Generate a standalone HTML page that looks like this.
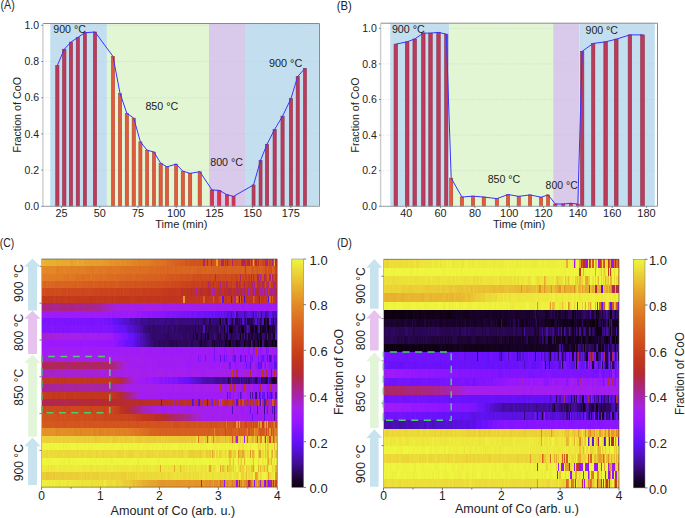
<!DOCTYPE html>
<html><head><meta charset="utf-8"><style>
html,body{margin:0;padding:0;background:#fff;}
#wrap{position:relative;width:685px;height:518px;overflow:hidden;background:#fff;}
.hm{position:absolute;}
.r{position:absolute;left:0;width:100%;}
svg{position:absolute;left:0;top:0;}
svg text{font-family:"Liberation Sans", sans-serif;}
</style></head><body><div id="wrap">
<div class="hm" style="left:41.5px;top:0;width:235.8px"><div class="r" style="top:259.00px;height:7.66px;background:linear-gradient(90deg,#e9b430 0 1.2px,#e9b530 0 2.4px,#e8b330 0 3.5px,#e8ad2e 0 4.7px,#e9b430 0 5.9px,#e8b22f 0 7.1px,#e8ae2f 0 8.3px,#e8b12f 0 9.4px,#e8b02f 0 11.8px,#e8ae2f 0 13.0px,#e8af2f 0 14.1px,#e7ab2e 0 15.3px,#e7ac2e 0 16.5px,#e7ab2e 0 17.7px,#e8ae2f 0 18.9px,#e7ac2e 0 20.0px,#e7aa2e 0 21.2px,#e7a82d 0 22.4px,#e7a92e 0 23.6px,#e7aa2e 0 24.8px,#e7a82d 0 25.9px,#e8ad2e 0 27.1px,#e7ac2e 0 28.3px,#e69f2b 0 29.5px,#e6a12c 0 30.7px,#e7a62d 0 31.8px,#e6a52d 0 33.0px,#e7a72d 0 34.2px,#e7a62d 0 35.4px,#e7ac2e 0 36.5px,#e6a12c 0 37.7px,#e6a32c 0 38.9px,#e7ab2e 0 40.1px,#e7a62d 0 41.3px,#e6a52d 0 42.4px,#e6a12c 0 43.6px,#e59d2b 0 44.8px,#e6a22c 0 47.2px,#e59d2b 0 48.3px,#e59e2b 0 49.5px,#e6a02b 0 50.7px,#e59d2b 0 51.9px,#e69f2b 0 54.2px,#e59f2b 0 55.4px,#e59d2b 0 56.6px,#e69f2b 0 57.8px,#e6a02b 0 59.0px,#e59e2b 0 60.1px,#e59a2a 0 61.3px,#e59d2b 0 62.5px,#e4992a 0 63.7px,#e59c2a 0 64.8px,#e49529 0 66.0px,#e59a2a 0 67.2px,#e49729 0 68.4px,#e39228 0 69.6px,#e49429 0 73.1px,#e39027 0 74.3px,#e38e27 0 75.5px,#e39128 0 76.6px,#e38e27 0 77.8px,#e39027 0 79.0px,#e39028 0 80.2px,#e28926 0 81.4px,#e38d27 0 82.5px,#e38f27 0 83.7px,#e28a26 0 84.9px,#e28826 0 86.1px,#e28b26 0 87.2px,#e28926 0 88.4px,#e28a26 0 89.6px,#e18625 0 90.8px,#e18225 0 92.0px,#e18525 0 93.1px,#e18325 0 94.3px,#e18525 0 95.5px,#e18325 0 96.7px,#e07e24 0 99.0px,#e18325 0 100.2px,#e08124 0 101.4px,#e07d24 0 102.6px,#e07e24 0 107.3px,#df7b23 0 108.5px,#df7a23 0 109.6px,#df7823 0 110.8px,#df7b23 0 112.0px,#dd7222 0 113.2px,#de7622 0 115.5px,#dd7222 0 116.7px,#de7522 0 117.9px,#dd7222 0 119.1px,#de7422 0 120.3px,#dd7022 0 121.4px,#dd7122 0 123.8px,#dc6e21 0 125.0px,#db6a21 0 126.2px,#da6721 0 127.3px,#dc6d21 0 128.5px,#da6721 0 129.7px,#d96520 0 132.0px,#d86320 0 133.2px,#d96420 0 134.4px,#d86120 0 135.6px,#d76020 0 136.8px,#d65e1f 0 137.9px,#d75f20 0 139.1px,#d55b1f 0 140.3px,#d65d1f 0 142.7px,#d4561f 0 143.8px,#d2531e 0 145.0px,#d4571f 0 146.2px,#d55a1f 0 147.4px,#d3541e 0 148.6px,#d2521e 0 149.7px,#d3561e 0 150.9px,#d2521e 0 152.1px,#d2531e 0 154.4px,#d3551e 0 155.6px,#d2521e 0 158.0px,#d1511e 0 159.2px,#d2531e 0 160.3px,#d2521e 0 161.5px,#ad2667 0 162.7px,#d1511e 0 165.1px,#b1284e 0 166.2px,#d2531e 0 167.4px,#d3541e 0 168.6px,#aa2584 0 169.8px,#d1501e 0 171.0px,#d04f1e 0 172.1px,#d2511e 0 174.5px,#e59e2b 0 175.7px,#d04f1e 0 176.8px,#d2531e 0 178.0px,#d3541e 0 179.2px,#a824a5 0 180.4px,#ae2763 0 181.6px,#d3541e 0 182.7px,#bc3026 0 183.9px,#cf4c1d 0 185.1px,#b72b2d 0 186.3px,#cd471d 0 187.5px,#d04e1d 0 188.6px,#d4571f 0 189.8px,#ac2672 0 191.0px,#d2521e 0 192.2px,#cf4d1d 0 193.4px,#d04f1e 0 194.5px,#ce4a1d 0 195.7px,#d1501e 0 196.9px,#d04e1e 0 198.1px,#d3541e 0 199.3px,#a92598 0 200.4px,#b62a2f 0 201.6px,#ab2678 0 202.8px,#aa258c 0 204.0px,#cb441c 0 205.1px,#ac266f 0 206.3px,#b4293d 0 207.5px,#d2511e 0 208.7px,#ae2760 0 209.9px,#d1501e 0 211.0px,#e7ab2e 0 212.2px,#d2531e 0 213.4px,#b92d2b 0 214.6px,#ce4a1d 0 215.8px,#bf3320 0 216.9px,#d3551e 0 218.1px,#d04f1e 0 219.3px,#d1501e 0 220.5px,#ca431c 0 221.7px,#cd481d 0 222.8px,#ba2e29 0 224.0px,#a8259a 0 225.2px,#ac2673 0 226.4px,#d2521e 0 227.5px,#c73d1d 0 228.7px,#ce4b1d 0 229.9px,#aa258d 0 231.1px,#ce4a1d 0 232.3px,#e8ae2f 0 233.4px,#b72b2d 0 234.6px,#bf331f 0 235.8px)"></div>
<div class="r" style="top:266.36px;height:7.66px;background:linear-gradient(90deg,#e28a26 0 1.2px,#e18725 0 2.4px,#e28b26 0 3.5px,#e18525 0 4.7px,#e18725 0 7.1px,#e38d27 0 8.3px,#e18325 0 9.4px,#e28826 0 10.6px,#e28926 0 11.8px,#e28726 0 13.0px,#e28926 0 14.1px,#e18325 0 15.3px,#e07f24 0 16.5px,#e18725 0 17.7px,#e08124 0 18.9px,#e18325 0 20.0px,#e08124 0 21.2px,#e18625 0 22.4px,#e18525 0 23.6px,#e08124 0 24.8px,#e18525 0 25.9px,#e18225 0 27.1px,#e08124 0 28.3px,#e08224 0 29.5px,#e08024 0 30.7px,#e18225 0 31.8px,#e08124 0 33.0px,#e07f24 0 34.2px,#e18225 0 35.4px,#e07e24 0 36.5px,#e08024 0 38.9px,#e18225 0 40.1px,#e07d24 0 41.3px,#e18225 0 42.4px,#e07e24 0 43.6px,#e07c24 0 44.8px,#df7b23 0 46.0px,#e07e24 0 47.2px,#df7c23 0 48.3px,#df7823 0 50.7px,#df7923 0 53.1px,#e07d24 0 55.4px,#df7c23 0 56.6px,#df7a23 0 57.8px,#df7723 0 59.0px,#df7823 0 60.1px,#df7a23 0 61.3px,#e07d24 0 62.5px,#df7a23 0 63.7px,#de7622 0 64.8px,#de7722 0 66.0px,#de7522 0 67.2px,#de7422 0 68.4px,#de7522 0 69.6px,#de7622 0 70.7px,#df7a23 0 71.9px,#de7422 0 73.1px,#df7823 0 75.5px,#de7422 0 76.6px,#df7723 0 77.8px,#de7422 0 79.0px,#dd7222 0 80.2px,#de7322 0 81.4px,#dd7222 0 82.5px,#dd7122 0 86.1px,#dd7222 0 87.2px,#dc6f21 0 88.4px,#dd7022 0 89.6px,#dc6d21 0 90.8px,#dd7022 0 92.0px,#dd7122 0 93.1px,#dc6f21 0 95.5px,#dd7022 0 96.7px,#dc6d21 0 99.0px,#dc6f21 0 100.2px,#dd7022 0 101.4px,#dc6e21 0 102.6px,#dd7222 0 103.8px,#db6c21 0 104.9px,#dc6e21 0 106.1px,#dc6f21 0 107.3px,#db6b21 0 108.5px,#db6a21 0 109.6px,#da6921 0 110.8px,#db6b21 0 112.0px,#dc6d21 0 113.2px,#db6b21 0 114.4px,#db6a21 0 115.5px,#da6921 0 116.7px,#db6b21 0 117.9px,#d96520 0 119.1px,#da6921 0 121.4px,#d96620 0 122.6px,#dc6d21 0 123.8px,#d96520 0 125.0px,#d96620 0 127.3px,#db6a21 0 128.5px,#d96620 0 129.7px,#da6921 0 132.0px,#da6821 0 133.2px,#d96420 0 134.4px,#d96620 0 135.6px,#db6b21 0 136.8px,#d96420 0 137.9px,#d96520 0 139.1px,#d96620 0 140.3px,#da6821 0 141.5px,#da6721 0 142.7px,#da6821 0 143.8px,#d96420 0 145.0px,#da6821 0 146.2px,#da6721 0 147.4px,#d86220 0 148.6px,#da6921 0 149.7px,#db6a21 0 150.9px,#d86320 0 152.1px,#d96520 0 153.3px,#da6821 0 154.4px,#d86220 0 155.6px,#d76020 0 156.8px,#d86220 0 158.0px,#d86320 0 160.3px,#d96520 0 161.5px,#d96420 0 162.7px,#d86120 0 163.9px,#d96520 0 165.1px,#da6721 0 166.2px,#d96620 0 167.4px,#d96520 0 168.6px,#d86320 0 169.8px,#d96520 0 171.0px,#d86120 0 172.1px,#d96420 0 173.3px,#d86220 0 174.5px,#d96520 0 175.7px,#d86320 0 176.8px,#d76020 0 178.0px,#d86220 0 179.2px,#d96420 0 180.4px,#d75f20 0 181.6px,#d76020 0 183.9px,#d75e20 0 185.1px,#d86320 0 186.3px,#d96420 0 187.5px,#d86220 0 188.6px,#d86120 0 189.8px,#d76020 0 191.0px,#d86120 0 192.2px,#d75f20 0 193.4px,#d86220 0 195.7px,#d86120 0 196.9px,#d75f20 0 198.1px,#d76020 0 199.3px,#d86220 0 201.6px,#d75e20 0 202.8px,#c8401c 0 204.0px,#d76020 0 205.1px,#d86220 0 206.3px,#d86320 0 207.5px,#da6821 0 208.7px,#d65d1f 0 209.9px,#d4561f 0 211.0px,#d5591f 0 212.2px,#da6721 0 213.4px,#d65c1f 0 214.6px,#d2521e 0 215.8px,#d96620 0 216.9px,#d55a1f 0 218.1px,#d96520 0 219.3px,#d76020 0 220.5px,#d65c1f 0 221.7px,#d4581f 0 222.8px,#cf4b1d 0 224.0px,#d2521e 0 225.2px,#d65c1f 0 226.4px,#d2521e 0 228.7px,#cf4c1d 0 229.9px,#da6721 0 231.1px,#d4571f 0 232.3px,#d55b1f 0 233.4px,#ca411c 0 234.6px,#de7322 0 235.8px)"></div>
<div class="r" style="top:273.72px;height:7.66px;background:linear-gradient(90deg,#e18425 0 1.2px,#e08024 0 2.4px,#df7b23 0 3.5px,#e08124 0 4.7px,#e07e24 0 5.9px,#df7b23 0 7.1px,#e08124 0 8.3px,#e07f24 0 9.4px,#e07c24 0 10.6px,#e08024 0 11.8px,#df7b23 0 13.0px,#e07e24 0 14.1px,#df7a23 0 15.3px,#e07d24 0 16.5px,#df7923 0 17.7px,#e07f24 0 18.9px,#df7b23 0 20.0px,#e07e24 0 21.2px,#df7823 0 23.6px,#df7b23 0 24.8px,#dd7222 0 25.9px,#de7522 0 27.1px,#df7b23 0 28.3px,#df7923 0 29.5px,#df7a23 0 30.7px,#de7622 0 31.8px,#df7823 0 33.0px,#de7422 0 34.2px,#dd7222 0 35.4px,#dd7122 0 36.5px,#de7322 0 40.1px,#db6c21 0 41.3px,#dc6f21 0 42.4px,#dd7222 0 43.6px,#de7322 0 44.8px,#dd7122 0 46.0px,#dd7022 0 47.2px,#dc6d21 0 48.3px,#de7622 0 49.5px,#dc6f21 0 50.7px,#de7422 0 53.1px,#dd7122 0 54.2px,#dc6e21 0 55.4px,#dd7022 0 56.6px,#dc6d21 0 57.8px,#dc6f21 0 59.0px,#dc6e21 0 60.1px,#dc6f21 0 61.3px,#dd7022 0 62.5px,#dd7122 0 63.7px,#db6c21 0 64.8px,#dc6f21 0 66.0px,#db6b21 0 67.2px,#db6a21 0 68.4px,#db6b21 0 69.6px,#da6921 0 70.7px,#dc6d21 0 74.3px,#db6a21 0 76.6px,#da6821 0 77.8px,#da6721 0 79.0px,#db6a21 0 80.2px,#da6921 0 81.4px,#d96620 0 82.5px,#da6921 0 83.7px,#d96420 0 84.9px,#da6721 0 86.1px,#d96620 0 88.4px,#d96420 0 89.6px,#da6821 0 90.8px,#da6721 0 92.0px,#da6821 0 93.1px,#d96520 0 94.3px,#d86220 0 95.5px,#d96420 0 96.7px,#d86220 0 97.9px,#d96520 0 99.0px,#d96620 0 100.2px,#d96420 0 101.4px,#d86220 0 103.8px,#d86320 0 104.9px,#d75f20 0 106.1px,#d86220 0 108.5px,#d76020 0 110.8px,#d86120 0 112.0px,#d75e20 0 114.4px,#d86120 0 115.5px,#d76020 0 116.7px,#d86220 0 117.9px,#d65d1f 0 119.1px,#d55b1f 0 120.3px,#d75f20 0 122.6px,#d55b1f 0 123.8px,#d5591f 0 125.0px,#d55b1f 0 126.2px,#d4571f 0 127.3px,#d55a1f 0 128.5px,#d3551e 0 129.7px,#d5591f 0 130.9px,#d3551e 0 132.0px,#d4581f 0 133.2px,#d55a1f 0 134.4px,#d4561f 0 135.6px,#d4581f 0 136.8px,#d3551e 0 137.9px,#d3541e 0 139.1px,#d2521e 0 140.3px,#d4561f 0 141.5px,#d3541e 0 142.7px,#d4561f 0 143.8px,#d1501e 0 145.0px,#d2521e 0 147.4px,#d3541e 0 149.7px,#d04f1e 0 150.9px,#d04d1d 0 152.1px,#cf4c1d 0 153.3px,#d2511e 0 154.4px,#d04e1e 0 155.6px,#d04d1d 0 156.8px,#d04e1e 0 158.0px,#ce491d 0 159.2px,#ce4b1d 0 160.3px,#d1501e 0 161.5px,#d04e1e 0 162.7px,#d04e1d 0 163.9px,#cf4b1d 0 165.1px,#d04e1e 0 166.2px,#d1511e 0 167.4px,#ce4a1d 0 168.6px,#d04d1d 0 169.8px,#cf4c1d 0 171.0px,#d04e1d 0 172.1px,#ce4b1d 0 173.3px,#b02855 0 174.5px,#cf4d1d 0 175.7px,#ce4a1d 0 176.8px,#cf4b1d 0 178.0px,#ce4b1d 0 179.2px,#d2511e 0 180.4px,#cf4d1d 0 181.6px,#cf4c1d 0 182.7px,#cc471d 0 183.9px,#ce4a1d 0 185.1px,#d04f1e 0 186.3px,#ce4a1d 0 187.5px,#cf4c1d 0 188.6px,#cc451c 0 189.8px,#ce491d 0 191.0px,#ce4a1d 0 192.2px,#d04e1d 0 193.4px,#cb441c 0 194.5px,#cb451c 0 195.7px,#cf4c1d 0 196.9px,#cf4d1d 0 198.1px,#ae275f 0 199.3px,#d1501e 0 200.4px,#cb441c 0 201.6px,#ce4a1d 0 202.8px,#c9411c 0 205.1px,#cf4b1d 0 206.3px,#c63d1d 0 207.5px,#ce491d 0 208.7px,#b32945 0 209.9px,#d2521e 0 211.0px,#ac2672 0 212.2px,#ce4b1d 0 213.4px,#ce491d 0 214.6px,#b32945 0 215.8px,#b12851 0 216.9px,#ca431c 0 218.1px,#a92598 0 219.3px,#ca421c 0 220.5px,#d04e1d 0 221.7px,#b12850 0 222.8px,#a8259b 0 224.0px,#ca411c 0 225.2px,#d14f1e 0 226.4px,#d55a1f 0 227.5px,#ab2679 0 228.7px,#d75f20 0 229.9px,#af275d 0 231.1px,#ca431c 0 232.3px,#cc461c 0 233.4px,#c1361e 0 234.6px,#ac266d 0 235.8px)"></div>
<div class="r" style="top:281.08px;height:7.66px;background:linear-gradient(90deg,#da6921 0 1.2px,#db6a21 0 2.4px,#d86320 0 3.5px,#d96620 0 4.7px,#db6c21 0 5.9px,#d96520 0 7.1px,#da6721 0 8.3px,#da6921 0 9.4px,#d96520 0 10.6px,#da6821 0 11.8px,#d86320 0 13.0px,#d86220 0 14.1px,#d86320 0 15.3px,#d86220 0 16.5px,#d96520 0 17.7px,#d96420 0 18.9px,#d96520 0 20.0px,#d86220 0 21.2px,#da6921 0 22.4px,#d86320 0 24.8px,#d96420 0 25.9px,#d86220 0 27.1px,#d86120 0 28.3px,#d86220 0 29.5px,#d96420 0 30.7px,#d86320 0 33.0px,#d76020 0 34.2px,#d75f20 0 35.4px,#d96520 0 36.5px,#d76020 0 37.7px,#d86120 0 40.1px,#d86220 0 41.3px,#d65d1f 0 42.4px,#d75e20 0 43.6px,#d65e1f 0 46.0px,#d55a1f 0 47.2px,#d65e1f 0 48.3px,#d4581f 0 49.5px,#d75e20 0 53.1px,#d55a1f 0 54.2px,#d75e20 0 55.4px,#d55b1f 0 56.6px,#d55a1f 0 60.1px,#d65c1f 0 61.3px,#d65d1f 0 62.5px,#d4571f 0 63.7px,#d5591f 0 64.8px,#d65c1f 0 66.0px,#d55a1f 0 67.2px,#d55b1f 0 68.4px,#d4571f 0 69.6px,#d55b1f 0 70.7px,#d3561e 0 71.9px,#d5591f 0 73.1px,#d55b1f 0 74.3px,#d65c1f 0 75.5px,#d5591f 0 77.8px,#d4561f 0 80.2px,#d5591f 0 81.4px,#d4571f 0 82.5px,#d4561f 0 83.7px,#d3531e 0 84.9px,#d4561f 0 86.1px,#d4571f 0 87.2px,#d3541e 0 89.6px,#d4581f 0 90.8px,#d3551e 0 92.0px,#d3541e 0 93.1px,#d2521e 0 94.3px,#d2531e 0 96.7px,#d3561e 0 97.9px,#d2521e 0 99.0px,#d4561f 0 100.2px,#d1511e 0 101.4px,#d2521e 0 102.6px,#d3541e 0 103.8px,#d2511e 0 104.9px,#d1501e 0 106.1px,#d1511e 0 107.3px,#d2521e 0 108.5px,#d04d1d 0 109.6px,#d1501e 0 112.0px,#d14f1e 0 113.2px,#d2511e 0 114.4px,#d04e1e 0 116.7px,#d14f1e 0 117.9px,#d1501e 0 119.1px,#d04e1d 0 120.3px,#d1501e 0 121.4px,#cf4b1d 0 122.6px,#d04f1e 0 123.8px,#ce4a1d 0 125.0px,#cf4b1d 0 127.3px,#d04e1e 0 128.5px,#cf4b1d 0 129.7px,#cd481d 0 130.9px,#cf4b1d 0 132.0px,#cd481d 0 133.2px,#cc461d 0 134.4px,#cd481d 0 135.6px,#cc471d 0 136.8px,#cd481d 0 137.9px,#cb441c 0 139.1px,#cc461c 0 141.5px,#cb441c 0 142.7px,#cb431c 0 143.8px,#ca411c 0 145.0px,#cb441c 0 146.2px,#ca421c 0 147.4px,#ca431c 0 148.6px,#c83f1c 0 149.7px,#c9411c 0 150.9px,#c63d1d 0 152.1px,#c83f1c 0 153.3px,#c9411c 0 154.4px,#c9401c 0 155.6px,#c83f1c 0 156.8px,#c9401c 0 158.0px,#cb441c 0 159.2px,#c83f1c 0 160.3px,#c3381d 0 161.5px,#c9401c 0 162.7px,#ca421c 0 163.9px,#c3391d 0 165.1px,#c83f1c 0 166.2px,#ab267d 0 167.4px,#c3381d 0 168.6px,#c73e1d 0 169.8px,#c83f1c 0 171.0px,#ae2762 0 172.1px,#ca421c 0 173.3px,#c9411c 0 174.5px,#c63c1d 0 175.7px,#c3381d 0 176.8px,#c53b1d 0 178.0px,#a92593 0 179.2px,#c83f1c 0 180.4px,#c3381d 0 181.6px,#c0341e 0 182.7px,#c8401c 0 183.9px,#af275e 0 185.1px,#a722c4 0 186.3px,#c73e1d 0 187.5px,#c8401c 0 188.6px,#c4391d 0 189.8px,#cc461c 0 191.0px,#c83f1c 0 192.2px,#ca421c 0 193.4px,#c9401c 0 194.5px,#b2284a 0 195.7px,#c73d1d 0 196.9px,#aa2583 0 198.1px,#bf3320 0 199.3px,#cc461c 0 200.4px,#c73e1d 0 201.6px,#b22946 0 202.8px,#c73e1d 0 204.0px,#c43a1d 0 206.3px,#c1351e 0 207.5px,#c2371e 0 208.7px,#ab2679 0 209.9px,#ab2674 0 211.0px,#a722c5 0 212.2px,#aa2589 0 213.4px,#c9411c 0 214.6px,#bf3320 0 215.8px,#b2284b 0 216.9px,#aa2587 0 218.1px,#bf3320 0 219.3px,#c73d1d 0 220.5px,#ac266b 0 221.7px,#c1361e 0 222.8px,#d04e1e 0 224.0px,#bd3123 0 225.2px,#c63c1d 0 226.4px,#ab267b 0 227.5px,#d1501e 0 228.7px,#c53a1d 0 229.9px,#c43a1d 0 231.1px,#a92592 0 232.3px,#ab257e 0 233.4px,#be3222 0 234.6px,#c2361e 0 235.8px)"></div>
<div class="r" style="top:288.45px;height:7.66px;background:linear-gradient(90deg,#d14f1e 0 1.2px,#ce4a1d 0 2.4px,#d14f1e 0 3.5px,#cf4b1d 0 4.7px,#cd491d 0 5.9px,#ce4a1d 0 8.3px,#cf4c1d 0 9.4px,#ce4a1d 0 10.6px,#cd491d 0 11.8px,#cf4b1d 0 13.0px,#d14f1e 0 14.1px,#ce4a1d 0 15.3px,#cf4c1d 0 16.5px,#cf4b1d 0 17.7px,#d1501e 0 18.9px,#cc471d 0 20.0px,#cf4d1d 0 21.2px,#cd481d 0 22.4px,#cd491d 0 23.6px,#ce4a1d 0 24.8px,#d1501e 0 25.9px,#cd481d 0 27.1px,#cc461c 0 28.3px,#cf4c1d 0 29.5px,#cd481d 0 31.8px,#cd491d 0 34.2px,#cd481d 0 35.4px,#cd491d 0 37.7px,#ce4a1d 0 38.9px,#cd471d 0 40.1px,#cc461d 0 41.3px,#cc451c 0 42.4px,#cd481d 0 43.6px,#cd471d 0 44.8px,#cd481d 0 47.2px,#ce4a1d 0 48.3px,#cc471d 0 49.5px,#cd481d 0 50.7px,#cb441c 0 53.1px,#cc451c 0 54.2px,#cb431c 0 55.4px,#cc471d 0 56.6px,#ca431c 0 57.8px,#cc451c 0 59.0px,#c9411c 0 60.1px,#ca431c 0 61.3px,#cb441c 0 63.7px,#c9411c 0 64.8px,#cb451c 0 66.0px,#cc461d 0 67.2px,#cc451c 0 68.4px,#ca431c 0 70.7px,#ca411c 0 71.9px,#cb451c 0 73.1px,#cc461c 0 74.3px,#ca421c 0 75.5px,#c9401c 0 76.6px,#cb431c 0 77.8px,#cb441c 0 79.0px,#c73e1d 0 80.2px,#ca431c 0 81.4px,#cc461d 0 82.5px,#cb431c 0 83.7px,#ca431c 0 84.9px,#ca421c 0 86.1px,#cb431c 0 87.2px,#c8401c 0 89.6px,#ca421c 0 90.8px,#c8401c 0 92.0px,#c9411c 0 93.1px,#c73d1d 0 94.3px,#ca421c 0 96.7px,#c9401c 0 99.0px,#ca431c 0 100.2px,#c73e1d 0 103.8px,#c83f1c 0 104.9px,#c73e1d 0 106.1px,#c83f1c 0 107.3px,#c73e1d 0 108.5px,#c63c1d 0 110.8px,#c9411c 0 112.0px,#c73e1d 0 116.7px,#c83f1c 0 117.9px,#c73e1d 0 119.1px,#c63c1d 0 120.3px,#c53b1d 0 121.4px,#c43a1d 0 122.6px,#c4391d 0 123.8px,#c73d1d 0 125.0px,#c4391d 0 126.2px,#c2371e 0 127.3px,#c3381d 0 129.7px,#c4391d 0 130.9px,#c2361e 0 132.0px,#c3381d 0 133.2px,#c2371e 0 134.4px,#c43a1d 0 135.6px,#c4391d 0 136.8px,#c53b1d 0 137.9px,#c3381d 0 139.1px,#bf3321 0 140.3px,#bf3320 0 141.5px,#c0341e 0 142.7px,#c2371e 0 143.8px,#c0341e 0 145.0px,#be3222 0 146.2px,#be3221 0 147.4px,#c0341e 0 148.6px,#b02757 0 149.7px,#bb2f28 0 150.9px,#bf3320 0 152.1px,#bd3124 0 153.3px,#bd3123 0 154.4px,#a724a6 0 155.6px,#bd3124 0 156.8px,#be3222 0 158.0px,#b82c2d 0 160.3px,#ba2e29 0 161.5px,#be3221 0 162.7px,#bb2f27 0 163.9px,#be3222 0 165.1px,#ba2e28 0 166.2px,#b72b2e 0 167.4px,#b52a34 0 168.6px,#a724af 0 169.8px,#a723bc 0 171.0px,#a723b4 0 172.1px,#aa2587 0 173.3px,#a724af 0 174.5px,#be3222 0 175.7px,#b92d2b 0 176.8px,#a724aa 0 178.0px,#af2759 0 179.2px,#a724b2 0 180.4px,#be3222 0 181.6px,#b82c2c 0 182.7px,#b32941 0 183.9px,#bb2f28 0 185.1px,#b02854 0 186.3px,#b4293d 0 187.5px,#b22848 0 188.6px,#b1284f 0 189.8px,#bf331f 0 191.0px,#b52a36 0 192.2px,#bd3124 0 193.4px,#b82c2d 0 194.5px,#ae2763 0 195.7px,#af275c 0 196.9px,#a8259a 0 198.1px,#b92d2b 0 199.3px,#b62a30 0 200.4px,#ab2675 0 201.6px,#ae2762 0 202.8px,#ac2673 0 204.0px,#bf3320 0 205.1px,#b22848 0 206.3px,#a723c0 0 207.5px,#b1284d 0 208.7px,#c4391d 0 209.9px,#b2284a 0 211.0px,#b2284b 0 212.2px,#a723bf 0 213.4px,#b62a32 0 214.6px,#b72b2e 0 216.9px,#b02852 0 218.1px,#a724ae 0 219.3px,#ae2761 0 220.5px,#a724a8 0 221.7px,#b1284e 0 222.8px,#a824a5 0 224.0px,#a723be 0 225.2px,#ac2671 0 226.4px,#c43a1d 0 227.5px,#a92594 0 228.7px,#b2284b 0 229.9px,#a92590 0 231.1px,#a824a5 0 232.3px,#ab267a 0 233.4px,#b72b2e 0 234.6px,#b22849 0 235.8px)"></div>
<div class="r" style="top:295.81px;height:7.66px;background:linear-gradient(90deg,#c63c1d 0 1.2px,#c3381d 0 2.4px,#c4391d 0 5.9px,#c3381d 0 8.3px,#c53b1d 0 9.4px,#c3381d 0 10.6px,#c53b1d 0 11.8px,#c63d1d 0 13.0px,#c53b1d 0 14.1px,#c1361e 0 15.3px,#c43a1d 0 18.9px,#c1361e 0 20.0px,#c43a1d 0 21.2px,#c2371e 0 22.4px,#c53b1d 0 23.6px,#c53a1d 0 24.8px,#c63d1d 0 25.9px,#c3381d 0 27.1px,#c1361e 0 28.3px,#c43a1d 0 30.7px,#c3381d 0 31.8px,#c53a1d 0 33.0px,#c4391d 0 34.2px,#c1361e 0 35.4px,#c2371e 0 37.7px,#c3381d 0 40.1px,#c2371e 0 42.4px,#c3391d 0 43.6px,#c2371e 0 48.3px,#c0341e 0 49.5px,#c3381d 0 50.7px,#c1361e 0 51.9px,#c2371e 0 53.1px,#c0351e 0 54.2px,#c3391d 0 55.4px,#c2371e 0 56.6px,#c1351e 0 57.8px,#c2371e 0 59.0px,#c1361e 0 60.1px,#c43a1d 0 61.3px,#c3381d 0 62.5px,#c1351e 0 63.7px,#c2371e 0 66.0px,#c3391d 0 67.2px,#c2371e 0 69.6px,#c0341e 0 70.7px,#c3381d 0 71.9px,#c43a1d 0 73.1px,#c2371e 0 74.3px,#c1361e 0 75.5px,#c2361e 0 76.6px,#c0341e 0 77.8px,#c2361e 0 79.0px,#c0341e 0 80.2px,#c1361e 0 81.4px,#c1351e 0 82.5px,#c0341e 0 83.7px,#c2371e 0 84.9px,#bf331f 0 86.1px,#c1361e 0 87.2px,#c0341f 0 88.4px,#c3391d 0 90.8px,#c2371e 0 92.0px,#c3391d 0 93.1px,#c2361e 0 95.5px,#c0341e 0 96.7px,#c0341f 0 97.9px,#c1351e 0 99.0px,#c0341e 0 101.4px,#c1361e 0 102.6px,#c0351e 0 103.8px,#bf3320 0 104.9px,#c0341e 0 106.1px,#c0341f 0 107.3px,#c0341e 0 108.5px,#bf3320 0 109.6px,#c2361e 0 110.8px,#c3381d 0 112.0px,#bf3320 0 113.2px,#c1351e 0 115.5px,#bf3320 0 116.7px,#c0341e 0 117.9px,#c2361e 0 119.1px,#c1361e 0 120.3px,#c2371e 0 121.4px,#bf3320 0 122.6px,#bf331f 0 123.8px,#c1351e 0 126.2px,#c0341e 0 129.7px,#c0341f 0 130.9px,#c1351e 0 132.0px,#bd3123 0 133.2px,#c2371e 0 134.4px,#c0341f 0 135.6px,#bf3320 0 136.8px,#c1351e 0 137.9px,#bf3320 0 139.1px,#c1351e 0 140.3px,#c0341e 0 141.5px,#e59c2b 0 142.7px,#c1361e 0 143.8px,#c2361e 0 145.0px,#bf331f 0 146.2px,#c1351e 0 147.4px,#c1361e 0 148.6px,#bf331f 0 149.7px,#c1361e 0 150.9px,#c1351e 0 152.1px,#bf331f 0 153.3px,#c1361e 0 154.4px,#c2371e 0 155.6px,#c1351e 0 158.0px,#c4391d 0 159.2px,#c1361e 0 160.3px,#bf3320 0 161.5px,#d65e1f 0 162.7px,#c0341e 0 165.1px,#c2371e 0 166.2px,#c1351e 0 167.4px,#c43a1d 0 168.6px,#c53b1d 0 169.8px,#bd3123 0 171.0px,#d65c1f 0 172.1px,#c3381d 0 173.3px,#bf3320 0 174.5px,#c1351e 0 175.7px,#c3391d 0 176.8px,#cc461d 0 178.0px,#ca431c 0 179.2px,#d3541e 0 180.4px,#6112f3 0 181.6px,#c73e1d 0 182.7px,#bf3320 0 183.9px,#c1351e 0 185.1px,#c83f1c 0 186.3px,#c3381d 0 187.5px,#c63c1d 0 188.6px,#5a11dd 0 189.8px,#c1351e 0 191.0px,#c73e1d 0 192.2px,#a9258e 0 193.4px,#be3222 0 194.5px,#d96420 0 195.7px,#cb441c 0 196.9px,#5310c9 0 198.1px,#d75e20 0 199.3px,#6712fb 0 200.4px,#c53b1d 0 201.6px,#5510d0 0 202.8px,#c1351e 0 204.0px,#b92d2b 0 205.1px,#c3381d 0 206.3px,#c2361e 0 207.5px,#bf3320 0 208.7px,#c2361e 0 209.9px,#bf3321 0 211.0px,#d75f20 0 212.2px,#cd481d 0 213.4px,#c1361e 0 214.6px,#be3222 0 216.9px,#6112f1 0 218.1px,#cd491d 0 219.3px,#a9258e 0 220.5px,#c1351e 0 221.7px,#c53b1d 0 224.0px,#bc3025 0 225.2px,#c9401c 0 226.4px,#5a11df 0 227.5px,#d96520 0 228.7px,#aa2589 0 229.9px,#d55a1f 0 231.1px,#be3221 0 232.3px,#c43a1d 0 233.4px,#aa2586 0 234.6px,#e7a82d 0 235.8px)"></div>
<div class="r" style="top:303.17px;height:7.66px;background:linear-gradient(90deg,#aa258c 0 1.2px,#ab267b 0 2.4px,#ab2678 0 3.5px,#aa2585 0 4.7px,#a92590 0 5.9px,#ab267d 0 7.1px,#aa2583 0 8.3px,#aa2581 0 9.4px,#a92597 0 10.6px,#ab2580 0 11.8px,#a92598 0 13.0px,#aa258a 0 14.1px,#ab267d 0 15.3px,#a92592 0 17.7px,#aa2588 0 18.9px,#ab2679 0 21.2px,#aa258a 0 22.4px,#ab257f 0 23.6px,#aa2582 0 24.8px,#aa2585 0 25.9px,#aa2584 0 27.1px,#aa258c 0 28.3px,#aa2581 0 29.5px,#ab2580 0 30.7px,#ac2674 0 31.8px,#aa2581 0 33.0px,#a8259b 0 34.2px,#a92592 0 35.4px,#aa2587 0 36.5px,#aa2589 0 37.7px,#a92597 0 38.9px,#aa258b 0 40.1px,#aa258d 0 41.3px,#aa258b 0 42.4px,#aa258c 0 43.6px,#aa2584 0 44.8px,#ab2580 0 46.0px,#aa2586 0 47.2px,#a92594 0 48.3px,#a92592 0 49.5px,#a92591 0 50.7px,#a9258d 0 51.9px,#a92590 0 53.1px,#a92592 0 54.2px,#a8259b 0 55.4px,#a92592 0 56.6px,#a92597 0 57.8px,#a8259b 0 59.0px,#a724a7 0 60.1px,#a724a8 0 61.3px,#a723b6 0 62.5px,#a723bc 0 63.7px,#a723bd 0 64.8px,#a723b9 0 66.0px,#a722c3 0 67.2px,#a622ce 0 68.4px,#a622ca 0 69.6px,#a622cc 0 70.7px,#a621d3 0 71.9px,#a621dd 0 73.1px,#a621dc 0 74.3px,#a620e4 0 75.5px,#a620e8 0 77.8px,#a620e3 0 79.0px,#a621dc 0 80.2px,#a621de 0 81.4px,#a620e5 0 82.5px,#a51fea 0 86.1px,#a620e2 0 87.2px,#a21df1 0 88.4px,#a620e8 0 89.6px,#a31eef 0 90.8px,#a520e9 0 92.0px,#a620e2 0 93.1px,#a41fec 0 94.3px,#a21df0 0 95.5px,#a620e3 0 96.7px,#a620e2 0 97.9px,#a620e9 0 99.0px,#a620e4 0 100.2px,#a41fec 0 101.4px,#a620e5 0 102.6px,#a620e2 0 103.8px,#a620e9 0 104.9px,#a51fea 0 106.1px,#a620e6 0 107.3px,#a620e7 0 108.5px,#a41eed 0 109.6px,#a620e6 0 110.8px,#a620e9 0 112.0px,#a51feb 0 113.2px,#a620e7 0 114.4px,#a620e9 0 115.5px,#a520e9 0 116.7px,#a41eed 0 117.9px,#a520e9 0 119.1px,#a31eef 0 120.3px,#a41fec 0 121.4px,#a21df1 0 123.8px,#a51feb 0 125.0px,#a41eec 0 126.2px,#a41fec 0 127.3px,#a51feb 0 128.5px,#a41fec 0 129.7px,#a31eef 0 130.9px,#a41eed 0 133.2px,#a31eee 0 134.4px,#a31eed 0 135.6px,#a31eee 0 136.8px,#a31eef 0 137.9px,#a31eee 0 139.1px,#a41eed 0 140.3px,#a620e8 0 141.5px,#a21df0 0 142.7px,#a41eec 0 143.8px,#a11df2 0 145.0px,#a51fea 0 146.2px,#a31eef 0 147.4px,#a31eee 0 148.6px,#a51feb 0 149.7px,#a41fec 0 150.9px,#a11cf3 0 152.1px,#a41eed 0 153.3px,#a21def 0 154.4px,#a41eed 0 155.6px,#a31eee 0 156.8px,#a41eed 0 158.0px,#a31eee 0 159.2px,#a21df0 0 160.3px,#a41fec 0 161.5px,#a01cf4 0 162.7px,#a21df1 0 163.9px,#a11cf2 0 165.1px,#a21df0 0 166.2px,#a21df1 0 167.4px,#a21df0 0 168.6px,#a21df1 0 169.8px,#a11df1 0 171.0px,#a01cf5 0 172.1px,#a21df0 0 174.5px,#a11cf2 0 176.8px,#a11cf3 0 178.0px,#a41fec 0 179.2px,#a21df0 0 181.6px,#a11df2 0 182.7px,#a11cf3 0 183.9px,#a01cf4 0 185.1px,#a41eed 0 186.3px,#9f1bf6 0 187.5px,#a21df1 0 188.6px,#a11df2 0 189.8px,#a11cf3 0 191.0px,#9f1bf6 0 192.2px,#a01bf5 0 193.4px,#a21def 0 194.5px,#a01cf4 0 195.7px,#a21df0 0 196.9px,#a21df1 0 200.4px,#9f1bf6 0 201.6px,#a01cf4 0 202.8px,#a21df1 0 204.0px,#9f1bf7 0 205.1px,#a31eef 0 206.3px,#a01cf5 0 207.5px,#a01cf4 0 208.7px,#9f1bf6 0 209.9px,#a11cf3 0 211.0px,#9f1bf6 0 212.2px,#a01cf4 0 213.4px,#9f1bf7 0 214.6px,#a21df1 0 215.8px,#9e1af9 0 216.9px,#a11cf3 0 218.1px,#a01cf4 0 219.3px,#a11cf3 0 220.5px,#9f1bf7 0 221.7px,#a11df2 0 222.8px,#a11cf2 0 224.0px,#a01cf4 0 226.4px,#a01bf5 0 227.5px,#a11cf3 0 228.7px,#9f1bf8 0 229.9px,#a01cf4 0 232.3px,#9e1af9 0 233.4px,#9c19fd 0 234.6px,#9f1bf6 0 235.8px)"></div>
<div class="r" style="top:310.53px;height:7.66px;background:linear-gradient(90deg,#9f1bf6 0 1.2px,#a11cf3 0 2.4px,#9f1bf6 0 3.5px,#9f1bf7 0 4.7px,#9d1afa 0 5.9px,#9f1bf6 0 7.1px,#9e1bf8 0 8.3px,#9e1af9 0 9.4px,#9f1bf7 0 10.6px,#a11cf3 0 11.8px,#9f1bf6 0 13.0px,#9e1af9 0 14.1px,#9f1bf6 0 15.3px,#9e1afa 0 16.5px,#9d19fb 0 17.7px,#a01bf5 0 18.9px,#9e1af8 0 20.0px,#a01cf4 0 21.2px,#9f1bf6 0 22.4px,#9e1af9 0 23.6px,#9f1bf6 0 24.8px,#a01cf4 0 25.9px,#9e1bf8 0 27.1px,#9d1afa 0 28.3px,#9e1af9 0 29.5px,#9e1afa 0 30.7px,#9d1afb 0 31.8px,#9d19fb 0 33.0px,#9f1bf6 0 34.2px,#a01cf5 0 35.4px,#9e1af9 0 36.5px,#a01bf6 0 37.7px,#a01bf5 0 38.9px,#a11cf3 0 40.1px,#9e1af8 0 41.3px,#9e1af9 0 42.4px,#9f1bf7 0 43.6px,#9e1af8 0 44.8px,#9f1bf7 0 46.0px,#a01cf5 0 47.2px,#9e1af9 0 48.3px,#9e1bf8 0 49.5px,#9d19fb 0 50.7px,#9e1af9 0 51.9px,#9d1afa 0 53.1px,#9d1afb 0 54.2px,#9e1af9 0 55.4px,#9d1afa 0 56.6px,#9e1bf8 0 57.8px,#9f1bf7 0 59.0px,#9c19fd 0 60.1px,#9f1bf6 0 61.3px,#9b18ff 0 62.5px,#9e1af8 0 63.7px,#9f1bf7 0 64.8px,#9d19fb 0 66.0px,#9d1afa 0 67.2px,#9d19fb 0 68.4px,#9f1bf7 0 69.6px,#9717ff 0 70.7px,#9c19fc 0 71.9px,#9b18ff 0 73.1px,#9e1af9 0 74.3px,#9f1bf6 0 76.6px,#9e1af8 0 77.8px,#9e1af9 0 79.0px,#9c19fc 0 80.2px,#9f1bf7 0 81.4px,#9e1af8 0 82.5px,#9c19fc 0 83.7px,#9c18fe 0 84.9px,#9c19fc 0 86.1px,#9f1bf7 0 88.4px,#9f1bf6 0 89.6px,#9c18fe 0 90.8px,#9c19fd 0 92.0px,#9e1af9 0 93.1px,#9c19fd 0 95.5px,#9617ff 0 96.7px,#9818ff 0 99.0px,#9617ff 0 100.2px,#9517ff 0 101.4px,#9016ff 0 102.6px,#9a18ff 0 103.8px,#9417ff 0 104.9px,#8e16ff 0 106.1px,#9617ff 0 107.3px,#9117ff 0 108.5px,#9317ff 0 109.6px,#8f16ff 0 110.8px,#8c16ff 0 112.0px,#8b16ff 0 113.2px,#8e16ff 0 115.5px,#8c16ff 0 117.9px,#8d16ff 0 119.1px,#8915ff 0 120.3px,#8a16ff 0 121.4px,#8a15ff 0 122.6px,#8615ff 0 123.8px,#8415ff 0 125.0px,#8214ff 0 126.2px,#7e14ff 0 127.3px,#7c14fe 0 128.5px,#8515ff 0 129.7px,#8014ff 0 130.9px,#7d14ff 0 132.0px,#8415ff 0 133.2px,#8114ff 0 134.4px,#7d14fe 0 135.6px,#8014ff 0 136.8px,#7b14fe 0 137.9px,#7c14fe 0 139.1px,#8014ff 0 140.3px,#7d14fe 0 141.5px,#7813fe 0 142.7px,#7a14fe 0 143.8px,#7b14fe 0 145.0px,#7613fd 0 146.2px,#7513fd 0 147.4px,#7c14fe 0 148.6px,#7413fd 0 149.7px,#7013fc 0 150.9px,#7413fd 0 152.1px,#7a14fe 0 153.3px,#7413fd 0 155.6px,#6a12fb 0 156.8px,#6d13fc 0 158.0px,#7013fc 0 159.2px,#6e13fc 0 160.3px,#7413fd 0 161.5px,#6d13fc 0 162.7px,#6912fb 0 163.9px,#7213fc 0 165.1px,#6b12fb 0 167.4px,#6b13fb 0 168.6px,#6812fb 0 169.8px,#6312f8 0 171.0px,#6f13fc 0 173.3px,#6312f8 0 174.5px,#6812fb 0 175.7px,#5f11ed 0 176.8px,#6512fa 0 179.2px,#5f11ed 0 180.4px,#6a12fb 0 181.6px,#5d11e7 0 182.7px,#6112f2 0 183.9px,#6112f3 0 185.1px,#5510d0 0 186.3px,#5811da 0 187.5px,#5d11e8 0 188.6px,#470ea8 0 189.8px,#5d11e5 0 191.0px,#5d11e7 0 192.2px,#6312f8 0 193.4px,#7213fd 0 194.5px,#410d96 0 195.7px,#5310cb 0 196.9px,#5711d5 0 198.1px,#5610d3 0 199.3px,#5d11e5 0 200.4px,#5c11e3 0 201.6px,#480eaa 0 202.8px,#4c0fb7 0 204.0px,#5610d3 0 205.1px,#5c11e4 0 206.3px,#5f11eb 0 207.5px,#5c11e4 0 208.7px,#5610d4 0 209.9px,#5110c6 0 211.0px,#400c93 0 212.2px,#6612fa 0 213.4px,#5010c1 0 214.6px,#7113fc 0 215.8px,#5010c2 0 216.9px,#6b13fb 0 218.1px,#5610d3 0 219.3px,#3a0b81 0 220.5px,#5811d8 0 221.7px,#5610d2 0 222.8px,#420d99 0 224.0px,#490eae 0 225.2px,#470ea7 0 226.4px,#5711d5 0 227.5px,#6012f0 0 228.7px,#6a12fb 0 229.9px,#5210c7 0 231.1px,#4b0fb2 0 232.3px,#5310ca 0 233.4px,#4d0fb9 0 234.6px,#410d95 0 235.8px)"></div>
<div class="r" style="top:317.89px;height:7.66px;background:linear-gradient(90deg,#7813fe 0 1.2px,#8214ff 0 2.4px,#7b14fe 0 3.5px,#8014ff 0 4.7px,#8114ff 0 5.9px,#7a14fe 0 8.3px,#8014ff 0 9.4px,#7d14ff 0 10.6px,#7d14fe 0 11.8px,#7713fd 0 14.1px,#7e14ff 0 15.3px,#8114ff 0 16.5px,#7a14fe 0 17.7px,#7914fe 0 18.9px,#7d14fe 0 20.0px,#7e14ff 0 22.4px,#7b14fe 0 23.6px,#7613fd 0 24.8px,#8114ff 0 25.9px,#7a14fe 0 27.1px,#8014ff 0 28.3px,#7513fd 0 29.5px,#7d14fe 0 30.7px,#7a14fe 0 31.8px,#7813fe 0 33.0px,#7f14ff 0 34.2px,#8014ff 0 35.4px,#7a14fe 0 36.5px,#7e14ff 0 37.7px,#7813fe 0 38.9px,#7914fe 0 40.1px,#7b14fe 0 41.3px,#7a14fe 0 42.4px,#7d14ff 0 43.6px,#7713fd 0 44.8px,#7e14ff 0 47.2px,#7a14fe 0 48.3px,#7713fd 0 49.5px,#7313fd 0 50.7px,#7b14fe 0 51.9px,#7813fe 0 53.1px,#7b14fe 0 54.2px,#7713fd 0 55.4px,#7b14fe 0 56.6px,#7a14fe 0 57.8px,#7b14fe 0 61.3px,#7e14ff 0 62.5px,#7513fd 0 63.7px,#7813fe 0 64.8px,#7413fd 0 66.0px,#6f13fc 0 67.2px,#6b13fb 0 68.4px,#7113fc 0 69.6px,#6a12fb 0 70.7px,#6512fa 0 73.1px,#6312f7 0 74.3px,#6012f0 0 75.5px,#5d11e6 0 76.6px,#5f11eb 0 77.8px,#5c11e5 0 79.0px,#5b11e0 0 80.2px,#5c11e3 0 81.4px,#5510d1 0 82.5px,#5410cf 0 83.7px,#5510d1 0 86.1px,#5310cb 0 87.2px,#5210c7 0 88.4px,#490ead 0 89.6px,#4e0fbb 0 90.8px,#4c0fb6 0 92.0px,#4b0fb2 0 93.1px,#460ea4 0 94.3px,#470ea7 0 95.5px,#460ea5 0 96.7px,#460ea4 0 97.9px,#410d96 0 99.0px,#3b0b84 0 100.2px,#3e0c8c 0 101.4px,#3f0c90 0 102.6px,#3f0c8f 0 103.8px,#420d99 0 104.9px,#3d0c89 0 106.1px,#3a0b81 0 107.3px,#3b0b84 0 108.5px,#3f0c8e 0 109.6px,#3a0b82 0 110.8px,#3a0b80 0 112.0px,#3a0b81 0 113.2px,#400c91 0 114.4px,#3d0c89 0 115.5px,#3b0b84 0 116.7px,#3f0c8e 0 117.9px,#3e0c8c 0 119.1px,#390b7e 0 120.3px,#3e0c8d 0 121.4px,#3c0c87 0 122.6px,#350a73 0 123.8px,#380a7a 0 125.0px,#3c0b86 0 126.2px,#3c0c88 0 127.3px,#3a0b81 0 128.5px,#380a7a 0 129.7px,#3b0b85 0 130.9px,#350a73 0 132.0px,#3c0b87 0 133.2px,#3a0b80 0 134.4px,#3a0b81 0 135.6px,#380a7b 0 136.8px,#3c0c87 0 137.9px,#32096c 0 139.1px,#370a78 0 140.3px,#3b0b84 0 141.5px,#370a79 0 142.7px,#3e0c8b 0 143.8px,#3a0b82 0 145.0px,#360a77 0 146.2px,#3c0b87 0 147.4px,#380a7c 0 148.6px,#3a0b82 0 149.7px,#360a77 0 152.1px,#3a0b82 0 153.3px,#380a7c 0 154.4px,#360a76 0 155.6px,#350a74 0 156.8px,#3a0b81 0 158.0px,#3b0b84 0 159.2px,#360a76 0 160.3px,#390b7f 0 161.5px,#2c075a 0 162.7px,#33096f 0 163.9px,#310969 0 165.1px,#3a0b81 0 166.2px,#3f0c90 0 167.4px,#230542 0 168.6px,#3c0b85 0 169.8px,#3a0b80 0 171.0px,#2e085f 0 172.1px,#3d0c8a 0 173.3px,#320969 0 174.5px,#340971 0 175.7px,#350a73 0 176.8px,#2a0756 0 178.0px,#110119 0 179.2px,#440d9d 0 180.4px,#360a75 0 181.6px,#410d94 0 182.7px,#300865 0 183.9px,#1b032e 0 185.1px,#33096c 0 186.3px,#5310ca 0 187.5px,#430d9b 0 188.6px,#320969 0 189.8px,#27064b 0 191.0px,#390b7e 0 192.2px,#490eac 0 193.4px,#1e0436 0 194.5px,#250546 0 195.7px,#360a75 0 196.9px,#27064e 0 198.1px,#3b0b84 0 199.3px,#1e0437 0 200.4px,#5510d1 0 201.6px,#3e0c8d 0 202.8px,#2c075b 0 204.0px,#450da2 0 205.1px,#1e0335 0 206.3px,#28064e 0 207.5px,#290652 0 208.7px,#27064b 0 209.9px,#2a0755 0 211.0px,#370a77 0 212.2px,#3e0c8b 0 213.4px,#5510d1 0 214.6px,#340970 0 215.8px,#4c0fb6 0 216.9px,#400c92 0 218.1px,#300864 0 219.3px,#380a7a 0 220.5px,#4e0fbc 0 221.7px,#0f0014 0 222.8px,#22043f 0 224.0px,#2c075b 0 225.2px,#140120 0 226.4px,#170226 0 227.5px,#6112f2 0 228.7px,#390b7e 0 229.9px,#410d95 0 231.1px,#1b0330 0 232.3px,#4d0fb8 0 233.4px,#3a0b81 0 234.6px,#14011f 0 235.8px)"></div>
<div class="r" style="top:325.25px;height:7.66px;background:linear-gradient(90deg,#8314ff 0 1.2px,#8014ff 0 2.4px,#8415ff 0 3.5px,#8615ff 0 4.7px,#8014ff 0 5.9px,#8214ff 0 7.1px,#8014ff 0 8.3px,#8615ff 0 9.4px,#8515ff 0 10.6px,#8b16ff 0 11.8px,#8214ff 0 13.0px,#7f14ff 0 14.1px,#8315ff 0 15.3px,#8114ff 0 16.5px,#8314ff 0 17.7px,#8615ff 0 18.9px,#8114ff 0 20.0px,#8415ff 0 21.2px,#7b14fe 0 22.4px,#8515ff 0 23.6px,#8214ff 0 24.8px,#8114ff 0 25.9px,#8014ff 0 27.1px,#8615ff 0 28.3px,#8014ff 0 29.5px,#8615ff 0 30.7px,#8014ff 0 31.8px,#8214ff 0 34.2px,#8815ff 0 35.4px,#8214ff 0 37.7px,#8114ff 0 38.9px,#8014ff 0 40.1px,#7f14ff 0 41.3px,#8715ff 0 42.4px,#8615ff 0 43.6px,#7f14ff 0 44.8px,#8114ff 0 46.0px,#7d14fe 0 47.2px,#8415ff 0 48.3px,#8314ff 0 49.5px,#8114ff 0 50.7px,#7e14ff 0 51.9px,#8314ff 0 54.2px,#8014ff 0 55.4px,#8314ff 0 56.6px,#7c14fe 0 57.8px,#7e14ff 0 59.0px,#7d14fe 0 60.1px,#8114ff 0 61.3px,#8615ff 0 62.5px,#8014ff 0 63.7px,#8415ff 0 64.8px,#7f14ff 0 66.0px,#7c14fe 0 67.2px,#7f14ff 0 68.4px,#7c14fe 0 69.6px,#7d14fe 0 70.7px,#7914fe 0 71.9px,#7213fc 0 73.1px,#6a12fb 0 74.3px,#7113fc 0 75.5px,#6b13fb 0 76.6px,#6812fb 0 77.8px,#6612fa 0 79.0px,#6712fb 0 80.2px,#6612fa 0 81.4px,#6312f9 0 82.5px,#6712fa 0 83.7px,#5d11e6 0 84.9px,#5d11e7 0 86.1px,#5811da 0 87.2px,#5711d6 0 89.6px,#5610d3 0 90.8px,#5010c1 0 92.0px,#5310cb 0 93.1px,#4c0fb6 0 94.3px,#4e0fbd 0 95.5px,#4a0eaf 0 97.9px,#460ea5 0 99.0px,#420d98 0 100.2px,#420d97 0 101.4px,#3a0b81 0 102.6px,#370a79 0 104.9px,#390b7f 0 106.1px,#310969 0 107.3px,#320969 0 108.5px,#380b7d 0 109.6px,#33096e 0 110.8px,#33096d 0 112.0px,#300864 0 113.2px,#33096d 0 114.4px,#340971 0 115.5px,#32096b 0 116.7px,#350972 0 117.9px,#33096e 0 119.1px,#350a74 0 120.3px,#340971 0 121.4px,#310969 0 122.6px,#340971 0 123.8px,#370a79 0 125.0px,#32096b 0 126.2px,#2d085e 0 127.3px,#32096a 0 128.5px,#300866 0 129.7px,#390b7e 0 130.9px,#33096d 0 132.0px,#2d075d 0 133.2px,#300864 0 134.4px,#350972 0 135.6px,#2c075b 0 136.8px,#2e0861 0 137.9px,#300864 0 139.1px,#2f0863 0 140.3px,#2e085e 0 141.5px,#300864 0 142.7px,#2b0757 0 143.8px,#2d075d 0 146.2px,#2e085f 0 149.7px,#2d075d 0 150.9px,#2c075b 0 152.1px,#2e0861 0 153.3px,#1d0333 0 154.4px,#33096d 0 155.6px,#27064b 0 156.8px,#2f0863 0 158.0px,#2e0860 0 159.2px,#2a0753 0 160.3px,#310868 0 161.5px,#4f0fc0 0 162.7px,#2b0756 0 163.9px,#250547 0 165.1px,#33096d 0 166.2px,#26064b 0 167.4px,#2a0754 0 168.6px,#2e0860 0 169.8px,#280650 0 171.0px,#310969 0 172.1px,#2c0759 0 173.3px,#2e085f 0 174.5px,#290652 0 175.7px,#2f0863 0 176.8px,#3c0c88 0 178.0px,#350972 0 179.2px,#2c075b 0 180.4px,#300866 0 181.6px,#19022a 0 182.7px,#380a7a 0 183.9px,#400c91 0 185.1px,#180227 0 186.3px,#3e0c8d 0 187.5px,#0c000e 0 188.6px,#110118 0 189.8px,#180227 0 191.0px,#28064f 0 192.2px,#2d085e 0 193.4px,#290651 0 194.5px,#370a78 0 195.7px,#240544 0 196.9px,#250547 0 198.1px,#2d075d 0 199.3px,#12011b 0 200.4px,#0c000e 0 201.6px,#2d075d 0 202.8px,#290652 0 204.0px,#380b7d 0 205.1px,#4d0fb9 0 206.3px,#3f0c90 0 207.5px,#1e0436 0 208.7px,#1b032f 0 209.9px,#100116 0 211.0px,#1b032f 0 212.2px,#2f0863 0 213.4px,#0f0115 0 214.6px,#290651 0 215.8px,#400c92 0 216.9px,#430d9a 0 218.1px,#0c000e 0 219.3px,#2a0755 0 220.5px,#160223 0 221.7px,#1a022c 0 222.8px,#1c0331 0 224.0px,#2d075d 0 225.2px,#14011f 0 226.4px,#0c000e 0 227.5px,#21043e 0 228.7px,#2a0653 0 229.9px,#1d0334 0 231.1px,#27064c 0 232.3px,#21043e 0 233.4px,#440d9e 0 234.6px,#0c000e 0 235.8px)"></div>
<div class="r" style="top:332.61px;height:7.66px;background:linear-gradient(90deg,#a622ca 0 2.4px,#a722c7 0 3.5px,#a621d3 0 5.9px,#a621d9 0 7.1px,#a621da 0 8.3px,#a621d5 0 9.4px,#a622d1 0 10.6px,#a621d5 0 11.8px,#a620e8 0 13.0px,#a621d7 0 14.1px,#a621db 0 15.3px,#a621e0 0 16.5px,#a621dc 0 17.7px,#a621d7 0 18.9px,#a621dd 0 20.0px,#a620e5 0 21.2px,#a722c8 0 22.4px,#a620e6 0 23.6px,#a621df 0 24.8px,#a621da 0 25.9px,#a620e9 0 27.1px,#a620e1 0 28.3px,#a520e9 0 29.5px,#a620e8 0 30.7px,#a51fea 0 31.8px,#a621db 0 33.0px,#a41fec 0 34.2px,#a620e6 0 35.4px,#a620e9 0 36.5px,#a31eef 0 37.7px,#a621e0 0 38.9px,#a41fec 0 40.1px,#a51feb 0 41.3px,#a51fea 0 42.4px,#a31eee 0 44.8px,#a41fec 0 46.0px,#a31eef 0 47.2px,#a41fec 0 48.3px,#a520e9 0 49.5px,#a21df0 0 50.7px,#a11df2 0 51.9px,#a31eee 0 53.1px,#a41eed 0 55.4px,#a11df2 0 56.6px,#9f1bf6 0 57.8px,#a41eed 0 59.0px,#a31eee 0 60.1px,#a41fec 0 61.3px,#a11cf3 0 62.5px,#a31def 0 63.7px,#a31eee 0 64.8px,#9f1bf8 0 66.0px,#a11df2 0 67.2px,#a11cf3 0 68.4px,#9e1af8 0 69.6px,#9d19fb 0 70.7px,#9c19fd 0 71.9px,#9817ff 0 73.1px,#9116ff 0 74.3px,#9016ff 0 75.5px,#8f16ff 0 76.6px,#8a15ff 0 77.8px,#8d16ff 0 79.0px,#8615ff 0 80.2px,#8415ff 0 81.4px,#7b14fe 0 82.5px,#7f14ff 0 83.7px,#7713fd 0 84.9px,#7a14fe 0 86.1px,#6b13fb 0 87.2px,#6e13fc 0 88.4px,#6712fb 0 89.6px,#6312f9 0 90.8px,#6612fa 0 92.0px,#6112f1 0 93.1px,#5a11df 0 94.3px,#5c11e5 0 95.5px,#5510d1 0 96.7px,#5610d2 0 97.9px,#4d0fb9 0 99.0px,#4d0fba 0 100.2px,#4a0eb1 0 101.4px,#470ea8 0 102.6px,#410d96 0 103.8px,#3d0c8a 0 104.9px,#3f0c8f 0 106.1px,#3d0c8a 0 107.3px,#380a7a 0 108.5px,#32096c 0 109.6px,#2f0862 0 110.8px,#32096c 0 112.0px,#310969 0 113.2px,#310868 0 114.4px,#34096f 0 115.5px,#33096f 0 116.7px,#340971 0 117.9px,#32096b 0 119.1px,#300865 0 120.3px,#32096b 0 121.4px,#310969 0 122.6px,#2d075e 0 123.8px,#310969 0 125.0px,#2d075d 0 126.2px,#2c075a 0 127.3px,#2f0864 0 128.5px,#300865 0 129.7px,#340970 0 130.9px,#310867 0 132.0px,#33096e 0 133.2px,#360a76 0 134.4px,#32096a 0 135.6px,#32096c 0 136.8px,#2f0863 0 137.9px,#34096f 0 139.1px,#310969 0 140.3px,#310968 0 141.5px,#2d085e 0 142.7px,#2e085f 0 143.8px,#2f0861 0 145.0px,#310868 0 146.2px,#340970 0 147.4px,#2b0759 0 148.6px,#300865 0 149.7px,#2f0862 0 150.9px,#180228 0 152.1px,#300866 0 153.3px,#2e0860 0 154.4px,#1d0334 0 155.6px,#2c075b 0 156.8px,#32096a 0 158.0px,#2a0755 0 159.2px,#1a032d 0 160.3px,#300864 0 161.5px,#2d075e 0 162.7px,#0c000e 0 163.9px,#2f0863 0 165.1px,#19022b 0 166.2px,#19022a 0 167.4px,#2f0861 0 168.6px,#2b0758 0 169.8px,#310968 0 171.0px,#2c075b 0 172.1px,#3a0b82 0 173.3px,#360a76 0 174.5px,#2d075d 0 175.7px,#1e0436 0 176.8px,#2e0861 0 178.0px,#1f0438 0 179.2px,#300865 0 180.4px,#340971 0 181.6px,#220540 0 182.7px,#2d075d 0 183.9px,#160224 0 185.1px,#1c0331 0 186.3px,#3e0c8b 0 187.5px,#300865 0 188.6px,#1f0438 0 189.8px,#2d075d 0 191.0px,#2f0863 0 192.2px,#280650 0 193.4px,#300866 0 194.5px,#32096c 0 195.7px,#370a78 0 196.9px,#300864 0 198.1px,#0e0011 0 199.3px,#3c0b85 0 200.4px,#250548 0 201.6px,#400c92 0 202.8px,#13011d 0 204.0px,#2d075e 0 205.1px,#3c0b87 0 206.3px,#1c0331 0 207.5px,#2a0754 0 208.7px,#1e0436 0 209.9px,#1d0333 0 211.0px,#2c0759 0 212.2px,#290651 0 213.4px,#230543 0 214.6px,#0d0010 0 215.8px,#2b0759 0 216.9px,#22043f 0 218.1px,#11011a 0 219.3px,#1f0438 0 220.5px,#350a74 0 221.7px,#33096e 0 222.8px,#240545 0 224.0px,#1a022c 0 225.2px,#460ea3 0 226.4px,#20043a 0 227.5px,#230542 0 228.7px,#360a75 0 229.9px,#2f0861 0 231.1px,#11011a 0 233.4px,#5210c7 0 234.6px,#0c000e 0 235.8px)"></div>
<div class="r" style="top:339.97px;height:7.66px;background:linear-gradient(90deg,#9c19fd 0 2.4px,#9f1bf6 0 3.5px,#9c19fd 0 4.7px,#9e1af9 0 5.9px,#9c19fd 0 7.1px,#9d19fb 0 8.3px,#9b18ff 0 9.4px,#9a18ff 0 10.6px,#9c19fd 0 11.8px,#9a18ff 0 13.0px,#9c19fd 0 14.1px,#9c19fc 0 15.3px,#9d19fb 0 16.5px,#9e1af8 0 17.7px,#9e1af9 0 18.9px,#9a18ff 0 20.0px,#9b18ff 0 21.2px,#9e1af9 0 22.4px,#9c19fe 0 23.6px,#9b18ff 0 24.8px,#9d19fb 0 25.9px,#9a18ff 0 27.1px,#9d19fb 0 28.3px,#9b18ff 0 29.5px,#9d19fb 0 30.7px,#9b18ff 0 31.8px,#9c19fc 0 33.0px,#9d19fc 0 34.2px,#9d1afa 0 35.4px,#9818ff 0 36.5px,#9918ff 0 37.7px,#9617ff 0 38.9px,#9517ff 0 40.1px,#9918ff 0 41.3px,#9b18ff 0 42.4px,#9c19fd 0 43.6px,#9818ff 0 44.8px,#9d19fb 0 46.0px,#9a18ff 0 47.2px,#9b18fe 0 48.3px,#9818ff 0 49.5px,#9517ff 0 50.7px,#9c19fd 0 51.9px,#9717ff 0 53.1px,#9b18fe 0 54.2px,#9717ff 0 55.4px,#9a18ff 0 56.6px,#9717ff 0 57.8px,#9617ff 0 59.0px,#9717ff 0 60.1px,#9918ff 0 61.3px,#9317ff 0 62.5px,#9417ff 0 63.7px,#9a18ff 0 64.8px,#9417ff 0 66.0px,#9717ff 0 67.2px,#9217ff 0 68.4px,#9517ff 0 69.6px,#9918ff 0 70.7px,#9417ff 0 71.9px,#9217ff 0 73.1px,#8d16ff 0 74.3px,#8b16ff 0 75.5px,#8214ff 0 76.6px,#8014ff 0 77.8px,#8314ff 0 79.0px,#7913fe 0 80.2px,#8014ff 0 81.4px,#7b14fe 0 82.5px,#7113fc 0 83.7px,#6b12fb 0 84.9px,#6712fb 0 86.1px,#6c13fc 0 87.2px,#6712fb 0 88.4px,#6812fb 0 89.6px,#6312f6 0 92.0px,#5f11eb 0 93.1px,#5811da 0 94.3px,#5811d7 0 95.5px,#5410cd 0 96.7px,#5210c9 0 97.9px,#4f0fc0 0 99.0px,#4d0fba 0 100.2px,#4f0fbe 0 101.4px,#470ea8 0 102.6px,#430d9b 0 103.8px,#420d97 0 104.9px,#3f0c90 0 106.1px,#3c0b87 0 107.3px,#3a0b81 0 108.5px,#360a75 0 109.6px,#370a79 0 110.8px,#33096d 0 112.0px,#2c075a 0 113.2px,#310969 0 114.4px,#32096c 0 115.5px,#2e0860 0 116.7px,#2b0758 0 117.9px,#2f0863 0 119.1px,#2d085e 0 120.3px,#2f0862 0 121.4px,#2a0755 0 122.6px,#340970 0 123.8px,#2d075c 0 125.0px,#2f0862 0 126.2px,#2b0758 0 127.3px,#2e085e 0 128.5px,#260549 0 129.7px,#290651 0 130.9px,#250547 0 132.0px,#300865 0 133.2px,#280650 0 134.4px,#28064e 0 135.6px,#300865 0 136.8px,#2b0757 0 137.9px,#2c0759 0 139.1px,#2f0864 0 140.3px,#2e085e 0 141.5px,#2d075d 0 142.7px,#2e085f 0 143.8px,#260549 0 145.0px,#300864 0 147.4px,#310969 0 148.6px,#250546 0 149.7px,#28064f 0 150.9px,#2c075a 0 152.1px,#310969 0 153.3px,#2f0862 0 154.4px,#2f0861 0 155.6px,#2c075a 0 156.8px,#27064d 0 158.0px,#1e0335 0 159.2px,#12011a 0 160.3px,#290652 0 161.5px,#26064b 0 162.7px,#20043b 0 163.9px,#2b0759 0 165.1px,#2a0754 0 166.2px,#2f0862 0 167.4px,#33096d 0 168.6px,#32096b 0 169.8px,#1c0332 0 171.0px,#230542 0 172.1px,#180229 0 173.3px,#2a0754 0 174.5px,#26064a 0 175.7px,#2e0861 0 176.8px,#150222 0 178.0px,#2d075d 0 179.2px,#1a032d 0 180.4px,#290651 0 181.6px,#290653 0 182.7px,#0c000e 0 183.9px,#1b032f 0 185.1px,#250547 0 186.3px,#180227 0 187.5px,#0c000e 0 188.6px,#2c075b 0 189.8px,#230542 0 192.2px,#2b0757 0 193.4px,#260549 0 194.5px,#150222 0 195.7px,#240543 0 196.9px,#1a032d 0 198.1px,#290651 0 199.3px,#2c075b 0 200.4px,#2d085e 0 201.6px,#0c000e 0 202.8px,#250546 0 205.1px,#26064a 0 206.3px,#1f0439 0 207.5px,#14011f 0 208.7px,#440d9f 0 209.9px,#2f0862 0 211.0px,#21043d 0 212.2px,#12011c 0 213.4px,#2b0757 0 214.6px,#1c0332 0 215.8px,#0c000e 0 216.9px,#2e085f 0 218.1px,#0c000e 0 219.3px,#0d0011 0 220.5px,#3f0c8f 0 221.7px,#1e0335 0 222.8px,#150121 0 224.0px,#14011e 0 225.2px,#110119 0 226.4px,#260649 0 227.5px,#1e0437 0 228.7px,#1c0331 0 229.9px,#0f0115 0 231.1px,#170226 0 232.3px,#20043c 0 233.4px,#0c000e 0 234.6px,#470ea7 0 235.8px)"></div>
<div class="r" style="top:347.34px;height:7.66px;background:linear-gradient(90deg,#a11df2 0 1.2px,#a31eef 0 2.4px,#9f1bf7 0 3.5px,#a31def 0 4.7px,#a01bf6 0 5.9px,#a31eee 0 7.1px,#a51fea 0 8.3px,#a01cf5 0 9.4px,#a11df2 0 10.6px,#a21df0 0 11.8px,#a11cf3 0 13.0px,#a21df0 0 14.1px,#a01cf4 0 15.3px,#a11cf3 0 16.5px,#a01cf4 0 17.7px,#a11df2 0 18.9px,#a21df0 0 20.0px,#a31eef 0 21.2px,#a11cf2 0 22.4px,#a01cf5 0 23.6px,#a11cf3 0 27.1px,#a21df1 0 28.3px,#a11cf3 0 29.5px,#a11df2 0 30.7px,#a11cf2 0 31.8px,#a11cf3 0 33.0px,#a01cf4 0 34.2px,#a21df0 0 35.4px,#a11cf3 0 37.7px,#9f1bf6 0 38.9px,#a01cf5 0 40.1px,#a01cf4 0 41.3px,#a21df1 0 42.4px,#9f1bf8 0 43.6px,#a21df1 0 44.8px,#a11cf3 0 46.0px,#a01cf5 0 47.2px,#a01bf5 0 48.3px,#a11df2 0 49.5px,#a11cf2 0 50.7px,#9e1af9 0 51.9px,#a01bf5 0 53.1px,#9f1bf6 0 54.2px,#a11cf3 0 55.4px,#a01bf5 0 56.6px,#a11cf2 0 57.8px,#a01cf5 0 59.0px,#a01cf4 0 60.1px,#a21df0 0 61.3px,#a01cf4 0 62.5px,#a01bf5 0 63.7px,#a01cf4 0 64.8px,#9f1bf7 0 66.0px,#9e1af8 0 67.2px,#a01cf4 0 68.4px,#a01bf5 0 69.6px,#9e1af8 0 70.7px,#a21df1 0 71.9px,#a11cf2 0 73.1px,#a11cf3 0 74.3px,#a01bf6 0 75.5px,#a01cf5 0 76.6px,#9f1bf6 0 77.8px,#a11df2 0 79.0px,#9e1af8 0 80.2px,#a01cf4 0 82.5px,#9f1bf8 0 83.7px,#a11cf3 0 84.9px,#a01bf5 0 86.1px,#a21def 0 87.2px,#a21df1 0 88.4px,#a01cf5 0 89.6px,#9f1bf6 0 90.8px,#9f1bf7 0 93.1px,#a01cf4 0 94.3px,#9e1af9 0 95.5px,#a11cf2 0 96.7px,#a11cf3 0 97.9px,#a01bf5 0 99.0px,#a11cf3 0 100.2px,#a31eef 0 101.4px,#a01cf4 0 102.6px,#a21df0 0 103.8px,#9f1bf6 0 104.9px,#9f1bf7 0 106.1px,#a11cf3 0 107.3px,#9d19fb 0 108.5px,#a11cf3 0 109.6px,#a01bf6 0 110.8px,#9f1bf7 0 112.0px,#a01bf5 0 114.4px,#a11cf2 0 115.5px,#a11cf3 0 116.7px,#a01bf5 0 117.9px,#9f1bf6 0 119.1px,#9e1af8 0 120.3px,#a01bf5 0 121.4px,#9c19fd 0 122.6px,#a11cf3 0 123.8px,#9f1bf6 0 125.0px,#9d1afb 0 126.2px,#a01cf5 0 127.3px,#9e1af9 0 128.5px,#9f1bf8 0 129.7px,#9d19fb 0 130.9px,#9e1af8 0 132.0px,#9f1bf6 0 133.2px,#9f1bf7 0 134.4px,#9f1bf6 0 135.6px,#9e1af9 0 136.8px,#a01bf5 0 137.9px,#9d19fb 0 139.1px,#9e1af8 0 140.3px,#9b18fe 0 141.5px,#9f1bf8 0 142.7px,#9e1af8 0 143.8px,#9f1bf7 0 145.0px,#a01bf5 0 146.2px,#a11cf3 0 147.4px,#9d1afa 0 148.6px,#9e1bf8 0 149.7px,#9c19fd 0 150.9px,#a11cf2 0 152.1px,#a01cf4 0 153.3px,#9f1bf6 0 154.4px,#a01cf4 0 155.6px,#a01bf5 0 156.8px,#9e1af9 0 158.0px,#a01bf5 0 159.2px,#a01cf4 0 160.3px,#a01bf5 0 161.5px,#9e1bf8 0 162.7px,#9e1af9 0 163.9px,#a21df1 0 165.1px,#9f1bf7 0 166.2px,#9f1bf6 0 167.4px,#9c19fc 0 168.6px,#a01bf5 0 169.8px,#9f1bf7 0 171.0px,#bc3025 0 172.1px,#7d14fe 0 173.3px,#9f1bf7 0 174.5px,#9e1af9 0 175.7px,#9f1bf6 0 176.8px,#a01cf5 0 178.0px,#9e1af9 0 179.2px,#9f1bf7 0 181.6px,#9517ff 0 182.7px,#9c19fd 0 185.1px,#9e1bf8 0 186.3px,#a11cf3 0 187.5px,#a01cf4 0 188.6px,#9b18ff 0 189.8px,#a620e1 0 191.0px,#8515ff 0 192.2px,#9e1af9 0 193.4px,#a21def 0 194.5px,#9d1afa 0 195.7px,#9c19fd 0 196.9px,#a01bf5 0 198.1px,#9c19fe 0 199.3px,#9c19fc 0 200.4px,#9717ff 0 201.6px,#a11cf3 0 202.8px,#9e1af8 0 204.0px,#9b18ff 0 205.1px,#9f1bf7 0 206.3px,#8a15ff 0 207.5px,#a41eed 0 208.7px,#a11df2 0 209.9px,#a620e1 0 211.0px,#8b16ff 0 213.4px,#c3381d 0 214.6px,#c2371e 0 215.8px,#9617ff 0 216.9px,#a21df0 0 218.1px,#9217ff 0 219.3px,#9918ff 0 220.5px,#9e1af8 0 221.7px,#a31eee 0 222.8px,#a21df1 0 224.0px,#7613fd 0 225.2px,#9a18ff 0 226.4px,#8715ff 0 227.5px,#a620e5 0 228.7px,#a622cc 0 229.9px,#9c19fd 0 231.1px,#a31eee 0 232.3px,#a621db 0 233.4px,#9b18fe 0 234.6px,#7c14fe 0 235.8px)"></div>
<div class="r" style="top:354.70px;height:7.66px;background:linear-gradient(90deg,#a621d7 0 1.2px,#a621d9 0 2.4px,#a621d6 0 3.5px,#a620e3 0 4.7px,#a621da 0 5.9px,#a621d9 0 7.1px,#a621d6 0 8.3px,#a621d5 0 9.4px,#a620e3 0 10.6px,#a620e9 0 11.8px,#a620e4 0 13.0px,#a621d7 0 14.1px,#a620e8 0 15.3px,#a520e9 0 16.5px,#a620e9 0 17.7px,#a520e9 0 18.9px,#a621dd 0 20.0px,#a620e8 0 21.2px,#a620e7 0 22.4px,#a621db 0 23.6px,#a621dd 0 25.9px,#a620e9 0 27.1px,#a41feb 0 28.3px,#a620e2 0 29.5px,#a621d9 0 30.7px,#a620e8 0 33.0px,#a21df0 0 34.2px,#a621da 0 35.4px,#a620e8 0 36.5px,#a41eed 0 37.7px,#a620e8 0 38.9px,#a51fea 0 40.1px,#a620e4 0 41.3px,#a621d9 0 42.4px,#a51feb 0 43.6px,#a620e8 0 44.8px,#a51fea 0 46.0px,#a51feb 0 47.2px,#a620e7 0 48.3px,#a621e0 0 49.5px,#a620e8 0 50.7px,#a51feb 0 51.9px,#a620e8 0 53.1px,#a620e9 0 54.2px,#a620e7 0 55.4px,#a41feb 0 56.6px,#a51fea 0 57.8px,#a620e2 0 59.0px,#a51fea 0 60.1px,#a620e8 0 61.3px,#a51feb 0 63.7px,#a41eed 0 64.8px,#a621db 0 66.0px,#a620e8 0 69.6px,#a31eee 0 71.9px,#a41eec 0 73.1px,#a21df1 0 74.3px,#a31eef 0 75.5px,#a51fea 0 76.6px,#a11cf2 0 77.8px,#a31eef 0 79.0px,#a41eed 0 82.5px,#a31def 0 83.7px,#a51feb 0 84.9px,#a01cf4 0 86.1px,#a41eec 0 87.2px,#a11df2 0 88.4px,#a21df0 0 89.6px,#a31eee 0 90.8px,#a51fea 0 92.0px,#a21df1 0 93.1px,#a11cf2 0 94.3px,#a41fec 0 95.5px,#a31eef 0 97.9px,#a31eed 0 99.0px,#a41fec 0 100.2px,#a31eef 0 101.4px,#a01bf5 0 102.6px,#a21df0 0 104.9px,#a11cf3 0 107.3px,#a31eee 0 108.5px,#a21def 0 109.6px,#a11cf3 0 110.8px,#a31eef 0 112.0px,#a21df0 0 113.2px,#a01cf4 0 114.4px,#a11df2 0 115.5px,#a01cf5 0 116.7px,#a01cf4 0 117.9px,#a21df0 0 119.1px,#a01cf5 0 120.3px,#a01bf5 0 121.4px,#a21df1 0 122.6px,#a01cf5 0 123.8px,#a11cf3 0 127.3px,#a21df1 0 128.5px,#a01cf4 0 129.7px,#a01cf5 0 130.9px,#a01cf4 0 132.0px,#a21df0 0 134.4px,#a11cf3 0 135.6px,#a21df0 0 136.8px,#a11df2 0 137.9px,#9f1bf7 0 139.1px,#a21df0 0 140.3px,#a41fec 0 141.5px,#a11cf3 0 142.7px,#9e1af9 0 143.8px,#a21df1 0 145.0px,#a11cf3 0 146.2px,#a01bf5 0 147.4px,#9d19fb 0 148.6px,#9f1bf6 0 149.7px,#a01cf4 0 150.9px,#9f1bf6 0 152.1px,#a01bf5 0 153.3px,#a11cf3 0 154.4px,#a01cf4 0 155.6px,#7c14fe 0 156.8px,#9e1bf8 0 158.0px,#8d16ff 0 159.2px,#a01cf5 0 160.3px,#9e1af8 0 161.5px,#9f1bf7 0 162.7px,#7013fc 0 163.9px,#9e1af9 0 165.1px,#9e1afa 0 166.2px,#9f1bf6 0 167.4px,#9f1bf7 0 168.6px,#9d19fc 0 169.8px,#9c19fd 0 171.0px,#9e1af8 0 172.1px,#7313fd 0 173.3px,#9c19fc 0 174.5px,#9c19fd 0 175.7px,#a11cf3 0 176.8px,#9f1bf6 0 178.0px,#5811d9 0 179.2px,#9b18fe 0 180.4px,#9417ff 0 181.6px,#6212f4 0 182.7px,#9d19fc 0 183.9px,#8114ff 0 185.1px,#9b18ff 0 186.3px,#9b18fe 0 187.5px,#9f1bf6 0 188.6px,#9b18ff 0 189.8px,#8615ff 0 191.0px,#8a16ff 0 192.2px,#5a11de 0 193.4px,#6512fa 0 194.5px,#a01cf4 0 195.7px,#9217ff 0 196.9px,#a01cf4 0 198.1px,#5610d4 0 199.3px,#6612fa 0 200.4px,#8f16ff 0 201.6px,#9417ff 0 202.8px,#5410ce 0 204.0px,#a41eed 0 205.1px,#8915ff 0 206.3px,#9d1afa 0 207.5px,#8114ff 0 208.7px,#8915ff 0 209.9px,#6d13fc 0 211.0px,#a01cf5 0 212.2px,#9d1afa 0 213.4px,#9d1afb 0 214.6px,#a21df1 0 215.8px,#7f14ff 0 216.9px,#9b18fe 0 218.1px,#8f16ff 0 219.3px,#7b14fe 0 220.5px,#6912fb 0 221.7px,#8d16ff 0 222.8px,#9517ff 0 224.0px,#9117ff 0 225.2px,#5c11e5 0 226.4px,#9717ff 0 227.5px,#5010c1 0 228.7px,#5f11eb 0 229.9px,#a21df1 0 231.1px,#8b16ff 0 232.3px,#6812fb 0 233.4px,#7813fe 0 234.6px,#5210c7 0 235.8px)"></div>
<div class="r" style="top:362.06px;height:7.66px;background:linear-gradient(90deg,#b12850 0 1.2px,#b1284f 0 2.4px,#ae275f 0 3.5px,#b02857 0 4.7px,#b02853 0 5.9px,#ae2762 0 7.1px,#af275a 0 8.3px,#b02853 0 9.4px,#b12850 0 10.6px,#ae2763 0 11.8px,#ae2761 0 13.0px,#b12850 0 14.1px,#af275c 0 15.3px,#b02856 0 16.5px,#ae2762 0 17.7px,#b12851 0 18.9px,#b02757 0 20.0px,#b1284f 0 21.2px,#ae2761 0 22.4px,#af275e 0 23.6px,#ae2764 0 25.9px,#ad2765 0 27.1px,#af275a 0 28.3px,#ae2763 0 29.5px,#af275c 0 30.7px,#ae2762 0 31.8px,#af275a 0 33.0px,#b02857 0 34.2px,#b02757 0 36.5px,#ae275f 0 37.7px,#af2758 0 38.9px,#ae2760 0 40.1px,#ae2764 0 41.3px,#ad2668 0 42.4px,#ae275f 0 43.6px,#af275d 0 44.8px,#b02853 0 46.0px,#ae2763 0 47.2px,#b02854 0 48.3px,#ac266b 0 49.5px,#ae2760 0 50.7px,#b1284e 0 51.9px,#ae2763 0 53.1px,#ad2667 0 54.2px,#ad2668 0 55.4px,#b12850 0 56.6px,#b02757 0 57.8px,#ad2765 0 59.0px,#ae2765 0 60.1px,#ac2674 0 61.3px,#ae2763 0 62.5px,#b02856 0 63.7px,#ac2670 0 64.8px,#af275a 0 66.0px,#af275e 0 67.2px,#b02757 0 68.4px,#ac2670 0 69.6px,#ac2673 0 70.7px,#ac2674 0 71.9px,#aa2584 0 73.1px,#aa258b 0 74.3px,#a8259c 0 75.5px,#a824a4 0 76.6px,#a724b0 0 77.8px,#a723b4 0 79.0px,#a723be 0 80.2px,#a722c9 0 81.4px,#a621df 0 82.5px,#a620e3 0 83.7px,#a620e2 0 86.1px,#a31eef 0 87.2px,#a21df1 0 88.4px,#a11df2 0 89.6px,#a31eef 0 90.8px,#a41eed 0 92.0px,#a21df1 0 93.1px,#a11df2 0 94.3px,#a01cf4 0 95.5px,#a21df1 0 96.7px,#a11cf3 0 97.9px,#a11df2 0 99.0px,#a01cf5 0 100.2px,#a31def 0 101.4px,#a11cf3 0 102.6px,#9f1bf7 0 103.8px,#a11cf3 0 104.9px,#a01bf6 0 106.1px,#a21df1 0 107.3px,#a31eef 0 108.5px,#a21df1 0 109.6px,#a11cf3 0 110.8px,#a01bf5 0 112.0px,#a01cf4 0 113.2px,#a41eed 0 114.4px,#a21df0 0 115.5px,#9f1bf6 0 117.9px,#a11cf2 0 119.1px,#a11cf3 0 121.4px,#a11df2 0 122.6px,#9f1bf7 0 123.8px,#9f1bf6 0 125.0px,#a21df1 0 126.2px,#a11cf3 0 127.3px,#a01cf4 0 129.7px,#a11cf2 0 130.9px,#a11cf3 0 132.0px,#9f1bf6 0 133.2px,#9f1bf7 0 134.4px,#a11df2 0 135.6px,#9f1bf8 0 136.8px,#a31eef 0 137.9px,#9f1bf8 0 139.1px,#9f1bf6 0 140.3px,#a11df2 0 141.5px,#a21df1 0 142.7px,#a01cf4 0 143.8px,#9c19fc 0 145.0px,#a01bf5 0 146.2px,#9d19fb 0 147.4px,#9f1bf6 0 148.6px,#a11cf3 0 150.9px,#a01cf5 0 153.3px,#a01cf4 0 154.4px,#9f1bf7 0 156.8px,#a11cf2 0 158.0px,#a01cf4 0 159.2px,#a11cf2 0 160.3px,#a01cf5 0 162.7px,#a01cf4 0 165.1px,#a21df1 0 166.2px,#a01cf5 0 167.4px,#9e1af8 0 168.6px,#9f1bf6 0 169.8px,#9e1af8 0 171.0px,#9f1bf7 0 172.1px,#9d19fb 0 173.3px,#9f1bf7 0 174.5px,#a01cf4 0 175.7px,#a11cf3 0 176.8px,#9c19fd 0 178.0px,#a21df1 0 179.2px,#a31eee 0 180.4px,#9f1bf7 0 181.6px,#9f1bf8 0 182.7px,#9c19fd 0 183.9px,#a621dc 0 185.1px,#9c19fc 0 186.3px,#a01cf5 0 187.5px,#6e13fc 0 188.6px,#a01cf5 0 189.8px,#9e1afa 0 191.0px,#9f1bf6 0 192.2px,#a01cf4 0 193.4px,#8e16ff 0 194.5px,#9a18ff 0 195.7px,#9b18ff 0 196.9px,#9e1af9 0 198.1px,#9d1afb 0 199.3px,#a11df2 0 200.4px,#9c19fc 0 201.6px,#9517ff 0 202.8px,#9b18ff 0 204.0px,#6812fb 0 205.1px,#9c19fd 0 206.3px,#8f16ff 0 207.5px,#5c11e3 0 208.7px,#9317ff 0 209.9px,#9d1afa 0 211.0px,#a621dd 0 212.2px,#a621dc 0 213.4px,#9617ff 0 214.6px,#8f16ff 0 215.8px,#6112f2 0 216.9px,#6d13fc 0 218.1px,#7413fd 0 219.3px,#5c11e3 0 220.5px,#a41feb 0 221.7px,#9016ff 0 222.8px,#7c14fe 0 224.0px,#a51feb 0 225.2px,#a92590 0 226.4px,#9b18fe 0 227.5px,#8715ff 0 228.7px,#8815ff 0 229.9px,#8a15ff 0 231.1px,#9c19fc 0 232.3px,#5911db 0 233.4px,#5f11ec 0 234.6px,#a31eee 0 235.8px)"></div>
<div class="r" style="top:369.42px;height:7.66px;background:linear-gradient(90deg,#a722c9 0 1.2px,#a723bd 0 2.4px,#a622cc 0 3.5px,#a723c0 0 4.7px,#a622cd 0 5.9px,#a622ce 0 7.1px,#a723c1 0 8.3px,#a723b7 0 9.4px,#a722c4 0 10.6px,#a622ce 0 11.8px,#a722c6 0 13.0px,#a622cb 0 14.1px,#a622ce 0 15.3px,#a722c8 0 16.5px,#a722c6 0 17.7px,#a722c4 0 18.9px,#a621d2 0 20.0px,#a723bf 0 21.2px,#a622cd 0 22.4px,#a621d7 0 23.6px,#a621d2 0 24.8px,#a622cc 0 25.9px,#a621d3 0 27.1px,#a622cc 0 28.3px,#a621d4 0 29.5px,#a722c7 0 30.7px,#a622cd 0 31.8px,#a622d1 0 33.0px,#a722c8 0 34.2px,#a621d7 0 35.4px,#a622d1 0 36.5px,#a622cc 0 37.7px,#a622ce 0 38.9px,#a622d1 0 40.1px,#a622cc 0 41.3px,#a621d6 0 42.4px,#a621d3 0 43.6px,#a621d9 0 44.8px,#a621d4 0 46.0px,#a621dc 0 47.2px,#a621dd 0 48.3px,#a621d5 0 49.5px,#a621dd 0 50.7px,#a622d0 0 51.9px,#a622cf 0 53.1px,#a621d2 0 54.2px,#a622d1 0 55.4px,#a621d3 0 56.6px,#a620e3 0 57.8px,#a621e0 0 59.0px,#a621d6 0 60.1px,#a620e1 0 61.3px,#a621de 0 62.5px,#a621da 0 63.7px,#a621d8 0 64.8px,#a620e6 0 66.0px,#a621db 0 67.2px,#a621d5 0 68.4px,#a621d9 0 69.6px,#a622d1 0 70.7px,#a621e0 0 71.9px,#a621d5 0 73.1px,#a622d1 0 74.3px,#a621dd 0 75.5px,#a621dc 0 76.6px,#a621de 0 77.8px,#a31eed 0 79.0px,#a51fea 0 80.2px,#a620e2 0 81.4px,#a41eed 0 82.5px,#a520e9 0 83.7px,#a620e9 0 84.9px,#a620e7 0 86.1px,#a41fec 0 87.2px,#a51fea 0 88.4px,#a41eed 0 89.6px,#a620e8 0 90.8px,#a31eee 0 93.1px,#a41fec 0 94.3px,#a620e8 0 95.5px,#a41fec 0 96.7px,#a41eed 0 97.9px,#a31eee 0 99.0px,#a51fea 0 100.2px,#a31eef 0 101.4px,#a31eed 0 103.8px,#a51fea 0 104.9px,#a31eef 0 107.3px,#a41fec 0 108.5px,#a41eed 0 109.6px,#a21df1 0 110.8px,#a31eef 0 112.0px,#a31eee 0 113.2px,#a41eed 0 114.4px,#a31eef 0 115.5px,#a620e6 0 116.7px,#a41fec 0 117.9px,#a520e9 0 119.1px,#a41fec 0 121.4px,#a51feb 0 122.6px,#a31eee 0 123.8px,#a11df2 0 125.0px,#a41feb 0 126.2px,#a31eef 0 127.3px,#a520e9 0 128.5px,#a31eef 0 129.7px,#a41fec 0 130.9px,#a41eed 0 132.0px,#a31eee 0 134.4px,#a41eed 0 135.6px,#a41fec 0 137.9px,#a41eed 0 140.3px,#a11cf3 0 141.5px,#a620e9 0 142.7px,#a51feb 0 143.8px,#a21df0 0 145.0px,#a31eef 0 146.2px,#a11cf3 0 147.4px,#a01cf5 0 148.6px,#a31eee 0 149.7px,#a620e8 0 150.9px,#a41fec 0 153.3px,#a41eec 0 154.4px,#a51feb 0 155.6px,#a41eed 0 156.8px,#a31eef 0 158.0px,#a31eee 0 159.2px,#a51feb 0 160.3px,#a31eee 0 161.5px,#a11df2 0 162.7px,#a51feb 0 163.9px,#a41fec 0 165.1px,#a620e9 0 166.2px,#a41fec 0 167.4px,#a41eed 0 169.8px,#a31eef 0 171.0px,#a41eed 0 172.1px,#a31eed 0 173.3px,#a41fec 0 174.5px,#a31eee 0 175.7px,#a620e8 0 176.8px,#a620e3 0 178.0px,#a31eee 0 179.2px,#a621d9 0 180.4px,#a51fea 0 181.6px,#a620e2 0 182.7px,#a51feb 0 183.9px,#a11df2 0 185.1px,#a520e9 0 186.3px,#a41feb 0 187.5px,#a620e2 0 188.6px,#a31eed 0 189.8px,#c83f1c 0 191.0px,#aa2584 0 192.2px,#a51fea 0 193.4px,#9e1af8 0 194.5px,#b92d2b 0 195.7px,#9f1bf7 0 196.9px,#c3391d 0 198.1px,#a51fea 0 199.3px,#a520e9 0 200.4px,#a21df1 0 201.6px,#a722c7 0 202.8px,#a620e3 0 204.0px,#a621d2 0 205.1px,#a622cb 0 206.3px,#a01cf5 0 207.5px,#b82c2d 0 208.7px,#a620e9 0 209.9px,#9f1bf6 0 211.0px,#a622d1 0 212.2px,#a21df1 0 213.4px,#a621d7 0 214.6px,#9417ff 0 215.8px,#a11cf2 0 216.9px,#bb2f26 0 218.1px,#9f1bf6 0 219.3px,#a41eed 0 220.5px,#bf3320 0 221.7px,#a622d0 0 222.8px,#a621dc 0 224.0px,#b4293a 0 225.2px,#9e1af9 0 226.4px,#9818ff 0 227.5px,#9d1afb 0 228.7px,#5a11de 0 229.9px,#a11df2 0 231.1px,#c2371e 0 232.3px,#b62a31 0 233.4px,#a723bd 0 234.6px,#a621d7 0 235.8px)"></div>
<div class="r" style="top:376.78px;height:7.66px;background:linear-gradient(90deg,#c3381d 0 1.2px,#c2371e 0 2.4px,#c2361e 0 3.5px,#c3381d 0 4.7px,#c2361e 0 5.9px,#c0351e 0 7.1px,#c3381d 0 8.3px,#c4391d 0 9.4px,#c2371e 0 10.6px,#c3381d 0 13.0px,#c2361e 0 15.3px,#c1351e 0 16.5px,#c2371e 0 18.9px,#c0351e 0 20.0px,#c1361e 0 21.2px,#c3381d 0 22.4px,#c1351e 0 23.6px,#c2371e 0 25.9px,#c1351e 0 27.1px,#c2371e 0 29.5px,#c1361e 0 31.8px,#c2361e 0 35.4px,#c2371e 0 36.5px,#c0351e 0 37.7px,#c3381d 0 38.9px,#c1351e 0 41.3px,#c3381d 0 42.4px,#c2371e 0 43.6px,#bf3320 0 44.8px,#c1351e 0 46.0px,#c2361e 0 47.2px,#c1361e 0 48.3px,#bf3320 0 49.5px,#c0341e 0 51.9px,#c1361e 0 53.1px,#c2361e 0 54.2px,#c1351e 0 56.6px,#c0341f 0 57.8px,#c2371e 0 59.0px,#be3222 0 60.1px,#c1361e 0 62.5px,#c1351e 0 63.7px,#c0341e 0 64.8px,#c0351e 0 66.0px,#c1361e 0 67.2px,#bf331f 0 68.4px,#c1361e 0 69.6px,#c0341e 0 71.9px,#bd3124 0 73.1px,#be3221 0 74.3px,#bd3123 0 75.5px,#ba2e28 0 76.6px,#ba2e29 0 77.8px,#b4293b 0 79.0px,#b52a36 0 80.2px,#b22849 0 81.4px,#af275d 0 82.5px,#ac2672 0 83.7px,#aa2587 0 84.9px,#a92596 0 86.1px,#a824a2 0 87.2px,#a724ad 0 88.4px,#a723b7 0 89.6px,#a722c6 0 90.8px,#a621d2 0 92.0px,#a620e2 0 93.1px,#a21df0 0 94.3px,#a11cf3 0 95.5px,#a21df0 0 96.7px,#9f1bf6 0 97.9px,#a11cf2 0 99.0px,#9f1bf6 0 100.2px,#9d19fb 0 101.4px,#9f1bf7 0 102.6px,#9e1af9 0 103.8px,#9c19fd 0 104.9px,#9617ff 0 106.1px,#9c19fd 0 108.5px,#9c19fe 0 109.6px,#9a18ff 0 110.8px,#9517ff 0 112.0px,#9016ff 0 113.2px,#9417ff 0 114.4px,#9617ff 0 115.5px,#9117ff 0 116.7px,#8c16ff 0 117.9px,#8a15ff 0 119.1px,#8515ff 0 120.3px,#8d16ff 0 121.4px,#8c16ff 0 122.6px,#8214ff 0 123.8px,#8615ff 0 125.0px,#8b16ff 0 126.2px,#7e14ff 0 127.3px,#8915ff 0 128.5px,#8615ff 0 129.7px,#8415ff 0 130.9px,#8114ff 0 132.0px,#8014ff 0 133.2px,#7f14ff 0 134.4px,#8114ff 0 135.6px,#7613fd 0 136.8px,#7113fc 0 137.9px,#6d13fc 0 139.1px,#7213fc 0 141.5px,#6912fb 0 142.7px,#6b12fb 0 143.8px,#6712fb 0 145.0px,#6812fb 0 146.2px,#6412f9 0 147.4px,#6112f3 0 148.6px,#5d11e7 0 149.7px,#5c11e4 0 150.9px,#5d11e7 0 152.1px,#5a11de 0 153.3px,#5b11e0 0 154.4px,#5510cf 0 155.6px,#5610d4 0 156.8px,#5210c9 0 158.0px,#5210c7 0 159.2px,#4b0fb2 0 160.3px,#4f0fbe 0 161.5px,#490eac 0 162.7px,#4c0fb6 0 163.9px,#490eae 0 165.1px,#450da0 0 166.2px,#490ead 0 167.4px,#4a0eb0 0 168.6px,#4b0fb3 0 169.8px,#480eaa 0 171.0px,#440d9e 0 172.1px,#460ea4 0 173.3px,#420d97 0 174.5px,#400c91 0 175.7px,#440d9f 0 176.8px,#3f0c8f 0 178.0px,#460ea4 0 179.2px,#450da1 0 180.4px,#400c93 0 181.6px,#3f0c8e 0 182.7px,#420d99 0 183.9px,#440d9f 0 185.1px,#3f0c90 0 186.3px,#21043c 0 187.5px,#370a77 0 188.6px,#5510d1 0 189.8px,#3f0c90 0 191.0px,#3f0c8f 0 192.2px,#400c91 0 193.4px,#3c0b85 0 194.5px,#3c0b86 0 195.7px,#390b7e 0 196.9px,#3b0b83 0 198.1px,#4b0fb3 0 199.3px,#2d085e 0 200.4px,#410d96 0 201.6px,#3a0b82 0 202.8px,#410d94 0 204.0px,#33096e 0 205.1px,#430d9c 0 206.3px,#32096b 0 207.5px,#440d9d 0 208.7px,#3b0b82 0 209.9px,#490eac 0 211.0px,#420d98 0 212.2px,#3e0c8d 0 213.4px,#2b0758 0 214.6px,#350a73 0 215.8px,#5010c2 0 216.9px,#3f0c8e 0 218.1px,#5110c6 0 219.3px,#1a022c 0 220.5px,#370a78 0 221.7px,#32096a 0 222.8px,#2c075b 0 224.0px,#20043b 0 225.2px,#32096a 0 226.4px,#5510d1 0 227.5px,#3e0c8b 0 228.7px,#2a0756 0 229.9px,#1c0330 0 231.1px,#1a022c 0 232.3px,#13011e 0 233.4px,#250547 0 234.6px,#26064a 0 235.8px)"></div>
<div class="r" style="top:384.14px;height:7.66px;background:linear-gradient(90deg,#a8259a 0 1.2px,#a82599 0 2.4px,#a92596 0 3.5px,#a8249e 0 4.7px,#a8249d 0 5.9px,#a92594 0 8.3px,#a92591 0 9.4px,#a92594 0 10.6px,#a8249e 0 11.8px,#a8249f 0 13.0px,#a92591 0 14.1px,#a724a9 0 15.3px,#a92598 0 16.5px,#a92594 0 17.7px,#a92591 0 18.9px,#a92590 0 20.0px,#a92593 0 21.2px,#aa258d 0 22.4px,#a724a9 0 23.6px,#a8249e 0 24.8px,#a8259a 0 25.9px,#a724ad 0 27.1px,#a824a3 0 28.3px,#a92595 0 29.5px,#a824a3 0 30.7px,#a92597 0 31.8px,#a8259a 0 33.0px,#a92596 0 34.2px,#a82599 0 35.4px,#a8259c 0 36.5px,#a8259b 0 37.7px,#a724a7 0 38.9px,#a92595 0 40.1px,#a824a3 0 41.3px,#a724a8 0 42.4px,#a8249f 0 43.6px,#a724ad 0 44.8px,#a92594 0 46.0px,#a92592 0 47.2px,#a8259b 0 48.3px,#a724ab 0 49.5px,#a824a1 0 50.7px,#a824a3 0 51.9px,#a724a9 0 53.1px,#a724a8 0 54.2px,#a824a3 0 55.4px,#a724aa 0 56.6px,#a724a7 0 59.0px,#a724b1 0 60.1px,#a724ab 0 61.3px,#a724ac 0 62.5px,#a8249d 0 63.7px,#a724a8 0 64.8px,#a724a7 0 66.0px,#a724a8 0 67.2px,#a724aa 0 69.6px,#a724ac 0 70.7px,#a723bd 0 71.9px,#a724b2 0 73.1px,#a723bc 0 74.3px,#a723be 0 75.5px,#a722c8 0 76.6px,#a622cc 0 77.8px,#a622cb 0 79.0px,#a621d3 0 80.2px,#a621d4 0 81.4px,#a621d7 0 82.5px,#a621de 0 83.7px,#a620e2 0 84.9px,#a520e9 0 86.1px,#a51fea 0 88.4px,#a41eed 0 89.6px,#a51feb 0 90.8px,#a41fec 0 92.0px,#a51fea 0 93.1px,#a31eef 0 94.3px,#a41fec 0 95.5px,#a51fea 0 96.7px,#a31eee 0 97.9px,#a41fec 0 99.0px,#a41feb 0 100.2px,#a41eed 0 101.4px,#a51fea 0 102.6px,#a41feb 0 103.8px,#a41eed 0 104.9px,#a51fea 0 106.1px,#a41feb 0 107.3px,#a621df 0 108.5px,#a21df1 0 109.6px,#a41fec 0 110.8px,#a41eed 0 112.0px,#a41eec 0 113.2px,#a11df2 0 114.4px,#a41fec 0 115.5px,#a31eee 0 116.7px,#a51feb 0 117.9px,#a21def 0 119.1px,#a620e8 0 120.3px,#a41eed 0 121.4px,#a31eee 0 122.6px,#a41fec 0 123.8px,#a21df0 0 125.0px,#a21def 0 126.2px,#a51feb 0 127.3px,#a31eed 0 128.5px,#a41eec 0 129.7px,#a11cf3 0 130.9px,#a21df0 0 132.0px,#a21df1 0 133.2px,#a620e8 0 134.4px,#a41eed 0 135.6px,#a520e9 0 136.8px,#a31eed 0 137.9px,#a51fea 0 139.1px,#a31eee 0 141.5px,#a41eed 0 143.8px,#a11cf2 0 145.0px,#a41eed 0 146.2px,#a21def 0 147.4px,#a31eef 0 148.6px,#a31eee 0 150.9px,#a41eed 0 152.1px,#a51fea 0 154.4px,#a620e8 0 155.6px,#a31eef 0 156.8px,#a41eed 0 158.0px,#a31eee 0 160.3px,#a51feb 0 162.7px,#a41eed 0 163.9px,#a41fec 0 165.1px,#a520e9 0 166.2px,#a41eed 0 167.4px,#a51fea 0 168.6px,#a41eed 0 169.8px,#a41feb 0 171.0px,#a620e7 0 172.1px,#a31eee 0 173.3px,#a41feb 0 174.5px,#a51fea 0 175.7px,#a41eed 0 176.8px,#a620e8 0 178.0px,#be3221 0 179.2px,#a621df 0 180.4px,#a41fec 0 181.6px,#a31eef 0 182.7px,#9f1bf6 0 183.9px,#a21def 0 185.1px,#a51feb 0 187.5px,#c1361e 0 188.6px,#a21df0 0 189.8px,#a01cf4 0 191.0px,#9918ff 0 192.2px,#bd3123 0 193.4px,#a620e1 0 194.5px,#a11df2 0 195.7px,#a621e0 0 196.9px,#a41eed 0 198.1px,#a620e1 0 199.3px,#9818ff 0 200.4px,#9617ff 0 201.6px,#be3221 0 202.8px,#a620e3 0 204.0px,#a621d2 0 205.1px,#9e1af8 0 206.3px,#9f1bf6 0 207.5px,#a621de 0 208.7px,#a11cf2 0 209.9px,#a620e6 0 211.0px,#9617ff 0 212.2px,#9c19fd 0 213.4px,#9d19fb 0 214.6px,#a51fe9 0 215.8px,#8b16ff 0 216.9px,#b92d2b 0 218.1px,#b72b2f 0 219.3px,#a31eef 0 220.5px,#a01cf4 0 221.7px,#a11cf3 0 222.8px,#a620e7 0 224.0px,#9c19fe 0 225.2px,#b92d2a 0 226.4px,#9117ff 0 227.5px,#bb2f27 0 228.7px,#9d19fb 0 229.9px,#a31eef 0 231.1px,#a21def 0 232.3px,#a622cd 0 233.4px,#a621d6 0 234.6px,#9417ff 0 235.8px)"></div>
<div class="r" style="top:391.50px;height:7.66px;background:linear-gradient(90deg,#c2371e 0 1.2px,#c73d1d 0 2.4px,#c53b1d 0 3.5px,#c3381d 0 4.7px,#c53b1d 0 5.9px,#c4391d 0 7.1px,#c3391d 0 8.3px,#c63c1d 0 9.4px,#c2371e 0 11.8px,#c3381d 0 14.1px,#c73e1d 0 15.3px,#c3381d 0 16.5px,#c2371e 0 17.7px,#c4391d 0 18.9px,#c43a1d 0 20.0px,#c53b1d 0 21.2px,#c2371e 0 22.4px,#c63c1d 0 23.6px,#c4391d 0 24.8px,#c2371e 0 27.1px,#c4391d 0 28.3px,#c3391d 0 29.5px,#c3381d 0 30.7px,#c3391d 0 31.8px,#c63c1d 0 33.0px,#c53b1d 0 34.2px,#c2371e 0 36.5px,#c43a1d 0 37.7px,#c2361e 0 38.9px,#c1351e 0 40.1px,#c2361e 0 41.3px,#c1361e 0 42.4px,#c1351e 0 43.6px,#c2371e 0 44.8px,#c2361e 0 46.0px,#c2371e 0 47.2px,#c3381d 0 48.3px,#c2371e 0 49.5px,#c1351e 0 50.7px,#c1361e 0 51.9px,#c4391d 0 53.1px,#c1361e 0 55.4px,#c3381d 0 56.6px,#c1361e 0 59.0px,#c3381d 0 60.1px,#c2371e 0 61.3px,#c2361e 0 63.7px,#c3391d 0 64.8px,#c3381d 0 66.0px,#c1361e 0 67.2px,#c2361e 0 68.4px,#c43a1d 0 69.6px,#c2361e 0 71.9px,#c0341f 0 73.1px,#bd3124 0 74.3px,#bc3026 0 75.5px,#b92d2b 0 76.6px,#b82c2d 0 77.8px,#b72b2d 0 79.0px,#b4293c 0 80.2px,#b4293b 0 81.4px,#b12850 0 82.5px,#af2759 0 83.7px,#ad2668 0 84.9px,#ab267b 0 86.1px,#ab2677 0 87.2px,#ab2580 0 88.4px,#a92594 0 89.6px,#a824a2 0 90.8px,#a724af 0 92.0px,#a723b4 0 93.1px,#a723bb 0 94.3px,#a722c8 0 95.5px,#a621d7 0 96.7px,#a620e4 0 97.9px,#a51fea 0 99.0px,#a21def 0 100.2px,#a01cf4 0 101.4px,#a41fec 0 102.6px,#a01cf4 0 104.9px,#a31eee 0 106.1px,#a21df0 0 108.5px,#a11cf3 0 109.6px,#a11df2 0 110.8px,#a21df0 0 112.0px,#a51fea 0 113.2px,#a21df1 0 114.4px,#a11df2 0 115.5px,#a21df0 0 116.7px,#a11cf2 0 117.9px,#a01cf5 0 119.1px,#9f1bf7 0 120.3px,#a21df1 0 121.4px,#9f1bf7 0 122.6px,#a21def 0 123.8px,#a01cf4 0 126.2px,#9f1bf6 0 128.5px,#a01bf5 0 129.7px,#a11cf2 0 130.9px,#a01cf5 0 132.0px,#a01cf4 0 133.2px,#a01bf5 0 134.4px,#a11cf2 0 135.6px,#a11cf3 0 137.9px,#9f1bf7 0 139.1px,#9f1bf6 0 140.3px,#9e1bf8 0 141.5px,#a11cf2 0 142.7px,#9d19fc 0 143.8px,#a21df0 0 145.0px,#a01bf5 0 146.2px,#9f1bf6 0 147.4px,#a01cf4 0 148.6px,#a01bf5 0 149.7px,#9f1bf6 0 150.9px,#a01cf4 0 152.1px,#a11cf3 0 153.3px,#9f1bf6 0 154.4px,#a21df1 0 155.6px,#9e1af9 0 156.8px,#a11cf3 0 158.0px,#a01cf5 0 159.2px,#9e1af8 0 160.3px,#a11cf3 0 161.5px,#a11df2 0 162.7px,#9d1afa 0 163.9px,#a01cf4 0 165.1px,#9f1bf6 0 166.2px,#a01bf5 0 167.4px,#9d1afb 0 168.6px,#a01cf4 0 169.8px,#a11cf3 0 171.0px,#a01bf5 0 172.1px,#9e1af8 0 173.3px,#9f1bf7 0 174.5px,#a01bf6 0 175.7px,#9f1bf7 0 176.8px,#9d1afa 0 180.4px,#9f1bf7 0 181.6px,#a11df2 0 182.7px,#a01bf5 0 183.9px,#9f1bf7 0 185.1px,#4f0fc0 0 186.3px,#a31def 0 187.5px,#7e14ff 0 188.6px,#a01cf5 0 189.8px,#9e1af9 0 191.0px,#9417ff 0 192.2px,#9e1bf8 0 193.4px,#a31eee 0 194.5px,#a01bf5 0 195.7px,#8715ff 0 196.9px,#a11cf3 0 198.1px,#4f0fbe 0 199.3px,#7a14fe 0 200.4px,#9c19fc 0 201.6px,#a41feb 0 202.8px,#a621e0 0 204.0px,#a21df0 0 205.1px,#9c19fd 0 206.3px,#9d19fc 0 207.5px,#480eaa 0 208.7px,#a21df0 0 209.9px,#490eac 0 211.0px,#9517ff 0 212.2px,#9b18fe 0 213.4px,#370a78 0 214.6px,#9b18fe 0 215.8px,#9f1bf6 0 216.9px,#400c91 0 218.1px,#6b12fb 0 219.3px,#9f1bf6 0 220.5px,#6a12fb 0 221.7px,#6112f2 0 222.8px,#a41fec 0 224.0px,#a01cf5 0 225.2px,#460ea4 0 226.4px,#8b16ff 0 227.5px,#6b13fb 0 228.7px,#4d0fb9 0 229.9px,#7613fd 0 231.1px,#a21df0 0 232.3px,#a621dc 0 233.4px,#4e0fbb 0 234.6px,#7a14fe 0 235.8px)"></div>
<div class="r" style="top:398.86px;height:7.66px;background:linear-gradient(90deg,#b02852 0 1.2px,#b12852 0 2.4px,#b12851 0 3.5px,#af275a 0 4.7px,#b02855 0 5.9px,#b02853 0 7.1px,#b2284c 0 8.3px,#b1284e 0 9.4px,#b2284c 0 10.6px,#b02758 0 11.8px,#b32943 0 13.0px,#b02853 0 14.1px,#b02855 0 15.3px,#b1284d 0 16.5px,#b2284a 0 17.7px,#b1284d 0 18.9px,#b32940 0 20.0px,#b1284e 0 21.2px,#b1284d 0 22.4px,#b02853 0 23.6px,#b4293f 0 24.8px,#b2284b 0 25.9px,#b2284a 0 27.1px,#b02854 0 28.3px,#b1284c 0 29.5px,#b22849 0 30.7px,#b32942 0 31.8px,#b4293e 0 33.0px,#b4293b 0 34.2px,#b22849 0 35.4px,#b32941 0 36.5px,#b52a37 0 37.7px,#b4293c 0 38.9px,#b4293a 0 40.1px,#b52a36 0 41.3px,#b4293b 0 42.4px,#b4293e 0 43.6px,#b72b2f 0 44.8px,#b22848 0 46.0px,#b4293b 0 47.2px,#b52a37 0 48.3px,#b4293a 0 50.7px,#b4293d 0 51.9px,#b62a31 0 53.1px,#b22946 0 54.2px,#b32940 0 55.4px,#b32942 0 56.6px,#b4293c 0 57.8px,#b4293a 0 59.0px,#b62a33 0 60.1px,#b62a2f 0 61.3px,#b4293a 0 62.5px,#b52a33 0 63.7px,#b82c2c 0 64.8px,#b72b2f 0 66.0px,#b4293e 0 67.2px,#b72b2f 0 68.4px,#b62a30 0 70.7px,#b72b2f 0 71.9px,#b72b2e 0 73.1px,#b72b2f 0 74.3px,#b82c2d 0 75.5px,#b72b2e 0 76.6px,#b82c2d 0 77.8px,#b72b2d 0 79.0px,#b62a31 0 80.2px,#b52a35 0 81.4px,#b92d2a 0 82.5px,#b62a30 0 83.7px,#b62a31 0 84.9px,#b92d2b 0 87.2px,#b72b2e 0 88.4px,#b92d2a 0 89.6px,#b72b2e 0 92.0px,#b62a2f 0 93.1px,#ba2e28 0 94.3px,#b82c2c 0 95.5px,#b92d2a 0 96.7px,#b62a2f 0 97.9px,#b92d2b 0 99.0px,#b62a2f 0 100.2px,#b82c2d 0 101.4px,#ba2e2a 0 102.6px,#bb2f28 0 103.8px,#bb2f27 0 104.9px,#b92d2b 0 106.1px,#b82c2d 0 107.3px,#ba2e29 0 108.5px,#b92d2b 0 109.6px,#ba2e28 0 110.8px,#ba2e29 0 112.0px,#bc3026 0 113.2px,#ba2e28 0 114.4px,#ba2e29 0 115.5px,#bb2f28 0 116.7px,#ba2e29 0 119.1px,#5410cc 0 120.3px,#bb2f27 0 121.4px,#b92d2a 0 122.6px,#bb2f27 0 123.8px,#b92d2b 0 125.0px,#b92d2a 0 126.2px,#bc3026 0 127.3px,#ba2e29 0 128.5px,#b92d2a 0 129.7px,#bd3123 0 130.9px,#bc3025 0 132.0px,#a724aa 0 133.2px,#ba2e28 0 134.4px,#bd3124 0 135.6px,#aa2582 0 136.8px,#bc3026 0 137.9px,#ba2e29 0 139.1px,#bc3026 0 140.3px,#b92d2b 0 141.5px,#be3222 0 142.7px,#a622cf 0 143.8px,#b82c2c 0 145.0px,#bd3123 0 146.2px,#bc3026 0 147.4px,#bb2f26 0 148.6px,#a92596 0 149.7px,#5610d2 0 150.9px,#6612fa 0 152.1px,#a724a8 0 153.3px,#bb2f28 0 154.4px,#ba2e29 0 155.6px,#5e11e9 0 156.8px,#5310cc 0 158.0px,#bc3025 0 159.2px,#bd3123 0 160.3px,#a724ab 0 161.5px,#c0341e 0 162.7px,#bc3025 0 163.9px,#c1351e 0 165.1px,#5210c8 0 166.2px,#bd3123 0 167.4px,#a824a0 0 168.6px,#bb2f28 0 169.8px,#6b12fb 0 171.0px,#a92591 0 172.1px,#c53b1d 0 173.3px,#b92d2b 0 174.5px,#a92591 0 175.7px,#bc3025 0 176.8px,#d2521e 0 178.0px,#a620e9 0 179.2px,#d04f1e 0 180.4px,#c3381d 0 181.6px,#c0341e 0 182.7px,#ba2e29 0 183.9px,#bd3124 0 185.1px,#bd3123 0 186.3px,#bc3025 0 187.5px,#c53c1d 0 188.6px,#c43a1d 0 189.8px,#ba2e28 0 191.0px,#be3221 0 192.2px,#a9258f 0 193.4px,#c53b1d 0 194.5px,#5c11e4 0 195.7px,#b82c2c 0 196.9px,#d04e1e 0 198.1px,#c0341f 0 199.3px,#bd3124 0 200.4px,#d04d1d 0 201.6px,#a824a2 0 202.8px,#bd3123 0 204.0px,#bf3320 0 205.1px,#ab2676 0 206.3px,#a824a2 0 207.5px,#bc3026 0 208.7px,#be3222 0 209.9px,#c1361e 0 211.0px,#aa2586 0 212.2px,#a723bf 0 213.4px,#c0341f 0 214.6px,#ba2e29 0 215.8px,#cd491d 0 216.9px,#be3222 0 218.1px,#4f0fbf 0 219.3px,#d3551e 0 220.5px,#ab2679 0 221.7px,#5110c6 0 222.8px,#5811d9 0 224.0px,#b32943 0 225.2px,#ae275f 0 226.4px,#aa2584 0 227.5px,#a621dd 0 228.7px,#bb2f26 0 229.9px,#d65c1f 0 231.1px,#d1501e 0 232.3px,#bd3124 0 233.4px,#a724b1 0 234.6px,#a621d4 0 235.8px)"></div>
<div class="r" style="top:406.23px;height:7.66px;background:linear-gradient(90deg,#cf4c1d 0 1.2px,#cd481d 0 2.4px,#cc451c 0 3.5px,#ce4a1d 0 4.7px,#ce491d 0 5.9px,#cd471d 0 7.1px,#ce4a1d 0 8.3px,#ce491d 0 9.4px,#cc461d 0 10.6px,#cc471d 0 11.8px,#cd491d 0 13.0px,#ce4b1d 0 14.1px,#cc471d 0 15.3px,#ce4a1d 0 16.5px,#cd481d 0 17.7px,#cc461d 0 18.9px,#ce4a1d 0 20.0px,#cc461c 0 21.2px,#cd471d 0 22.4px,#cb431c 0 23.6px,#cc471d 0 24.8px,#cd491d 0 25.9px,#cb451c 0 27.1px,#cb441c 0 28.3px,#ce4a1d 0 29.5px,#cd481d 0 30.7px,#cc461c 0 31.8px,#cc471d 0 33.0px,#ce4b1d 0 34.2px,#cb451c 0 35.4px,#cd491d 0 36.5px,#cd481d 0 37.7px,#cd471d 0 38.9px,#cc461d 0 40.1px,#cd481d 0 41.3px,#cb451c 0 42.4px,#cc471d 0 43.6px,#cd491d 0 44.8px,#cc461d 0 46.0px,#cc471d 0 47.2px,#cd481d 0 48.3px,#cb431c 0 49.5px,#ca421c 0 50.7px,#cd491d 0 51.9px,#cc471d 0 54.2px,#cc451c 0 55.4px,#cc461c 0 56.6px,#cd471d 0 57.8px,#cc461c 0 59.0px,#cb451c 0 60.1px,#cb441c 0 61.3px,#ca431c 0 62.5px,#c9411c 0 63.7px,#cb451c 0 66.0px,#ce4a1d 0 67.2px,#cb441c 0 68.4px,#cb431c 0 69.6px,#cd491d 0 70.7px,#ca421c 0 71.9px,#c9411c 0 74.3px,#c73e1d 0 75.5px,#c63c1d 0 76.6px,#c4391d 0 77.8px,#c0341e 0 79.0px,#bf3320 0 80.2px,#bd3123 0 81.4px,#bd3124 0 82.5px,#ba2e29 0 84.9px,#b72b2e 0 86.1px,#b62a31 0 87.2px,#b1284f 0 88.4px,#b22847 0 89.6px,#af275b 0 90.8px,#b02757 0 92.0px,#ad2669 0 93.1px,#ac266d 0 94.3px,#ab2678 0 95.5px,#aa258b 0 96.7px,#a92597 0 97.9px,#a92594 0 99.0px,#a8259c 0 100.2px,#a723b4 0 101.4px,#a723be 0 102.6px,#a724b1 0 103.8px,#a722c7 0 104.9px,#a723c1 0 106.1px,#a621d5 0 107.3px,#a722c3 0 108.5px,#a622cd 0 109.6px,#a621d7 0 110.8px,#a620e2 0 112.0px,#a41fec 0 113.2px,#a620e3 0 115.5px,#a620e9 0 116.7px,#a31eef 0 117.9px,#a51fea 0 119.1px,#a41fec 0 120.3px,#a21df1 0 122.6px,#a31def 0 123.8px,#a520e9 0 125.0px,#a31eee 0 126.2px,#a620e8 0 127.3px,#a520e9 0 128.5px,#a11df1 0 129.7px,#a31eee 0 130.9px,#a621dd 0 132.0px,#a41eed 0 133.2px,#a51feb 0 134.4px,#a41fec 0 135.6px,#a31eee 0 136.8px,#a31eef 0 137.9px,#a41eec 0 139.1px,#a41fec 0 141.5px,#a51feb 0 142.7px,#a21df0 0 145.0px,#a41feb 0 146.2px,#a41eed 0 147.4px,#a11cf3 0 148.6px,#a21df0 0 149.7px,#a620e6 0 150.9px,#a31eef 0 153.3px,#a41eed 0 155.6px,#a11df2 0 156.8px,#a21df0 0 158.0px,#a51fea 0 159.2px,#a21df1 0 160.3px,#a31eee 0 161.5px,#a51fea 0 162.7px,#a31eee 0 165.1px,#a21df1 0 166.2px,#a21df0 0 167.4px,#a41feb 0 168.6px,#a41eed 0 169.8px,#a31eee 0 171.0px,#a21df0 0 172.1px,#a51fea 0 174.5px,#a31eee 0 175.7px,#a21df1 0 176.8px,#a11df2 0 178.0px,#a620e8 0 179.2px,#a620e7 0 180.4px,#a21df1 0 181.6px,#a31eee 0 182.7px,#a01cf5 0 183.9px,#a21df1 0 185.1px,#a51fea 0 186.3px,#a41eed 0 188.6px,#a21df0 0 189.8px,#5210c7 0 191.0px,#a21def 0 192.2px,#a41fec 0 193.4px,#a11df2 0 194.5px,#a41fec 0 195.7px,#a51fea 0 196.9px,#a21df0 0 198.1px,#a01bf5 0 199.3px,#a01cf4 0 200.4px,#9d1afa 0 201.6px,#a21df0 0 202.8px,#a621df 0 204.0px,#a31eed 0 205.1px,#a21df0 0 206.3px,#9e1bf8 0 207.5px,#6312f7 0 208.7px,#9f1bf8 0 209.9px,#a620e9 0 211.0px,#9e1bf8 0 212.2px,#9c19fd 0 213.4px,#a01cf4 0 214.6px,#490ead 0 215.8px,#a31eee 0 216.9px,#a11df2 0 218.1px,#a01cf5 0 219.3px,#a621de 0 220.5px,#a51fea 0 221.7px,#3e0c8b 0 222.8px,#a21df0 0 224.0px,#9717ff 0 225.2px,#6112f2 0 226.4px,#a621da 0 227.5px,#a621d2 0 228.7px,#a722c7 0 229.9px,#5410cd 0 231.1px,#9a18ff 0 232.3px,#420d97 0 233.4px,#9c19fd 0 234.6px,#9317ff 0 235.8px)"></div>
<div class="r" style="top:413.59px;height:7.66px;background:linear-gradient(90deg,#d3551e 0 1.2px,#d3541e 0 2.4px,#d2531e 0 3.5px,#d3531e 0 4.7px,#d1501e 0 5.9px,#d3551e 0 7.1px,#d2531e 0 8.3px,#d3561e 0 9.4px,#d2521e 0 10.6px,#d2511e 0 11.8px,#d2521e 0 13.0px,#d2511e 0 14.1px,#d1501e 0 15.3px,#d04e1d 0 16.5px,#d1501e 0 18.9px,#d2521e 0 21.2px,#d04e1e 0 22.4px,#d2521e 0 23.6px,#d04e1d 0 24.8px,#d04e1e 0 25.9px,#d04f1e 0 27.1px,#d04d1d 0 28.3px,#d1501e 0 29.5px,#d2521e 0 30.7px,#cf4c1d 0 31.8px,#d04f1e 0 33.0px,#d04e1d 0 34.2px,#d04f1e 0 35.4px,#cf4c1d 0 36.5px,#d1501e 0 37.7px,#d04e1e 0 38.9px,#d04e1d 0 40.1px,#d1501e 0 41.3px,#ce4b1d 0 42.4px,#cf4c1d 0 43.6px,#cf4d1d 0 44.8px,#d04d1d 0 46.0px,#cf4b1d 0 47.2px,#cf4c1d 0 48.3px,#d04d1d 0 49.5px,#ce4a1d 0 53.1px,#cb451c 0 54.2px,#ce4a1d 0 56.6px,#cf4d1d 0 57.8px,#cc461c 0 59.0px,#cd491d 0 61.3px,#ce491d 0 62.5px,#cc451c 0 63.7px,#ca411c 0 64.8px,#cd471d 0 68.4px,#cb451c 0 69.6px,#cb441c 0 70.7px,#cc461c 0 71.9px,#cb441c 0 73.1px,#cb431c 0 74.3px,#cc451c 0 75.5px,#cc461c 0 76.6px,#ca421c 0 77.8px,#c9411c 0 79.0px,#ca421c 0 80.2px,#cb451c 0 81.4px,#ca431c 0 82.5px,#cb441c 0 84.9px,#cb451c 0 86.1px,#ca421c 0 88.4px,#cb431c 0 89.6px,#c9401c 0 90.8px,#c73e1d 0 92.0px,#c9411c 0 94.3px,#c53c1d 0 95.5px,#c63d1d 0 96.7px,#c63c1d 0 97.9px,#c53b1d 0 99.0px,#c3391d 0 100.2px,#c2371e 0 101.4px,#c1361e 0 102.6px,#c3381d 0 103.8px,#c1361e 0 106.1px,#be3222 0 107.3px,#c1351e 0 108.5px,#c0341e 0 109.6px,#bf3321 0 110.8px,#c0341e 0 112.0px,#bd3123 0 113.2px,#bc3024 0 114.4px,#ba2e28 0 116.7px,#bb2f27 0 117.9px,#ba2e29 0 120.3px,#b72b2e 0 121.4px,#b72b2d 0 122.6px,#b52a37 0 125.0px,#b32940 0 126.2px,#b12852 0 127.3px,#b32941 0 128.5px,#b02853 0 129.7px,#af2758 0 130.9px,#b02856 0 132.0px,#ad2766 0 133.2px,#ad266a 0 134.4px,#ab267b 0 135.6px,#ac266e 0 136.8px,#ac266f 0 137.9px,#ab267c 0 139.1px,#ab2676 0 140.3px,#ab2679 0 141.5px,#aa2585 0 142.7px,#a92592 0 143.8px,#a92590 0 145.0px,#a92595 0 146.2px,#a8249f 0 147.4px,#a8249d 0 148.6px,#a724a8 0 149.7px,#a723b9 0 150.9px,#a723b8 0 152.1px,#a723bb 0 153.3px,#a722ca 0 154.4px,#a622d1 0 155.6px,#a622cb 0 156.8px,#a622ce 0 158.0px,#a621de 0 159.2px,#a621d8 0 160.3px,#a620e8 0 161.5px,#a51feb 0 162.7px,#a620e6 0 163.9px,#a41feb 0 165.1px,#a11df2 0 166.2px,#a21df1 0 167.4px,#a41eed 0 168.6px,#a21def 0 171.0px,#a21df1 0 172.1px,#a31eee 0 173.3px,#a620e5 0 174.5px,#a11df2 0 175.7px,#a620e9 0 176.8px,#a21df0 0 178.0px,#a21df1 0 179.2px,#a41feb 0 180.4px,#a31eee 0 181.6px,#a31eef 0 182.7px,#a51feb 0 183.9px,#a620e9 0 185.1px,#a41eed 0 186.3px,#a21df1 0 188.6px,#a31eef 0 189.8px,#a41fec 0 191.0px,#a31eed 0 192.2px,#a31eee 0 193.4px,#a41fec 0 194.5px,#a01cf5 0 195.7px,#a41eec 0 196.9px,#a31eef 0 199.3px,#a31eee 0 200.4px,#a21df0 0 201.6px,#a21df1 0 202.8px,#a01cf4 0 204.0px,#a31eef 0 205.1px,#9e1af9 0 206.3px,#a11cf3 0 207.5px,#9f1bf7 0 208.7px,#a31eed 0 209.9px,#6012ef 0 211.0px,#a620e4 0 212.2px,#9d19fb 0 213.4px,#9e1af9 0 214.6px,#9a18ff 0 215.8px,#a31eee 0 216.9px,#a620e1 0 218.1px,#9b18fe 0 219.3px,#9f1bf7 0 220.5px,#a621d6 0 221.7px,#5c11e5 0 222.8px,#a51feb 0 224.0px,#9e1af8 0 225.2px,#a21df1 0 226.4px,#a01bf6 0 227.5px,#a01cf4 0 228.7px,#9a18ff 0 229.9px,#a41eed 0 231.1px,#a31def 0 232.3px,#410d94 0 233.4px,#a41fec 0 234.6px,#a722c5 0 235.8px)"></div>
<div class="r" style="top:420.95px;height:7.66px;background:linear-gradient(90deg,#d55a1f 0 1.2px,#d4581f 0 2.4px,#d5591f 0 3.5px,#d3561e 0 4.7px,#d55a1f 0 5.9px,#d4581f 0 7.1px,#d4561f 0 8.3px,#d5591f 0 10.6px,#d55a1f 0 11.8px,#d5591f 0 13.0px,#d3541e 0 14.1px,#d3551e 0 15.3px,#d4571f 0 16.5px,#d4581f 0 17.7px,#d3551e 0 18.9px,#d5591f 0 20.0px,#d4581f 0 21.2px,#d3541e 0 22.4px,#d3551e 0 23.6px,#d5591f 0 24.8px,#d3531e 0 25.9px,#d55b1f 0 27.1px,#d55a1f 0 28.3px,#d3541e 0 29.5px,#d4571f 0 30.7px,#d4591f 0 31.8px,#d3541e 0 33.0px,#d2531e 0 34.2px,#d5591f 0 35.4px,#d3561e 0 36.5px,#d2531e 0 37.7px,#d4581f 0 40.1px,#d4571f 0 41.3px,#d3561e 0 42.4px,#d3541e 0 43.6px,#d2531e 0 44.8px,#d4571f 0 47.2px,#d2531e 0 48.3px,#d3541e 0 51.9px,#d3551e 0 53.1px,#d4581f 0 54.2px,#d3551e 0 55.4px,#d4571f 0 56.6px,#d3551e 0 57.8px,#d4571f 0 59.0px,#d3551e 0 60.1px,#d4571f 0 61.3px,#d3531e 0 62.5px,#d2511e 0 63.7px,#d4571f 0 64.8px,#d2521e 0 67.2px,#d4571f 0 68.4px,#d3541e 0 70.7px,#d3551e 0 73.1px,#d4561f 0 74.3px,#d3541e 0 75.5px,#d2521e 0 76.6px,#d3561e 0 77.8px,#d3541e 0 79.0px,#d2531e 0 80.2px,#d3551e 0 82.5px,#d3541e 0 83.7px,#d1501e 0 84.9px,#d4581f 0 86.1px,#d3531e 0 87.2px,#d1511e 0 88.4px,#d3541e 0 89.6px,#d3561e 0 90.8px,#d3551e 0 92.0px,#d3541e 0 94.3px,#d1501e 0 95.5px,#d04e1d 0 96.7px,#d3551e 0 97.9px,#d2531e 0 100.2px,#d1501e 0 101.4px,#d3561e 0 102.6px,#d2511e 0 103.8px,#d3541e 0 104.9px,#d1501e 0 106.1px,#d04e1e 0 107.3px,#d2531e 0 109.6px,#d1501e 0 110.8px,#d4571f 0 112.0px,#d2511e 0 113.2px,#d3551e 0 114.4px,#d3541e 0 115.5px,#d14f1e 0 116.7px,#d2531e 0 117.9px,#d1501e 0 119.1px,#d2521e 0 121.4px,#d3541e 0 122.6px,#d1511e 0 123.8px,#d2531e 0 125.0px,#d3541e 0 127.3px,#d1511e 0 128.5px,#d3541e 0 132.0px,#d04e1d 0 133.2px,#d04f1e 0 134.4px,#d04e1e 0 135.6px,#d2511e 0 136.8px,#d1501e 0 137.9px,#d2521e 0 140.3px,#d3541e 0 142.7px,#d2511e 0 143.8px,#d2521e 0 145.0px,#d14f1e 0 146.2px,#d2511e 0 147.4px,#d2521e 0 149.7px,#d4561f 0 150.9px,#d04e1d 0 152.1px,#d2521e 0 153.3px,#d2531e 0 154.4px,#d3541e 0 156.8px,#d1501e 0 158.0px,#d1511e 0 159.2px,#d3541e 0 160.3px,#d2531e 0 161.5px,#d3551e 0 162.7px,#d3541e 0 163.9px,#d2531e 0 165.1px,#d2521e 0 166.2px,#d3551e 0 167.4px,#d2521e 0 168.6px,#ce4b1d 0 169.8px,#d3561e 0 171.0px,#d1511e 0 172.1px,#d3541e 0 173.3px,#d1501e 0 174.5px,#d2521e 0 175.7px,#d3561e 0 176.8px,#d2521e 0 178.0px,#d3541e 0 179.2px,#d4571f 0 180.4px,#d3551e 0 181.6px,#d2521e 0 182.7px,#d14f1e 0 183.9px,#df7823 0 185.1px,#d04f1e 0 186.3px,#d4581f 0 187.5px,#d2531e 0 188.6px,#d3551e 0 189.8px,#d1501e 0 192.2px,#ce4a1d 0 193.4px,#cf4c1d 0 194.5px,#e49429 0 195.7px,#d04d1d 0 196.9px,#e6a22c 0 198.1px,#d2521e 0 199.3px,#d1511e 0 200.4px,#d4581f 0 201.6px,#d04e1e 0 202.8px,#ce4a1d 0 204.0px,#cc461d 0 205.1px,#d4571f 0 206.3px,#d1511e 0 207.5px,#d1501e 0 208.7px,#cd491d 0 209.9px,#d65d1f 0 211.0px,#cb451c 0 212.2px,#d55a1f 0 213.4px,#d04e1e 0 214.6px,#d1501e 0 215.8px,#e38e27 0 216.9px,#d2521e 0 218.1px,#e6a32c 0 219.3px,#e39328 0 220.5px,#c73e1d 0 221.7px,#df7c23 0 222.8px,#e6a42c 0 224.0px,#d55a1f 0 225.2px,#e7aa2e 0 226.4px,#d14f1e 0 227.5px,#d2521e 0 228.7px,#d55a1f 0 229.9px,#d3551e 0 231.1px,#d96520 0 232.3px,#e08024 0 233.4px,#d04e1e 0 234.6px,#e28b26 0 235.8px)"></div>
<div class="r" style="top:428.31px;height:7.66px;background:linear-gradient(90deg,#e49529 0 1.2px,#e49429 0 2.4px,#e38e27 0 3.5px,#e39228 0 4.7px,#e39128 0 5.9px,#e49429 0 7.1px,#e38e27 0 8.3px,#e49328 0 9.4px,#e39228 0 10.6px,#e49529 0 11.8px,#e28c27 0 13.0px,#e39328 0 14.1px,#e28826 0 15.3px,#e28b26 0 16.5px,#e38e27 0 17.7px,#e28b26 0 18.9px,#e39028 0 20.0px,#e28c27 0 21.2px,#e38e27 0 22.4px,#e38d27 0 23.6px,#e38f27 0 24.8px,#e28b26 0 25.9px,#e38f27 0 27.1px,#e28b26 0 28.3px,#e28d27 0 29.5px,#e38d27 0 30.7px,#e28d27 0 31.8px,#e28926 0 35.4px,#e28b26 0 36.5px,#e28a26 0 37.7px,#e18325 0 40.1px,#e28b26 0 41.3px,#e18525 0 42.4px,#e28926 0 43.6px,#e18625 0 44.8px,#e28826 0 47.2px,#e18425 0 48.3px,#e28a26 0 49.5px,#e28926 0 50.7px,#e28726 0 51.9px,#e08124 0 53.1px,#e18325 0 54.2px,#e18625 0 55.4px,#e28726 0 56.6px,#e18225 0 57.8px,#e07d24 0 59.0px,#e08124 0 60.1px,#e18525 0 61.3px,#e08124 0 62.5px,#e18725 0 63.7px,#e18225 0 64.8px,#e18725 0 66.0px,#e07f24 0 67.2px,#e18225 0 68.4px,#e18425 0 69.6px,#e07f24 0 70.7px,#e28a26 0 71.9px,#e18425 0 73.1px,#e07f24 0 74.3px,#e08124 0 75.5px,#e07f24 0 77.8px,#e18325 0 79.0px,#e07f24 0 80.2px,#e18325 0 81.4px,#e07e24 0 82.5px,#e08024 0 83.7px,#e07f24 0 84.9px,#e08124 0 86.1px,#e07c24 0 87.2px,#e07e24 0 88.4px,#e07d24 0 89.6px,#df7723 0 90.8px,#df7b23 0 92.0px,#df7923 0 93.1px,#de7422 0 94.3px,#df7723 0 95.5px,#de7622 0 96.7px,#dd7222 0 99.0px,#de7322 0 100.2px,#dd7022 0 101.4px,#dc6e21 0 102.6px,#db6c21 0 103.8px,#db6a21 0 104.9px,#dc6d21 0 106.1px,#da6921 0 107.3px,#d96620 0 108.5px,#d86120 0 109.6px,#d96620 0 110.8px,#d86320 0 113.2px,#d86220 0 114.4px,#d86120 0 117.9px,#d65e1f 0 119.1px,#d75f20 0 120.3px,#d65e1f 0 121.4px,#d76020 0 122.6px,#d75e20 0 125.0px,#d75f20 0 127.3px,#d65d1f 0 128.5px,#d75f20 0 129.7px,#d76020 0 130.9px,#d75e20 0 132.0px,#d65d1f 0 133.2px,#d76120 0 134.4px,#d75e20 0 135.6px,#d65d1f 0 136.8px,#d65c1f 0 137.9px,#d65e1f 0 139.1px,#d76020 0 141.5px,#d75f20 0 142.7px,#d65c1f 0 143.8px,#d65d1f 0 145.0px,#d76120 0 146.2px,#d76020 0 147.4px,#d75e20 0 148.6px,#d75f20 0 149.7px,#d65d1f 0 150.9px,#d75f20 0 153.3px,#d65c1f 0 154.4px,#d76020 0 155.6px,#d65d1f 0 156.8px,#d75f20 0 158.0px,#d65c1f 0 159.2px,#d86120 0 161.5px,#d65d1f 0 162.7px,#d86220 0 163.9px,#d55b1f 0 165.1px,#d86220 0 166.2px,#d4581f 0 167.4px,#d65e1f 0 168.6px,#d75f20 0 169.8px,#d96420 0 171.0px,#d55a1f 0 172.1px,#e28926 0 173.3px,#d86120 0 174.5px,#d65c1f 0 175.7px,#d65d1f 0 176.8px,#d86120 0 178.0px,#d96520 0 179.2px,#d65e1f 0 180.4px,#d86120 0 181.6px,#d65e1f 0 182.7px,#ce4b1d 0 183.9px,#d65c1f 0 185.1px,#d86320 0 186.3px,#d4571f 0 187.5px,#d55a1f 0 188.6px,#d3541e 0 189.8px,#d75f20 0 191.0px,#d65c1f 0 192.2px,#d96420 0 193.4px,#d75f20 0 194.5px,#d86320 0 195.7px,#d76020 0 196.9px,#d3541e 0 198.1px,#d75f20 0 199.3px,#d4581f 0 200.4px,#d75e20 0 201.6px,#d4581f 0 202.8px,#d65d1f 0 204.0px,#d86120 0 205.1px,#e07f24 0 206.3px,#d2511e 0 207.5px,#d96520 0 208.7px,#d55b1f 0 209.9px,#d96520 0 211.0px,#d55a1f 0 212.2px,#e49629 0 213.4px,#df7923 0 214.6px,#e08024 0 215.8px,#da6821 0 216.9px,#d55a1f 0 218.1px,#d3541e 0 219.3px,#d4571f 0 220.5px,#d3561e 0 221.7px,#d65c1f 0 222.8px,#df7b23 0 224.0px,#cc471d 0 225.2px,#df7823 0 226.4px,#d4591f 0 227.5px,#e5992a 0 228.7px,#d04e1d 0 229.9px,#dd7022 0 231.1px,#d4571f 0 232.3px,#df7b23 0 233.4px,#e08124 0 234.6px,#e07f24 0 235.8px)"></div>
<div class="r" style="top:435.67px;height:7.66px;background:linear-gradient(90deg,#ecd437 0 1.2px,#ecd637 0 2.4px,#ebd136 0 3.5px,#ebd236 0 4.7px,#ebcc35 0 5.9px,#ebce36 0 7.1px,#ebd236 0 8.3px,#ebd036 0 9.4px,#ebd236 0 10.6px,#ebd036 0 13.0px,#ebd136 0 14.1px,#ebcf36 0 15.3px,#ebd336 0 16.5px,#ebce35 0 17.7px,#ebd136 0 18.9px,#ecd537 0 20.0px,#ebd136 0 21.2px,#ebce35 0 22.4px,#ebcf36 0 23.6px,#ebd236 0 25.9px,#ebce35 0 28.3px,#ecd737 0 29.5px,#ebcd35 0 30.7px,#ecd537 0 31.8px,#ebd036 0 33.0px,#ebcd35 0 34.2px,#ebcf36 0 35.4px,#ebce35 0 37.7px,#ebd136 0 38.9px,#ebca34 0 40.1px,#ebd336 0 41.3px,#ebd136 0 42.4px,#ebcc35 0 43.6px,#ebca35 0 44.8px,#ecd537 0 46.0px,#ebc934 0 47.2px,#ebd036 0 48.3px,#ebd136 0 49.5px,#ebcb35 0 50.7px,#ebd336 0 51.9px,#ebc934 0 53.1px,#ebc834 0 54.2px,#ebca35 0 55.4px,#ebcb35 0 56.6px,#ebd336 0 57.8px,#ebca35 0 59.0px,#ecd437 0 60.1px,#ebcf36 0 61.3px,#ebd136 0 62.5px,#ebd036 0 63.7px,#ebcb35 0 64.8px,#ebcd35 0 66.0px,#ebcf36 0 68.4px,#ecd437 0 69.6px,#ebca35 0 70.7px,#ebc934 0 74.3px,#ebcc35 0 75.5px,#ebce35 0 76.6px,#ecd337 0 77.8px,#ebcd35 0 79.0px,#ebcb35 0 80.2px,#ebcd35 0 81.4px,#ecd337 0 82.5px,#ebcb35 0 83.7px,#ebca34 0 84.9px,#ebce35 0 86.1px,#ebcf36 0 88.4px,#ebce36 0 89.6px,#ebd036 0 90.8px,#ebd236 0 93.1px,#ebcf36 0 94.3px,#ebcd35 0 95.5px,#ebc934 0 96.7px,#ebca35 0 97.9px,#ebc734 0 99.0px,#ebca35 0 100.2px,#ebcc35 0 101.4px,#ebce36 0 102.6px,#ebc734 0 103.8px,#ebd036 0 104.9px,#ebcb35 0 106.1px,#eac533 0 107.3px,#ebcc35 0 108.5px,#ebc834 0 110.8px,#ebcb35 0 112.0px,#ebc734 0 113.2px,#ebcb35 0 115.5px,#ebce36 0 116.7px,#ebc734 0 117.9px,#ebc634 0 119.1px,#ecd337 0 120.3px,#ebc834 0 121.4px,#ebcf36 0 122.6px,#ebca35 0 123.8px,#ebc934 0 125.0px,#ebd136 0 126.2px,#ebcd35 0 127.3px,#ebc934 0 129.7px,#ebcc35 0 130.9px,#ebc934 0 132.0px,#ebcc35 0 133.2px,#ebc934 0 135.6px,#ebca35 0 136.8px,#ebc934 0 137.9px,#eac533 0 139.1px,#ebca35 0 140.3px,#ebc634 0 141.5px,#ebc834 0 143.8px,#ebc534 0 145.0px,#ebcf36 0 146.2px,#eac433 0 147.4px,#ebcd35 0 148.6px,#eac533 0 149.7px,#ebc734 0 150.9px,#ebcc35 0 152.1px,#ebc934 0 154.4px,#ece039 0 155.6px,#dd7122 0 156.8px,#ebce35 0 158.0px,#ebca35 0 159.2px,#ebc634 0 160.3px,#ebca35 0 161.5px,#ebd036 0 162.7px,#eabf32 0 163.9px,#ebc934 0 165.1px,#d4571f 0 166.2px,#eac333 0 167.4px,#ecda38 0 168.6px,#eac433 0 169.8px,#ebc834 0 171.0px,#e18225 0 172.1px,#eac133 0 173.3px,#ebd136 0 174.5px,#eabe32 0 175.7px,#eac133 0 176.8px,#eabf32 0 178.0px,#ebc934 0 179.2px,#ebca35 0 180.4px,#ebc834 0 181.6px,#ebcd35 0 182.7px,#e9b831 0 183.9px,#ebcc35 0 185.1px,#eac433 0 186.3px,#ebcf36 0 187.5px,#eabe32 0 189.8px,#d65b1f 0 191.0px,#e8af2f 0 192.2px,#eabe32 0 193.4px,#e08024 0 194.5px,#a620e4 0 195.7px,#ebc634 0 196.9px,#ecdb38 0 198.1px,#eac533 0 199.3px,#ecdf39 0 200.4px,#ecd537 0 201.6px,#9d1afa 0 202.8px,#ecdc38 0 204.0px,#ebc834 0 205.1px,#d65d1f 0 206.3px,#ebc934 0 207.5px,#ebcf36 0 208.7px,#eabf32 0 209.9px,#e8ae2f 0 211.0px,#e9b831 0 212.2px,#ecd337 0 213.4px,#e8b330 0 214.6px,#d04f1e 0 215.8px,#ecd537 0 216.9px,#eac233 0 218.1px,#e28a26 0 219.3px,#e18325 0 220.5px,#ede23a 0 221.7px,#e9ba31 0 222.8px,#9f1bf6 0 224.0px,#ecd838 0 225.2px,#e7aa2e 0 226.4px,#e8ae2f 0 227.5px,#d1501e 0 228.7px,#e8b230 0 229.9px,#e8b02f 0 231.1px,#d3531e 0 232.3px,#e18325 0 233.4px,#e8b330 0 234.6px,#ede23a 0 235.8px)"></div>
<div class="r" style="top:443.03px;height:7.66px;background:linear-gradient(90deg,#eef03d 0 1.2px,#eef63e 0 3.5px,#eef43e 0 4.7px,#eef63e 0 8.3px,#edee3c 0 9.4px,#eef63e 0 10.6px,#eef23d 0 11.8px,#eef63e 0 16.5px,#eef33d 0 17.7px,#eef63e 0 21.2px,#edec3c 0 22.4px,#eef53e 0 23.6px,#edeb3c 0 24.8px,#eef63e 0 25.9px,#eef53e 0 27.1px,#eef23d 0 28.3px,#eef63e 0 33.0px,#eef53e 0 34.2px,#eef43e 0 35.4px,#eef23d 0 36.5px,#eef63e 0 37.7px,#eef53e 0 38.9px,#eef43e 0 40.1px,#eef63e 0 41.3px,#eef33d 0 42.4px,#eef43e 0 43.6px,#eef53e 0 44.8px,#eef63e 0 46.0px,#eef13d 0 48.3px,#eef33d 0 49.5px,#eef23d 0 51.9px,#eef63e 0 53.1px,#eef33d 0 54.2px,#eef63e 0 56.6px,#eef53e 0 57.8px,#eef43e 0 59.0px,#eef63e 0 62.5px,#eef13d 0 63.7px,#eef43e 0 64.8px,#eef63e 0 66.0px,#eef13d 0 67.2px,#eef33d 0 68.4px,#eef43e 0 69.6px,#eef23d 0 70.7px,#eef63e 0 71.9px,#eef23d 0 73.1px,#eef43e 0 74.3px,#eef63e 0 76.6px,#eef33d 0 77.8px,#eef53e 0 79.0px,#eef43e 0 80.2px,#ede83b 0 81.4px,#eef63e 0 82.5px,#eef53e 0 83.7px,#eef33d 0 84.9px,#eef63e 0 86.1px,#edee3c 0 87.2px,#eef63e 0 88.4px,#eef23d 0 89.6px,#eef13d 0 90.8px,#eef03d 0 92.0px,#eef53e 0 93.1px,#eef23d 0 94.3px,#eef63e 0 95.5px,#edef3c 0 96.7px,#eef63e 0 97.9px,#eef33d 0 99.0px,#eef63e 0 100.2px,#eef53e 0 101.4px,#eef23d 0 102.6px,#eef33d 0 103.8px,#eded3c 0 104.9px,#eef33d 0 106.1px,#eeef3d 0 107.3px,#eef13d 0 108.5px,#eef63e 0 109.6px,#eef03d 0 110.8px,#eef53e 0 113.2px,#eef23d 0 114.4px,#eef33d 0 115.5px,#eef13d 0 116.7px,#eef63e 0 117.9px,#eef53e 0 119.1px,#eef63e 0 120.3px,#eded3c 0 121.4px,#eef23d 0 122.6px,#eeef3d 0 123.8px,#eef63e 0 125.0px,#eef23d 0 126.2px,#eef03d 0 127.3px,#eef33d 0 129.7px,#eef23d 0 130.9px,#eef63e 0 133.2px,#eef33d 0 134.4px,#eef53e 0 135.6px,#eef13d 0 136.8px,#edee3c 0 137.9px,#eef33d 0 139.1px,#edeb3c 0 140.3px,#eef63e 0 141.5px,#eef13d 0 142.7px,#edec3c 0 143.8px,#eef33d 0 145.0px,#eef63e 0 146.2px,#eef03d 0 147.4px,#eef23d 0 148.6px,#eef43e 0 149.7px,#edee3c 0 150.9px,#eef63e 0 152.1px,#eef13d 0 153.3px,#eef33d 0 154.4px,#eef53e 0 155.6px,#eef23d 0 156.8px,#eef53e 0 158.0px,#eded3c 0 160.3px,#eef33d 0 161.5px,#eef03d 0 163.9px,#eef23d 0 165.1px,#eef43e 0 166.2px,#eef63e 0 169.8px,#eef53e 0 171.0px,#eeef3d 0 172.1px,#edef3c 0 173.3px,#edee3c 0 174.5px,#eef13d 0 175.7px,#eef33d 0 176.8px,#eef63e 0 178.0px,#eeef3d 0 179.2px,#eef33d 0 180.4px,#eef03d 0 181.6px,#eef33d 0 182.7px,#edee3c 0 183.9px,#eef63e 0 185.1px,#eef43d 0 186.3px,#eef53e 0 187.5px,#eef03d 0 188.6px,#eef33d 0 189.8px,#edeb3c 0 191.0px,#eef53e 0 192.2px,#eded3c 0 193.4px,#eef63e 0 194.5px,#eef43e 0 195.7px,#eded3c 0 196.9px,#ede63a 0 198.1px,#edeb3c 0 199.3px,#eef63e 0 200.4px,#ece139 0 201.6px,#eef63e 0 202.8px,#eef13d 0 204.0px,#edeb3c 0 205.1px,#eef63e 0 207.5px,#ede73b 0 208.7px,#eef63e 0 209.9px,#eef33d 0 211.0px,#eef63e 0 214.6px,#eef03d 0 215.8px,#ecd537 0 216.9px,#edeb3c 0 218.1px,#ecd637 0 219.3px,#eef33d 0 220.5px,#ede93b 0 221.7px,#eef63e 0 222.8px,#eabd32 0 224.0px,#eded3c 0 225.2px,#eac333 0 226.4px,#ecd637 0 227.5px,#edeb3c 0 228.7px,#ede83b 0 229.9px,#ede23a 0 231.1px,#eef63e 0 232.3px,#e9ba31 0 233.4px,#eef63e 0 234.6px,#ebce35 0 235.8px)"></div>
<div class="r" style="top:450.39px;height:7.66px;background:linear-gradient(90deg,#ecdc39 0 1.2px,#ecdd39 0 2.4px,#ecdb38 0 3.5px,#ecd737 0 4.7px,#ecd637 0 5.9px,#ede13a 0 7.1px,#ecd637 0 8.3px,#ecde39 0 9.4px,#ecda38 0 10.6px,#ecdc38 0 11.8px,#ecdb38 0 13.0px,#ecd938 0 14.1px,#ecdc38 0 15.3px,#ecd637 0 16.5px,#ecd838 0 17.7px,#ecda38 0 18.9px,#ebd036 0 20.0px,#ecde39 0 21.2px,#ecd938 0 22.4px,#ecd838 0 23.6px,#ecd637 0 24.8px,#ecd938 0 25.9px,#ecd437 0 27.1px,#ecd537 0 28.3px,#ecd737 0 29.5px,#ecd938 0 31.8px,#ecd737 0 34.2px,#ecdb38 0 35.4px,#ecd637 0 36.5px,#ecde39 0 37.7px,#ecdb38 0 38.9px,#ecd737 0 40.1px,#ecd437 0 41.3px,#ecd938 0 42.4px,#ecdc38 0 43.6px,#ecd938 0 46.0px,#ecd337 0 47.2px,#ecdb38 0 48.3px,#ecd537 0 49.5px,#ecde39 0 50.7px,#ecd938 0 51.9px,#ecde39 0 53.1px,#ecdb38 0 54.2px,#ebd236 0 55.4px,#ecd838 0 56.6px,#ecda38 0 57.8px,#ecdd39 0 59.0px,#ecd838 0 60.1px,#ecda38 0 61.3px,#ebd236 0 62.5px,#ecd938 0 63.7px,#ecd837 0 64.8px,#ecda38 0 66.0px,#ecd838 0 67.2px,#ecd737 0 68.4px,#ecd838 0 69.6px,#ecda38 0 70.7px,#ecdd39 0 71.9px,#ecdb38 0 73.1px,#ecdc38 0 74.3px,#ecd537 0 75.5px,#ecd337 0 76.6px,#ecd437 0 79.0px,#ecda38 0 80.2px,#ecd737 0 82.5px,#ece039 0 83.7px,#ecd737 0 84.9px,#ecdb38 0 86.1px,#ecd838 0 87.2px,#ecd437 0 88.4px,#ebd236 0 89.6px,#ecd637 0 90.8px,#ecd938 0 92.0px,#ecda38 0 93.1px,#ecdc38 0 94.3px,#ecda38 0 95.5px,#ecde39 0 96.7px,#ecd537 0 99.0px,#ecda38 0 100.2px,#ecd737 0 101.4px,#ecdb38 0 102.6px,#ecdd39 0 103.8px,#ecd938 0 104.9px,#ecd637 0 106.1px,#ebcf36 0 107.3px,#ecd737 0 108.5px,#ecd838 0 109.6px,#ebd336 0 110.8px,#ecd938 0 112.0px,#ecd838 0 114.4px,#ecdb38 0 115.5px,#ecdd39 0 116.7px,#ecd437 0 117.9px,#ecd737 0 119.1px,#ecd938 0 120.3px,#ecdd39 0 121.4px,#ecd637 0 122.6px,#ecd938 0 125.0px,#ecd737 0 126.2px,#ecd537 0 127.3px,#ecdb38 0 128.5px,#ecd837 0 129.7px,#ecda38 0 130.9px,#ecd437 0 132.0px,#ebd236 0 133.2px,#ecd938 0 134.4px,#ecda38 0 135.6px,#ecd637 0 136.8px,#ebd336 0 137.9px,#ecd537 0 139.1px,#ecd737 0 140.3px,#ebc934 0 141.5px,#ecdb38 0 143.8px,#ede43a 0 145.0px,#ebd236 0 146.2px,#ecd737 0 147.4px,#ebce35 0 149.7px,#ebcf36 0 150.9px,#ebcc35 0 152.1px,#ebd336 0 153.3px,#ecd437 0 154.4px,#ebd136 0 155.6px,#ecd437 0 156.8px,#ebce35 0 158.0px,#ebc734 0 159.2px,#ecd537 0 160.3px,#ebd336 0 161.5px,#ecdd39 0 162.7px,#ecda38 0 163.9px,#ebc834 0 165.1px,#ebce35 0 166.2px,#ecd737 0 167.4px,#ebc634 0 168.6px,#ece039 0 169.8px,#e6a42c 0 171.0px,#ebce35 0 172.1px,#ebcb35 0 173.3px,#eef13d 0 174.5px,#ecd637 0 175.7px,#edee3c 0 176.8px,#ebce35 0 178.0px,#ebd036 0 179.2px,#ecd838 0 180.4px,#ede53a 0 181.6px,#ede13a 0 182.7px,#ecda38 0 183.9px,#ecdc39 0 185.1px,#eef33d 0 186.3px,#ebcc35 0 187.5px,#e8b02f 0 188.6px,#eac533 0 189.8px,#ece139 0 191.0px,#ebd036 0 192.2px,#ebcc35 0 193.4px,#ebcf36 0 194.5px,#edee3c 0 195.7px,#e49729 0 196.9px,#e9b530 0 198.1px,#eac032 0 199.3px,#eabe32 0 200.4px,#e7a82d 0 201.6px,#eac433 0 202.8px,#ecdf39 0 204.0px,#edec3c 0 205.1px,#ecda38 0 206.3px,#ede43a 0 207.5px,#e39027 0 208.7px,#edec3c 0 209.9px,#e8ae2f 0 211.0px,#e8b330 0 212.2px,#ecd437 0 213.4px,#eef13d 0 214.6px,#eef63e 0 215.8px,#ebcc35 0 216.9px,#e59c2b 0 218.1px,#e6a02c 0 219.3px,#ede33a 0 220.5px,#ecda38 0 221.7px,#eded3c 0 222.8px,#ebc734 0 224.0px,#ecdf39 0 225.2px,#eabe32 0 226.4px,#eabf32 0 227.5px,#eef43e 0 228.7px,#eac233 0 229.9px,#e7a82d 0 231.1px,#eef53e 0 232.3px,#ecdd39 0 233.4px,#ebc834 0 234.6px,#e39128 0 235.8px)"></div>
<div class="r" style="top:457.76px;height:7.66px;background:linear-gradient(90deg,#eef63e 0 3.5px,#eef43e 0 4.7px,#eef63e 0 5.9px,#eef43e 0 8.3px,#eef23d 0 9.4px,#eef63e 0 18.9px,#eef23d 0 20.0px,#eef53e 0 21.2px,#eef23d 0 23.6px,#eef63e 0 24.8px,#eef33d 0 25.9px,#eef23d 0 27.1px,#ede93b 0 28.3px,#eef53e 0 29.5px,#eef63e 0 30.7px,#edef3c 0 31.8px,#eef53e 0 33.0px,#eef63e 0 34.2px,#eef23d 0 35.4px,#eef63e 0 36.5px,#eef53e 0 37.7px,#eef63e 0 38.9px,#eef33d 0 40.1px,#eef63e 0 43.6px,#eef43e 0 46.0px,#eef63e 0 47.2px,#eef43e 0 49.5px,#eef63e 0 50.7px,#eef23d 0 51.9px,#eef63e 0 53.1px,#eef13d 0 54.2px,#eef33d 0 55.4px,#eef63e 0 57.8px,#eef23d 0 59.0px,#eef63e 0 62.5px,#eef33d 0 63.7px,#eef63e 0 64.8px,#eeef3d 0 66.0px,#eef63e 0 68.4px,#eef03d 0 69.6px,#eef13d 0 70.7px,#eef33d 0 71.9px,#eef63e 0 74.3px,#eef53e 0 75.5px,#eef63e 0 79.0px,#eef23d 0 80.2px,#eef63e 0 82.5px,#eef13d 0 83.7px,#eef43d 0 84.9px,#eef63e 0 86.1px,#eef33d 0 87.2px,#eef63e 0 90.8px,#eef53e 0 92.0px,#eef63e 0 95.5px,#edec3c 0 96.7px,#eef33d 0 97.9px,#eef63e 0 99.0px,#eef13d 0 100.2px,#eef43e 0 101.4px,#eef33d 0 102.6px,#eef63e 0 103.8px,#eef23d 0 104.9px,#eef63e 0 115.5px,#eeef3d 0 116.7px,#eef23d 0 117.9px,#eef63e 0 121.4px,#eef53e 0 123.8px,#eef13d 0 125.0px,#eef63e 0 130.9px,#eef53e 0 132.0px,#eef63e 0 134.4px,#eef33d 0 135.6px,#eef53e 0 136.8px,#eef63e 0 142.7px,#eef13d 0 145.0px,#eef63e 0 150.9px,#edee3c 0 152.1px,#eef63e 0 153.3px,#eef33d 0 154.4px,#eef63e 0 156.8px,#eef23d 0 158.0px,#eef53e 0 159.2px,#eef23d 0 160.3px,#eef63e 0 167.4px,#eef23d 0 168.6px,#eef63e 0 169.8px,#eef53e 0 171.0px,#eef33d 0 172.1px,#eef03d 0 173.3px,#eef63e 0 174.5px,#eef33d 0 175.7px,#edeb3c 0 176.8px,#eef53e 0 178.0px,#eef63e 0 180.4px,#eef53e 0 181.6px,#eef63e 0 182.7px,#eef23d 0 183.9px,#eef63e 0 185.1px,#eef13d 0 186.3px,#eef33d 0 187.5px,#ebcd35 0 188.6px,#eef63e 0 189.8px,#edee3c 0 191.0px,#eac433 0 192.2px,#eef53e 0 193.4px,#eef63e 0 195.7px,#ebca35 0 196.9px,#eef13d 0 198.1px,#ede53a 0 199.3px,#ebc534 0 200.4px,#eef63e 0 201.6px,#e9b731 0 202.8px,#edea3c 0 204.0px,#eef63e 0 206.3px,#eef53e 0 207.5px,#eef63e 0 208.7px,#eded3c 0 209.9px,#eef43e 0 211.0px,#eabf32 0 212.2px,#eef63e 0 215.8px,#ecdd39 0 216.9px,#eef33d 0 218.1px,#eef43e 0 219.3px,#eef63e 0 220.5px,#edea3b 0 221.7px,#eef63e 0 222.8px,#ede93b 0 224.0px,#eef63e 0 225.2px,#ebc634 0 226.4px,#e6a32c 0 227.5px,#ece139 0 228.7px,#e9b630 0 229.9px,#edee3c 0 231.1px,#eef13d 0 232.3px,#ece039 0 233.4px,#eef63e 0 234.6px,#ebcd35 0 235.8px)"></div>
<div class="r" style="top:465.12px;height:7.66px;background:linear-gradient(90deg,#edee3c 0 1.2px,#edea3b 0 3.5px,#ede93b 0 5.9px,#ede23a 0 7.1px,#edec3c 0 8.3px,#edea3b 0 9.4px,#ede53a 0 10.6px,#edec3c 0 11.8px,#ede53a 0 13.0px,#edec3c 0 15.3px,#edef3c 0 16.5px,#ede53a 0 17.7px,#ede93b 0 18.9px,#edeb3c 0 20.0px,#ede73b 0 21.2px,#edec3c 0 22.4px,#ede83b 0 23.6px,#eded3c 0 24.8px,#edea3b 0 25.9px,#eded3c 0 27.1px,#edeb3c 0 28.3px,#ede73b 0 29.5px,#edea3b 0 30.7px,#edeb3c 0 31.8px,#edea3c 0 33.0px,#eded3c 0 34.2px,#edeb3c 0 35.4px,#edec3c 0 36.5px,#ede73b 0 37.7px,#eded3c 0 38.9px,#edeb3c 0 40.1px,#ede73b 0 41.3px,#ede93b 0 42.4px,#ede63a 0 43.6px,#ede63b 0 44.8px,#edec3c 0 47.2px,#ede83b 0 48.3px,#ede23a 0 49.5px,#ede53a 0 50.7px,#edeb3c 0 51.9px,#edea3b 0 54.2px,#ede43a 0 55.4px,#ede73b 0 56.6px,#ede93b 0 57.8px,#edea3b 0 59.0px,#ede63b 0 60.1px,#ede73b 0 61.3px,#ede93b 0 62.5px,#ede53a 0 63.7px,#ede43a 0 64.8px,#edea3b 0 66.0px,#ede83b 0 67.2px,#ede33a 0 68.4px,#edeb3c 0 69.6px,#eded3c 0 70.7px,#ede93b 0 71.9px,#ede73b 0 73.1px,#ede83b 0 74.3px,#ede93b 0 75.5px,#ede63a 0 76.6px,#ede83b 0 77.8px,#ede43a 0 79.0px,#ede73b 0 80.2px,#ede23a 0 81.4px,#ede53a 0 82.5px,#ede63a 0 83.7px,#ece039 0 84.9px,#ede73b 0 86.1px,#ede83b 0 87.2px,#ede93b 0 88.4px,#ede83b 0 89.6px,#ede73b 0 90.8px,#ede23a 0 92.0px,#edea3c 0 93.1px,#ede53a 0 94.3px,#ece039 0 95.5px,#ede33a 0 96.7px,#ede53a 0 97.9px,#ede73b 0 99.0px,#ede63b 0 100.2px,#edeb3c 0 101.4px,#ece139 0 102.6px,#ede53a 0 103.8px,#ede13a 0 104.9px,#ede23a 0 106.1px,#ede93b 0 107.3px,#ede63a 0 108.5px,#edec3c 0 109.6px,#edea3b 0 110.8px,#ede83b 0 113.2px,#ede33a 0 115.5px,#ede43a 0 116.7px,#ede33a 0 117.9px,#e6a32c 0 119.1px,#edeb3c 0 120.3px,#ede73b 0 121.4px,#ede43a 0 122.6px,#ede53a 0 123.8px,#ede33a 0 125.0px,#ede83b 0 126.2px,#ede23a 0 127.3px,#ede53a 0 128.5px,#ede63b 0 129.7px,#ede33a 0 130.9px,#ede23a 0 132.0px,#e7a82d 0 133.2px,#ede53a 0 134.4px,#ede63b 0 135.6px,#ede23a 0 136.8px,#ede93b 0 137.9px,#e9ba31 0 139.1px,#ecd938 0 140.3px,#ede43a 0 141.5px,#ecdc38 0 142.7px,#ede93b 0 143.8px,#ecdd39 0 145.0px,#ede33a 0 146.2px,#edee3c 0 147.4px,#ecdd39 0 148.6px,#ede73b 0 149.7px,#ece139 0 150.9px,#ede63b 0 153.3px,#ecd637 0 154.4px,#edec3c 0 155.6px,#ede33a 0 156.8px,#edec3c 0 158.0px,#ede73b 0 159.2px,#ece139 0 160.3px,#ecdd39 0 161.5px,#ede63b 0 162.7px,#ecdc39 0 163.9px,#ede93b 0 165.1px,#eded3c 0 166.2px,#ece039 0 167.4px,#e7a82d 0 168.6px,#ecd637 0 169.8px,#ede93b 0 171.0px,#ecdd39 0 172.1px,#ecdb38 0 173.3px,#ede63b 0 174.5px,#eef03d 0 175.7px,#edeb3c 0 176.8px,#eef63e 0 178.0px,#e6a32c 0 179.2px,#ede23a 0 180.4px,#eabe32 0 181.6px,#ebd236 0 182.7px,#ede13a 0 183.9px,#ede83b 0 185.1px,#e7a92d 0 186.3px,#ebce35 0 188.6px,#ecd637 0 189.8px,#ecdd39 0 191.0px,#ebca35 0 192.2px,#eef63e 0 193.4px,#ecd637 0 194.5px,#eef63e 0 195.7px,#ede23a 0 196.9px,#ecdc38 0 198.1px,#eac032 0 199.3px,#ecda38 0 200.4px,#ebd136 0 201.6px,#ede13a 0 202.8px,#eef63e 0 204.0px,#eac233 0 205.1px,#ece139 0 206.3px,#ecd938 0 207.5px,#edea3b 0 208.7px,#e9b731 0 209.9px,#eac333 0 211.0px,#e6a02c 0 212.2px,#ede43a 0 213.4px,#eef63e 0 214.6px,#eef33d 0 215.8px,#e8ae2f 0 216.9px,#edee3c 0 218.1px,#e8b330 0 219.3px,#ece139 0 220.5px,#ecd938 0 221.7px,#e9ba31 0 222.8px,#ede33a 0 224.0px,#ecd637 0 225.2px,#e7a92e 0 226.4px,#ede83b 0 227.5px,#eef63e 0 228.7px,#eef43e 0 229.9px,#ecd637 0 231.1px,#ecdb38 0 232.3px,#eded3c 0 233.4px,#e9b730 0 234.6px,#eef63e 0 235.8px)"></div>
<div class="r" style="top:472.48px;height:7.66px;background:linear-gradient(90deg,#ebce35 0 1.2px,#ebcc35 0 2.4px,#ebcd35 0 3.5px,#eac333 0 4.7px,#ebc734 0 7.1px,#ebca35 0 8.3px,#ebcb35 0 9.4px,#ebcd35 0 10.6px,#ebcb35 0 11.8px,#eac333 0 13.0px,#ebd136 0 14.1px,#ebcb35 0 15.3px,#ebcd35 0 16.5px,#ebca35 0 17.7px,#ebcf36 0 18.9px,#ebce35 0 20.0px,#ebc834 0 21.2px,#ebcb35 0 22.4px,#ebcf36 0 24.8px,#ebd136 0 25.9px,#ebcc35 0 27.1px,#ebce35 0 28.3px,#ebcd35 0 29.5px,#ebce35 0 30.7px,#ebcc35 0 31.8px,#ebd136 0 33.0px,#ebcb35 0 34.2px,#ebcf36 0 35.4px,#ebcb35 0 36.5px,#ebd136 0 37.7px,#ebcf36 0 38.9px,#ecd837 0 40.1px,#ebcd35 0 41.3px,#ecd637 0 42.4px,#ebce35 0 43.6px,#ebd236 0 46.0px,#ebcc35 0 47.2px,#ebd136 0 48.3px,#ecd437 0 49.5px,#ebcd35 0 50.7px,#ecd537 0 51.9px,#ebcc35 0 53.1px,#ebd336 0 54.2px,#ebce36 0 55.4px,#ebcf36 0 56.6px,#ecd437 0 57.8px,#ecd537 0 59.0px,#ecd437 0 60.1px,#ebd136 0 61.3px,#ecd437 0 62.5px,#ebd236 0 63.7px,#ecd637 0 64.8px,#ebcc35 0 66.0px,#ecd337 0 67.2px,#ecd737 0 68.4px,#ebd236 0 70.7px,#ebd036 0 71.9px,#ecd437 0 73.1px,#ebd336 0 74.3px,#ecd737 0 75.5px,#ebd036 0 76.6px,#ecd537 0 77.8px,#ebd236 0 79.0px,#ebd036 0 80.2px,#ebd136 0 81.4px,#ebcf36 0 82.5px,#ebcd35 0 83.7px,#ebd336 0 84.9px,#ecdc39 0 86.1px,#ebd336 0 87.2px,#ecd737 0 88.4px,#ecd437 0 89.6px,#ebd236 0 90.8px,#ecd737 0 92.0px,#ebd136 0 93.1px,#ecda38 0 94.3px,#ecd337 0 95.5px,#ecdd39 0 96.7px,#ecda38 0 97.9px,#ecd838 0 99.0px,#ecd737 0 102.6px,#ecd938 0 103.8px,#ecda38 0 104.9px,#ecd938 0 106.1px,#ecd737 0 107.3px,#ecda38 0 108.5px,#ecd737 0 109.6px,#ecdd39 0 110.8px,#ecd737 0 112.0px,#ecdc38 0 113.2px,#ecd837 0 114.4px,#ecdb38 0 115.5px,#ecda38 0 116.7px,#ecdb38 0 117.9px,#ecde39 0 119.1px,#ecd938 0 120.3px,#ecd838 0 121.4px,#ecda38 0 122.6px,#ecdf39 0 123.8px,#ede23a 0 125.0px,#ecda38 0 126.2px,#ecd537 0 127.3px,#ecd938 0 128.5px,#ecdf39 0 129.7px,#ecde39 0 130.9px,#ede13a 0 132.0px,#ecdf39 0 133.2px,#ede33a 0 134.4px,#ece039 0 135.6px,#ecdf39 0 136.8px,#ede43a 0 137.9px,#ecdf39 0 139.1px,#ecde39 0 140.3px,#ede13a 0 141.5px,#ecd938 0 142.7px,#ecdc38 0 145.0px,#ecdf39 0 147.4px,#ecd938 0 148.6px,#ede33a 0 149.7px,#ece139 0 150.9px,#ecd737 0 152.1px,#ece139 0 153.3px,#ecdc38 0 154.4px,#ecdb38 0 155.6px,#ecdc38 0 156.8px,#ede63b 0 158.0px,#ecdd39 0 159.2px,#ede33a 0 160.3px,#ede13a 0 161.5px,#ede93b 0 162.7px,#ede23a 0 163.9px,#ecdf39 0 165.1px,#ede43a 0 166.2px,#ede63b 0 167.4px,#ede23a 0 168.6px,#ede53a 0 169.8px,#ecde39 0 171.0px,#ecdd39 0 172.1px,#ede63a 0 173.3px,#ede23a 0 174.5px,#ede43a 0 175.7px,#ece139 0 176.8px,#ecdf39 0 178.0px,#ede23a 0 180.4px,#ede43a 0 181.6px,#ecdf39 0 182.7px,#ecdd39 0 183.9px,#ede63b 0 185.1px,#ede23a 0 186.3px,#ede43a 0 187.5px,#ecde39 0 188.6px,#ede13a 0 189.8px,#eef03d 0 191.0px,#ede63b 0 192.2px,#ece039 0 193.4px,#ede53a 0 194.5px,#ecdb38 0 195.7px,#ede43a 0 196.9px,#eef53e 0 198.1px,#eded3c 0 199.3px,#ecd637 0 200.4px,#ebd136 0 201.6px,#ede93b 0 202.8px,#ecdf39 0 204.0px,#eabe32 0 205.1px,#edea3b 0 206.3px,#ecdb38 0 207.5px,#ede23a 0 208.7px,#ecdc38 0 209.9px,#ecd938 0 211.0px,#eef53e 0 212.2px,#edef3c 0 213.4px,#e6a22c 0 214.6px,#e8b230 0 215.8px,#ece139 0 216.9px,#edec3c 0 218.1px,#ecda38 0 219.3px,#ede23a 0 220.5px,#eef43e 0 221.7px,#eef63e 0 224.0px,#edec3c 0 225.2px,#ede23a 0 226.4px,#e7aa2e 0 227.5px,#ecd737 0 228.7px,#ede53a 0 229.9px,#ede83b 0 231.1px,#ede23a 0 232.3px,#eef63e 0 233.4px,#e49729 0 234.6px,#ede13a 0 235.8px)"></div>
<div class="r" style="top:479.84px;height:7.66px;background:linear-gradient(90deg,#eef03d 0 1.2px,#edef3c 0 2.4px,#eeef3d 0 3.5px,#edef3c 0 4.7px,#eded3c 0 5.9px,#edee3c 0 7.1px,#edeb3c 0 8.3px,#edee3c 0 9.4px,#eded3c 0 10.6px,#ede93b 0 11.8px,#eef33d 0 13.0px,#ede83b 0 14.1px,#edea3b 0 15.3px,#ede73b 0 16.5px,#ede43a 0 17.7px,#edea3b 0 18.9px,#edef3c 0 20.0px,#edee3c 0 21.2px,#ede93b 0 22.4px,#edee3c 0 23.6px,#edea3c 0 24.8px,#ede83b 0 25.9px,#ede43a 0 27.1px,#edec3c 0 28.3px,#eded3c 0 29.5px,#edea3b 0 30.7px,#ede63a 0 31.8px,#ede93b 0 33.0px,#ede73b 0 34.2px,#ede53a 0 36.5px,#ede43a 0 37.7px,#ede83b 0 38.9px,#ede23a 0 40.1px,#ecde39 0 41.3px,#ede63b 0 42.4px,#ede43a 0 43.6px,#ede63b 0 44.8px,#ede23a 0 46.0px,#ede43a 0 47.2px,#ede63b 0 48.3px,#ece039 0 49.5px,#ecde39 0 50.7px,#ecdf39 0 51.9px,#ede53a 0 53.1px,#ecde39 0 54.2px,#ece039 0 56.6px,#ede23a 0 57.8px,#ece039 0 59.0px,#ede13a 0 60.1px,#ecdc38 0 61.3px,#ede43a 0 62.5px,#edeb3c 0 63.7px,#ecde39 0 64.8px,#ecdd39 0 66.0px,#ecd838 0 67.2px,#ece039 0 68.4px,#ecd938 0 69.6px,#ecdf39 0 70.7px,#ece139 0 71.9px,#ecdf39 0 73.1px,#ece039 0 74.3px,#ecd637 0 75.5px,#ecd537 0 76.6px,#ecde39 0 77.8px,#ecd837 0 79.0px,#ecd637 0 80.2px,#ebd136 0 81.4px,#ebce36 0 82.5px,#ebcc35 0 83.7px,#ebc834 0 84.9px,#ebce35 0 86.1px,#ebcd35 0 87.2px,#ebc934 0 89.6px,#eac333 0 90.8px,#eabb31 0 92.0px,#eabd32 0 93.1px,#eac233 0 94.3px,#eac032 0 95.5px,#e9b931 0 96.7px,#e9b831 0 97.9px,#e9ba31 0 99.0px,#e9b530 0 100.2px,#e8b02f 0 101.4px,#e8ae2f 0 102.6px,#e8b02f 0 103.8px,#e7ab2e 0 104.9px,#e8ad2e 0 106.1px,#e7a82d 0 108.5px,#e6a32c 0 109.6px,#e6a42c 0 110.8px,#e6a32c 0 112.0px,#e6a22c 0 113.2px,#e6a02c 0 114.4px,#e6a32c 0 115.5px,#e59c2b 0 116.7px,#e4992a 0 117.9px,#e5992a 0 119.1px,#e49328 0 120.3px,#e49729 0 121.4px,#e49629 0 122.6px,#e59b2a 0 123.8px,#e4982a 0 125.0px,#e59b2a 0 126.2px,#e4982a 0 127.3px,#e49529 0 128.5px,#e49829 0 129.7px,#e49529 0 130.9px,#e49829 0 132.0px,#e4982a 0 133.2px,#e49629 0 134.4px,#e49529 0 135.6px,#e49328 0 136.8px,#e49829 0 137.9px,#e39328 0 139.1px,#e5992a 0 140.3px,#e4992a 0 141.5px,#e49629 0 142.7px,#e49729 0 143.8px,#e4992a 0 145.0px,#e49729 0 146.2px,#e49529 0 147.4px,#e49428 0 148.6px,#e49529 0 149.7px,#e49629 0 150.9px,#e49529 0 152.1px,#e49629 0 153.3px,#e39027 0 154.4px,#e39128 0 155.6px,#e39228 0 156.8px,#e49428 0 158.0px,#e38f27 0 159.2px,#b12851 0 160.3px,#e49429 0 161.5px,#e49729 0 162.7px,#e38e27 0 165.1px,#e39027 0 166.2px,#e49429 0 167.4px,#e28726 0 168.6px,#e49629 0 169.8px,#e39328 0 171.0px,#e59d2b 0 172.1px,#e28826 0 173.3px,#e39028 0 174.5px,#e28b26 0 175.7px,#e4992a 0 176.8px,#e39128 0 178.0px,#d86220 0 179.2px,#e07f24 0 180.4px,#e08024 0 181.6px,#8b16ff 0 182.7px,#e28926 0 183.9px,#e39027 0 185.1px,#e28a26 0 186.3px,#e39328 0 187.5px,#e49629 0 188.6px,#e38f27 0 189.8px,#df7823 0 191.0px,#e39027 0 192.2px,#e39028 0 193.4px,#e07f24 0 194.5px,#9317ff 0 195.7px,#e38d27 0 196.9px,#b22947 0 198.1px,#e49529 0 199.3px,#e08024 0 200.4px,#e7a62d 0 201.6px,#e28a26 0 202.8px,#e38f27 0 204.0px,#df7923 0 205.1px,#df7b23 0 206.3px,#af275a 0 207.5px,#d2521e 0 208.7px,#df7b23 0 209.9px,#e38f27 0 211.0px,#e6a32c 0 212.2px,#8415ff 0 213.4px,#e49429 0 214.6px,#e7a82d 0 215.8px,#e28a26 0 216.9px,#e08124 0 218.1px,#a723ba 0 219.3px,#e28826 0 220.5px,#e49729 0 221.7px,#8d16ff 0 222.8px,#7813fe 0 224.0px,#df7c23 0 225.2px,#d3531e 0 226.4px,#8a15ff 0 227.5px,#a724b0 0 228.7px,#bb2f26 0 229.9px,#df7823 0 231.1px,#a723b9 0 232.3px,#e28826 0 233.4px,#cd471d 0 234.6px,#aa2582 0 235.8px)"></div></div>
<div class="hm" style="left:383.5px;top:0;width:235.5px"><div class="r" style="top:259.30px;height:8.77px;background:linear-gradient(90deg,#ecdb38 0 1.2px,#ecd938 0 3.5px,#ebd336 0 4.7px,#ede13a 0 5.9px,#ecdf39 0 7.1px,#ecda38 0 8.2px,#ecde39 0 9.4px,#ecdd39 0 10.6px,#ecda38 0 11.8px,#ece039 0 13.0px,#ecdc38 0 15.3px,#ecda38 0 16.5px,#ecdf39 0 17.7px,#ecdd39 0 18.8px,#ece039 0 20.0px,#ecdc38 0 21.2px,#ecdf39 0 22.4px,#ecdb38 0 23.6px,#ede13a 0 24.7px,#ecdf39 0 25.9px,#ece039 0 27.1px,#ece139 0 28.3px,#ecdc38 0 29.4px,#ede23a 0 30.6px,#ede73b 0 31.8px,#ecdb38 0 34.1px,#ecdd39 0 35.3px,#ede53a 0 36.5px,#ede33a 0 37.7px,#ede73b 0 38.9px,#ede63b 0 40.0px,#ede53a 0 42.4px,#ede43a 0 43.6px,#ede83b 0 44.7px,#ede23a 0 45.9px,#ede53a 0 47.1px,#ede73b 0 48.3px,#eded3c 0 49.5px,#ede53a 0 50.6px,#ede43a 0 51.8px,#ede63b 0 53.0px,#edec3c 0 54.2px,#ede83b 0 55.3px,#edee3c 0 56.5px,#ede43a 0 57.7px,#edee3c 0 60.1px,#ede63b 0 61.2px,#edeb3c 0 62.4px,#eeef3d 0 63.6px,#edeb3c 0 64.8px,#edee3c 0 65.9px,#eef33d 0 67.1px,#edec3c 0 68.3px,#edea3b 0 69.5px,#ede93b 0 70.7px,#eded3c 0 71.8px,#edeb3c 0 75.4px,#edee3c 0 76.5px,#ede83b 0 77.7px,#ede63b 0 78.9px,#ede33a 0 80.1px,#eef03d 0 81.2px,#edec3c 0 82.4px,#eef13d 0 83.6px,#edec3c 0 84.8px,#ede93b 0 86.0px,#eded3c 0 87.1px,#edeb3c 0 88.3px,#ede83b 0 89.5px,#ede93b 0 90.7px,#eef23d 0 91.8px,#eded3c 0 94.2px,#edeb3c 0 95.4px,#edea3b 0 96.6px,#eeef3d 0 97.7px,#edec3c 0 98.9px,#edea3b 0 100.1px,#edec3c 0 101.3px,#ede93b 0 102.4px,#eded3c 0 103.6px,#eef03d 0 104.8px,#ede93b 0 106.0px,#eef13d 0 107.2px,#edea3b 0 108.3px,#eded3c 0 109.5px,#edea3b 0 110.7px,#edec3c 0 111.9px,#eded3c 0 113.0px,#edeb3c 0 114.2px,#edea3b 0 117.8px,#ede73b 0 118.9px,#edec3c 0 120.1px,#edee3c 0 121.3px,#eef03d 0 122.5px,#eeef3d 0 123.6px,#eef53e 0 124.8px,#edee3c 0 126.0px,#edeb3c 0 127.2px,#eef33d 0 128.3px,#edea3b 0 129.5px,#eef03d 0 130.7px,#edea3b 0 131.9px,#edee3c 0 133.1px,#ede73b 0 134.2px,#eef03d 0 135.4px,#eded3c 0 136.6px,#edea3b 0 137.8px,#eef33d 0 138.9px,#eef03d 0 140.1px,#edee3c 0 141.3px,#edeb3c 0 142.5px,#eded3c 0 144.8px,#eef03d 0 147.2px,#edeb3c 0 148.4px,#edec3c 0 150.7px,#ede93b 0 151.9px,#edec3c 0 153.1px,#eded3c 0 154.3px,#eef03d 0 155.4px,#eef23d 0 156.6px,#edeb3c 0 157.8px,#eef03d 0 159.0px,#edec3c 0 160.1px,#eef53e 0 161.3px,#edee3c 0 162.5px,#eef03d 0 163.7px,#edeb3c 0 166.0px,#edef3c 0 167.2px,#eded3c 0 168.4px,#eeef3d 0 169.6px,#ede93b 0 170.7px,#eef13d 0 171.9px,#edeb3c 0 173.1px,#eef43e 0 174.3px,#edee3c 0 175.4px,#eef23d 0 176.6px,#edea3b 0 177.8px,#eef13d 0 179.0px,#eded3c 0 180.2px,#edea3b 0 181.3px,#edee3c 0 182.5px,#e8ad2e 0 183.7px,#eef13d 0 184.9px,#edee3c 0 186.0px,#eef63e 0 188.4px,#ede83b 0 189.6px,#9f1bf6 0 190.8px,#e8b12f 0 191.9px,#eef63e 0 194.3px,#eef33d 0 195.5px,#e7ab2e 0 196.6px,#a21df1 0 197.8px,#d3561e 0 199.0px,#9b18ff 0 200.2px,#bd3124 0 201.4px,#a51fea 0 202.5px,#9717ff 0 203.7px,#ecdd39 0 204.9px,#bb2f27 0 206.1px,#d3541e 0 207.2px,#ece139 0 208.4px,#d55b1f 0 209.6px,#eef53e 0 210.8px,#e8b12f 0 211.9px,#e9b530 0 213.1px,#ede53a 0 214.3px,#9d1afa 0 215.5px,#c3391d 0 216.7px,#d76020 0 217.8px,#ecd737 0 219.0px,#d86220 0 220.2px,#cf4c1d 0 221.4px,#ede93b 0 222.5px,#ecd837 0 223.7px,#c1351e 0 224.9px,#d75e20 0 226.1px,#e59d2b 0 227.3px,#9617ff 0 228.4px,#9b18fe 0 229.6px,#da6721 0 230.8px,#ba2e29 0 232.0px,#da6921 0 233.1px,#db6b21 0 234.3px,#cd481d 0 235.5px)"></div>
<div class="r" style="top:267.77px;height:8.77px;background:linear-gradient(90deg,#eef63e 0 5.9px,#eef53e 0 7.1px,#eef63e 0 9.4px,#eef23d 0 10.6px,#eef63e 0 14.1px,#eef53e 0 15.3px,#eef63e 0 16.5px,#eef23d 0 17.7px,#eef63e 0 18.8px,#eef43e 0 20.0px,#eef63e 0 21.2px,#eef43e 0 22.4px,#eef63e 0 24.7px,#eef23d 0 25.9px,#eef63e 0 27.1px,#eeef3d 0 28.3px,#edef3c 0 29.4px,#eef63e 0 33.0px,#eef03d 0 34.1px,#eef63e 0 40.0px,#eef33d 0 41.2px,#eef53e 0 43.6px,#eef63e 0 44.7px,#eef33d 0 47.1px,#eef63e 0 51.8px,#eef53e 0 53.0px,#eef63e 0 57.7px,#eef33d 0 58.9px,#eef43e 0 60.1px,#eef33d 0 61.2px,#eef23d 0 62.4px,#eef63e 0 64.8px,#eef23d 0 65.9px,#eef63e 0 68.3px,#eef33d 0 69.5px,#eef63e 0 71.8px,#eef33d 0 73.0px,#eeef3d 0 74.2px,#eef63e 0 76.5px,#eded3c 0 77.7px,#eef63e 0 80.1px,#eef43e 0 81.2px,#eef63e 0 82.4px,#eef53e 0 83.6px,#eef33d 0 84.8px,#eef53e 0 86.0px,#eef63e 0 87.1px,#eef13d 0 88.3px,#eef63e 0 90.7px,#eef43d 0 91.8px,#eef53e 0 93.0px,#eef13d 0 94.2px,#eef33d 0 95.4px,#eef63e 0 97.7px,#eef33d 0 98.9px,#eef63e 0 100.1px,#eef43e 0 101.3px,#eef63e 0 102.4px,#eef53e 0 104.8px,#eef63e 0 106.0px,#eef43e 0 107.2px,#eef63e 0 109.5px,#eef23d 0 110.7px,#eef63e 0 111.9px,#eef43e 0 113.0px,#eef63e 0 114.2px,#eef53e 0 115.4px,#eef33d 0 116.6px,#eef03d 0 117.8px,#eef23d 0 118.9px,#eef43e 0 120.1px,#eef33d 0 121.3px,#eef23d 0 122.5px,#eef43d 0 123.6px,#eef53e 0 124.8px,#eef63e 0 126.0px,#eef03d 0 127.2px,#eef43e 0 128.3px,#eef33d 0 129.5px,#eef13d 0 130.7px,#eef23d 0 131.9px,#eef33d 0 133.1px,#eef63e 0 134.2px,#eef53e 0 135.4px,#eef43e 0 136.6px,#eef63e 0 138.9px,#eef53e 0 140.1px,#eef63e 0 141.3px,#eef33d 0 142.5px,#eef63e 0 144.8px,#eef53e 0 146.0px,#eef23d 0 147.2px,#eef63e 0 150.7px,#eef43e 0 151.9px,#eef63e 0 153.1px,#eef53e 0 154.3px,#eef63e 0 156.6px,#eef33d 0 157.8px,#eef63e 0 166.0px,#eef53e 0 167.2px,#eef23d 0 168.4px,#eef43d 0 169.6px,#eef43e 0 170.7px,#eef63e 0 171.9px,#eef53e 0 173.1px,#eef23d 0 174.3px,#eef63e 0 175.4px,#eef33d 0 177.8px,#eef53e 0 179.0px,#eef63e 0 180.2px,#edee3c 0 181.3px,#eef23d 0 182.5px,#eef63e 0 183.7px,#eef53e 0 184.9px,#eef33d 0 186.0px,#eef43e 0 187.2px,#eef63e 0 188.4px,#eef43e 0 189.6px,#eef63e 0 191.9px,#eef43e 0 193.1px,#eef63e 0 194.3px,#eef43e 0 195.5px,#c63c1d 0 196.6px,#eef33d 0 197.8px,#eef63e 0 199.0px,#e9b430 0 200.2px,#eef23d 0 201.4px,#eef03d 0 202.5px,#eef33d 0 203.7px,#eef63e 0 204.9px,#eef43e 0 206.1px,#eef63e 0 210.8px,#e6a52d 0 211.9px,#eef63e 0 215.5px,#eded3c 0 216.7px,#ebc634 0 217.8px,#eef63e 0 219.0px,#ece039 0 220.2px,#ebc634 0 221.4px,#ecde39 0 222.5px,#eef63e 0 223.7px,#c2371e 0 224.9px,#eef53e 0 226.1px,#c63c1d 0 227.3px,#ecd737 0 228.4px,#eef63e 0 229.6px,#ecdc39 0 230.8px,#eef63e 0 234.3px,#ebd036 0 235.5px)"></div>
<div class="r" style="top:276.23px;height:8.77px;background:linear-gradient(90deg,#ecdb38 0 1.2px,#ede33a 0 2.4px,#ecdf39 0 3.5px,#ecde39 0 4.7px,#ecdc38 0 5.9px,#ede53a 0 7.1px,#ecde39 0 8.2px,#ecdb38 0 9.4px,#ecde39 0 10.6px,#ecdc38 0 11.8px,#ece039 0 13.0px,#ecdf39 0 14.1px,#ecdc39 0 15.3px,#ede23a 0 16.5px,#ecde39 0 17.7px,#ede23a 0 18.8px,#ede43a 0 20.0px,#ecdf39 0 21.2px,#ecde39 0 22.4px,#ece139 0 23.6px,#ede33a 0 24.7px,#ece039 0 25.9px,#ece139 0 27.1px,#ece039 0 28.3px,#ede13a 0 29.4px,#ede23a 0 30.6px,#ecde39 0 31.8px,#ecdf39 0 33.0px,#ece139 0 34.1px,#ecde39 0 35.3px,#ece139 0 36.5px,#ede23a 0 37.7px,#ece039 0 38.9px,#ecdf39 0 40.0px,#ecde39 0 41.2px,#ede63b 0 42.4px,#ede43a 0 43.6px,#ecdd39 0 44.7px,#ecde39 0 45.9px,#ede73b 0 47.1px,#ede63b 0 48.3px,#ede13a 0 49.5px,#ede53a 0 50.6px,#ecdc38 0 51.8px,#ece139 0 53.0px,#ede33a 0 54.2px,#ecdb38 0 55.3px,#ecde39 0 56.5px,#ede43a 0 57.7px,#ede53a 0 58.9px,#ecdf39 0 60.1px,#ede23a 0 61.2px,#ede63b 0 62.4px,#ece039 0 63.6px,#ecdd39 0 64.8px,#ece139 0 65.9px,#ece039 0 67.1px,#ede63a 0 68.3px,#ede23a 0 69.5px,#ecdf39 0 70.7px,#ede93b 0 71.8px,#ece039 0 73.0px,#ede33a 0 74.2px,#ede43a 0 76.5px,#ede23a 0 77.7px,#ede33a 0 78.9px,#ede13a 0 80.1px,#ecdd39 0 81.2px,#ece139 0 83.6px,#ede13a 0 84.8px,#ede23a 0 86.0px,#ece039 0 87.1px,#ede63b 0 88.3px,#ede73b 0 89.5px,#ecda38 0 90.7px,#ede23a 0 91.8px,#ecdf39 0 93.0px,#ecd938 0 94.2px,#ede33a 0 95.4px,#ece039 0 96.6px,#ece139 0 97.7px,#ece039 0 98.9px,#ede63a 0 100.1px,#ede63b 0 101.3px,#ede33a 0 102.4px,#ede43a 0 103.6px,#ede23a 0 104.8px,#ede33a 0 106.0px,#ece039 0 107.2px,#ede23a 0 108.3px,#ece039 0 109.5px,#ede33a 0 110.7px,#ede53a 0 111.9px,#ede33a 0 113.0px,#ede63b 0 114.2px,#edeb3c 0 115.4px,#ecdb38 0 116.6px,#ede23a 0 117.8px,#ece139 0 118.9px,#ede13a 0 120.1px,#ecde39 0 121.3px,#ede33a 0 122.5px,#ece139 0 123.6px,#ede23a 0 124.8px,#ece039 0 127.2px,#ecdb38 0 128.3px,#ede93b 0 129.5px,#ede13a 0 130.7px,#ecdb38 0 131.9px,#ede83b 0 133.1px,#ede23a 0 134.2px,#ecd837 0 135.4px,#ede93b 0 136.6px,#ede23a 0 137.8px,#ede33a 0 138.9px,#ede53a 0 140.1px,#edea3b 0 142.5px,#ede83b 0 143.7px,#ecdb38 0 144.8px,#ede23a 0 146.0px,#ede43a 0 147.2px,#edeb3c 0 148.4px,#eef33d 0 149.5px,#eef13d 0 150.7px,#ede93b 0 151.9px,#ede33a 0 153.1px,#ecdd39 0 154.3px,#ecdb38 0 155.4px,#ede33a 0 156.6px,#ede93b 0 157.8px,#ede53a 0 159.0px,#ede93b 0 160.1px,#e7aa2e 0 161.3px,#ebcb35 0 162.5px,#ece139 0 163.7px,#edee3c 0 164.8px,#ede73b 0 166.0px,#ede93b 0 167.2px,#edec3c 0 168.4px,#ede53a 0 169.6px,#eef53e 0 170.7px,#ede73b 0 171.9px,#ecd938 0 173.1px,#eac533 0 174.3px,#ecdb38 0 175.4px,#ecdc39 0 176.6px,#ece139 0 177.8px,#ede23a 0 179.0px,#ede63b 0 180.2px,#eef63e 0 181.3px,#eac233 0 182.5px,#ede23a 0 183.7px,#eac032 0 184.9px,#ecde39 0 186.0px,#eef23d 0 187.2px,#eef13d 0 188.4px,#ede83b 0 189.6px,#eef63e 0 190.8px,#ebca35 0 191.9px,#ecda38 0 193.1px,#eac233 0 194.3px,#ece139 0 195.5px,#e9b731 0 196.6px,#ecd737 0 197.8px,#ebd036 0 199.0px,#edeb3c 0 200.2px,#eded3c 0 201.4px,#e8b330 0 202.5px,#e6a52d 0 203.7px,#ebcb35 0 204.9px,#ebd236 0 206.1px,#eef53e 0 207.2px,#eef63e 0 208.4px,#ede43a 0 209.6px,#eef63e 0 210.8px,#ebd236 0 211.9px,#eef63e 0 213.1px,#ece039 0 214.3px,#e8b12f 0 215.5px,#eef63e 0 216.7px,#ebd236 0 217.8px,#edef3c 0 219.0px,#ecd837 0 220.2px,#ede93b 0 221.4px,#e8b12f 0 222.5px,#ecd838 0 223.7px,#eac133 0 224.9px,#eef63e 0 226.1px,#e8b12f 0 227.3px,#e9b831 0 228.4px,#eef63e 0 229.6px,#ebcf36 0 230.8px,#eef63e 0 232.0px,#ecdb38 0 233.1px,#ede13a 0 234.3px,#e8b12f 0 235.5px)"></div>
<div class="r" style="top:284.70px;height:8.77px;background:linear-gradient(90deg,#ecd537 0 1.2px,#ecd938 0 2.4px,#ebd336 0 3.5px,#ecd637 0 5.9px,#ecd437 0 7.1px,#ebd136 0 8.2px,#ecd737 0 9.4px,#ecd437 0 10.6px,#ebd236 0 11.8px,#ebd136 0 13.0px,#ebd236 0 14.1px,#ecd938 0 15.3px,#ebd236 0 16.5px,#ebd036 0 17.7px,#ebcd35 0 20.0px,#ebca35 0 21.2px,#ebd136 0 22.4px,#ebd036 0 23.6px,#ebcc35 0 24.7px,#ebcb35 0 25.9px,#ebce35 0 27.1px,#ebcd35 0 28.3px,#ebca35 0 29.4px,#ebd036 0 30.6px,#ebcf36 0 31.8px,#ebce35 0 33.0px,#ebd136 0 34.1px,#ebcc35 0 35.3px,#ebd236 0 36.5px,#ebca35 0 37.7px,#ebcf36 0 40.0px,#ebcc35 0 41.2px,#ebce35 0 42.4px,#ebc834 0 43.6px,#ebc734 0 44.7px,#ebcb35 0 45.9px,#ebc934 0 47.1px,#ebcd35 0 48.3px,#ebcb35 0 49.5px,#ebcd35 0 50.6px,#ebcc35 0 51.8px,#ebcb35 0 53.0px,#ebca35 0 54.2px,#ebc934 0 55.3px,#ebc834 0 56.5px,#ebd036 0 57.7px,#eac333 0 58.9px,#ebc834 0 60.1px,#ebcc35 0 61.2px,#ebca35 0 62.4px,#ebcd35 0 63.6px,#ebca35 0 64.8px,#eac433 0 65.9px,#ebc734 0 67.1px,#eac333 0 68.3px,#ebca35 0 69.5px,#ebcc35 0 70.7px,#ebc534 0 71.8px,#ebc834 0 73.0px,#eac533 0 74.2px,#eac133 0 75.4px,#eac433 0 76.5px,#eac032 0 77.7px,#eac333 0 78.9px,#ebc634 0 80.1px,#ebc734 0 81.2px,#ebc934 0 82.4px,#eac333 0 83.6px,#ebc534 0 86.0px,#ebc634 0 87.1px,#e9ba31 0 88.3px,#eac133 0 89.5px,#ebc634 0 90.7px,#eabf32 0 91.8px,#eac333 0 93.0px,#ebc534 0 94.2px,#eabc32 0 95.4px,#eac133 0 96.6px,#eac333 0 97.7px,#eac233 0 98.9px,#eabc32 0 100.1px,#eac233 0 101.3px,#eabf32 0 102.4px,#eac333 0 103.6px,#eac233 0 104.8px,#eabe32 0 106.0px,#eac133 0 107.2px,#eabd32 0 109.5px,#e9ba31 0 110.7px,#eabe32 0 111.9px,#eac133 0 113.0px,#eabf32 0 114.2px,#eabe32 0 115.4px,#eabc32 0 117.8px,#eac032 0 118.9px,#e9b931 0 120.1px,#eac433 0 121.3px,#eabd32 0 122.5px,#eac433 0 123.6px,#eac133 0 124.8px,#eabc31 0 126.0px,#eabf32 0 127.2px,#eabe32 0 129.5px,#eabf32 0 130.7px,#eabb31 0 131.9px,#e9ba31 0 133.1px,#eabb31 0 134.2px,#e9b731 0 135.4px,#eabb31 0 136.6px,#e49629 0 137.8px,#eabc32 0 140.1px,#e9b931 0 141.3px,#eac133 0 142.5px,#e8b330 0 143.7px,#e9b831 0 144.8px,#e9ba31 0 146.0px,#e9b731 0 147.2px,#eac032 0 148.4px,#eac133 0 149.5px,#eabd32 0 150.7px,#eabe32 0 151.9px,#ebcd35 0 153.1px,#e9b730 0 154.3px,#e9b831 0 155.4px,#e39128 0 156.6px,#eabe32 0 157.8px,#eabb31 0 159.0px,#eabd32 0 160.1px,#e49729 0 161.3px,#e8b12f 0 162.5px,#eabb31 0 163.7px,#eabd32 0 164.8px,#e9b931 0 166.0px,#eabe32 0 167.2px,#e49729 0 168.4px,#eac433 0 169.6px,#eabc32 0 170.7px,#e8b02f 0 171.9px,#e9b530 0 173.1px,#e8af2f 0 174.3px,#e69f2b 0 175.4px,#e49729 0 176.6px,#eabf32 0 177.8px,#e9b730 0 179.0px,#eac033 0 180.2px,#e49529 0 181.3px,#e7a62d 0 182.5px,#e8b02f 0 183.7px,#e8ae2f 0 184.9px,#e8b330 0 186.0px,#e6a52d 0 187.2px,#e8ad2e 0 188.4px,#e9b530 0 189.6px,#e28a26 0 190.8px,#e8b330 0 191.9px,#ebcf36 0 193.1px,#ecdc38 0 194.3px,#e9b430 0 195.5px,#e8b02f 0 196.6px,#ebcc35 0 197.8px,#e59e2b 0 199.0px,#e9b731 0 200.2px,#eabc32 0 201.4px,#e7a72d 0 202.5px,#e7ac2e 0 203.7px,#e8b12f 0 204.9px,#c63c1d 0 206.1px,#ebc634 0 207.2px,#eabc31 0 208.4px,#e7a92d 0 209.6px,#eabb31 0 210.8px,#ab2676 0 211.9px,#b52a37 0 213.1px,#e6a42d 0 214.3px,#e8b12f 0 215.5px,#e7a72d 0 216.7px,#5a11de 0 217.8px,#5e11ea 0 219.0px,#eac333 0 220.2px,#e8b02f 0 221.4px,#e9ba31 0 222.5px,#e7a72d 0 223.7px,#eac133 0 224.9px,#e4992a 0 226.1px,#e7a72d 0 227.3px,#e18525 0 228.4px,#b12851 0 229.6px,#b22849 0 230.8px,#e7a72d 0 232.0px,#b52a33 0 233.1px,#c1361e 0 234.3px,#b32945 0 235.5px)"></div>
<div class="r" style="top:293.17px;height:8.77px;background:linear-gradient(90deg,#e9b530 0 1.2px,#e8b22f 0 3.5px,#e8b12f 0 4.7px,#e9b430 0 5.9px,#e8af2f 0 7.1px,#e8b330 0 9.4px,#e8ae2f 0 10.6px,#e9b430 0 11.8px,#e8b22f 0 13.0px,#e9b530 0 14.1px,#e9b730 0 15.3px,#e9b530 0 16.5px,#e8b02f 0 17.7px,#e9b530 0 18.8px,#e8ae2f 0 20.0px,#e8b12f 0 21.2px,#e9ba31 0 22.4px,#e9b430 0 23.6px,#e9ba31 0 24.7px,#e9b430 0 25.9px,#e9b530 0 27.1px,#e8b12f 0 28.3px,#e9b831 0 29.4px,#e9b430 0 30.6px,#e9b730 0 31.8px,#e9b630 0 33.0px,#e9b730 0 34.1px,#e9b630 0 35.3px,#e9b530 0 37.7px,#e8b330 0 38.9px,#e8ae2f 0 40.0px,#e9b731 0 41.2px,#eabd32 0 42.4px,#e9b931 0 43.6px,#eabe32 0 44.7px,#e9b831 0 45.9px,#e8b330 0 48.3px,#e9b931 0 49.5px,#e9b831 0 50.6px,#e9b630 0 51.8px,#e9b931 0 53.0px,#e9b430 0 54.2px,#e9b931 0 55.3px,#e9b630 0 56.5px,#e9b731 0 57.7px,#eabb31 0 58.9px,#e9b730 0 60.1px,#eabc32 0 62.4px,#e9b530 0 63.6px,#eabf32 0 64.8px,#e8b330 0 65.9px,#e9b731 0 67.1px,#e9ba31 0 68.3px,#e8b02f 0 69.5px,#eabb31 0 70.7px,#eabc32 0 71.8px,#e9b831 0 73.0px,#e9b931 0 75.4px,#e9b831 0 76.5px,#eabd32 0 77.7px,#e9b931 0 78.9px,#eabb31 0 80.1px,#eabe32 0 81.2px,#eac133 0 82.4px,#eac333 0 83.6px,#eabc32 0 84.8px,#eabb31 0 86.0px,#eac333 0 87.1px,#eac433 0 88.3px,#eac233 0 89.5px,#ebc834 0 90.7px,#ebcb35 0 93.0px,#ebd136 0 94.2px,#ebc934 0 95.4px,#ebce35 0 96.6px,#ecd537 0 97.7px,#ebd236 0 98.9px,#ebce35 0 100.1px,#ecd337 0 101.3px,#ecd838 0 102.4px,#ecdc38 0 103.6px,#ecd938 0 104.8px,#ecdc38 0 106.0px,#ecd537 0 107.2px,#ecd938 0 108.3px,#ece039 0 109.5px,#ecda38 0 110.7px,#ecde39 0 111.9px,#ecd938 0 113.0px,#ede63b 0 114.2px,#ede23a 0 115.4px,#ede53a 0 116.6px,#ecdf39 0 117.8px,#ece139 0 118.9px,#edec3c 0 120.1px,#ede43a 0 122.5px,#ede73b 0 123.6px,#ede83b 0 124.8px,#ecdf39 0 126.0px,#ede33a 0 127.2px,#ede63b 0 129.5px,#ede83b 0 130.7px,#ede53a 0 131.9px,#ede63a 0 133.1px,#ede73b 0 134.2px,#ede43a 0 136.6px,#ede53a 0 137.8px,#ede73b 0 140.1px,#ede63b 0 141.3px,#ede73b 0 143.7px,#ede93b 0 146.0px,#ede43a 0 147.2px,#edeb3c 0 148.4px,#ede33a 0 149.5px,#edea3b 0 150.7px,#ede63b 0 151.9px,#edea3c 0 153.1px,#edec3c 0 154.3px,#ede23a 0 155.4px,#edeb3c 0 156.6px,#edea3b 0 157.8px,#ede73b 0 159.0px,#edea3c 0 160.1px,#ede83b 0 161.3px,#edea3b 0 162.5px,#ede63b 0 163.7px,#edec3c 0 167.2px,#ede83b 0 168.4px,#eef03d 0 169.6px,#eef13d 0 170.7px,#edea3b 0 171.9px,#ede93b 0 174.3px,#eded3c 0 175.4px,#edee3c 0 176.6px,#ede83b 0 177.8px,#ede43a 0 179.0px,#eded3c 0 180.2px,#edeb3c 0 181.3px,#edec3c 0 182.5px,#eded3c 0 183.7px,#ede83b 0 184.9px,#edec3c 0 186.0px,#edeb3c 0 187.2px,#eded3c 0 188.4px,#eef03d 0 189.6px,#edec3c 0 190.8px,#ede93b 0 191.9px,#eef03d 0 193.1px,#edef3c 0 194.3px,#edec3c 0 195.5px,#ede63b 0 196.6px,#edea3b 0 197.8px,#eded3c 0 199.0px,#edef3c 0 200.2px,#edeb3c 0 201.4px,#edef3c 0 202.5px,#edeb3c 0 203.7px,#edec3c 0 204.9px,#eeef3d 0 206.1px,#eded3c 0 207.2px,#edee3c 0 208.4px,#eef13d 0 209.6px,#eef23d 0 210.8px,#edec3c 0 211.9px,#eded3c 0 213.1px,#edea3b 0 215.5px,#eeef3d 0 216.7px,#eded3c 0 217.8px,#ede83b 0 219.0px,#eef13d 0 220.2px,#edec3c 0 221.4px,#edee3c 0 222.5px,#eef03d 0 224.9px,#eeef3d 0 226.1px,#ede93b 0 227.3px,#eef13d 0 228.4px,#edee3c 0 229.6px,#edeb3c 0 230.8px,#ede83b 0 232.0px,#eef43e 0 233.1px,#eef13d 0 235.5px)"></div>
<div class="r" style="top:301.63px;height:8.77px;background:linear-gradient(90deg,#eef63e 0 1.2px,#eef53e 0 2.4px,#eef13d 0 3.5px,#eef63e 0 9.4px,#eef33d 0 10.6px,#eef43e 0 11.8px,#eef63e 0 17.7px,#eef33d 0 18.8px,#eef53e 0 20.0px,#eef23d 0 21.2px,#eef43e 0 22.4px,#eef13d 0 23.6px,#edee3c 0 24.7px,#eef33d 0 27.1px,#eef63e 0 29.4px,#eef53e 0 30.6px,#eef63e 0 31.8px,#eef23d 0 33.0px,#eef13d 0 34.1px,#eef33d 0 36.5px,#eef53e 0 37.7px,#eef43e 0 38.9px,#eef63e 0 40.0px,#eef33d 0 41.2px,#edee3c 0 42.4px,#eef43e 0 43.6px,#eef23d 0 44.7px,#eef43e 0 45.9px,#eef63e 0 47.1px,#eef13d 0 48.3px,#eef33d 0 49.5px,#eef53e 0 50.6px,#eef03d 0 51.8px,#eef43e 0 53.0px,#eef53e 0 54.2px,#eef63e 0 56.5px,#eef53e 0 57.7px,#eef43e 0 58.9px,#edee3c 0 60.1px,#edea3b 0 61.2px,#eef03d 0 62.4px,#eef63e 0 63.6px,#eef33d 0 64.8px,#edeb3c 0 65.9px,#eef13d 0 67.1px,#eef43e 0 68.3px,#edec3c 0 69.5px,#eef53e 0 70.7px,#edef3c 0 71.8px,#eef63e 0 73.0px,#eef33d 0 74.2px,#eef63e 0 75.4px,#edee3c 0 76.5px,#eef33d 0 77.7px,#eded3c 0 78.9px,#eef63e 0 80.1px,#eef33d 0 81.2px,#eef53e 0 82.4px,#eef23d 0 83.6px,#edee3c 0 84.8px,#eef03d 0 86.0px,#edee3c 0 88.3px,#eef23d 0 89.5px,#eef53e 0 91.8px,#eef33d 0 93.0px,#eef03d 0 94.2px,#eef33d 0 95.4px,#edef3c 0 96.6px,#eef23d 0 97.7px,#eef43e 0 98.9px,#eef13d 0 100.1px,#eef03d 0 102.4px,#eef33d 0 103.6px,#eef03d 0 104.8px,#edec3c 0 106.0px,#eef03d 0 107.2px,#eded3c 0 108.3px,#eef63e 0 109.5px,#eef13d 0 110.7px,#edec3c 0 111.9px,#eef23d 0 113.0px,#eef33d 0 114.2px,#eef23d 0 115.4px,#eeef3d 0 116.6px,#eef13d 0 118.9px,#eef43d 0 120.1px,#eef13d 0 121.3px,#eef63e 0 122.5px,#eeef3d 0 123.6px,#eef53e 0 124.8px,#eef03d 0 126.0px,#edea3b 0 127.2px,#edec3c 0 128.3px,#edea3b 0 130.7px,#eef43e 0 131.9px,#eded3c 0 133.1px,#eef23d 0 134.2px,#eded3c 0 135.4px,#eeef3d 0 136.6px,#edec3c 0 137.8px,#eef23d 0 138.9px,#edef3c 0 140.1px,#edee3c 0 141.3px,#edef3c 0 142.5px,#eef63e 0 143.7px,#eef23d 0 146.0px,#edec3c 0 148.4px,#edef3c 0 149.5px,#edea3b 0 150.7px,#eef03d 0 151.9px,#eef23d 0 153.1px,#e49529 0 154.3px,#ede53a 0 155.4px,#edee3c 0 156.6px,#eef03d 0 157.8px,#eef53e 0 159.0px,#eef13d 0 160.1px,#eef23d 0 161.3px,#eeef3d 0 162.5px,#eef13d 0 164.8px,#ecdf39 0 166.0px,#e59a2a 0 167.2px,#edeb3c 0 168.4px,#eabd32 0 169.6px,#eac433 0 170.7px,#edec3c 0 171.9px,#eef03d 0 173.1px,#edec3c 0 174.3px,#eef53e 0 175.4px,#ece139 0 176.6px,#eded3c 0 177.8px,#eabc31 0 179.0px,#ece039 0 180.2px,#eef23d 0 181.3px,#ede23a 0 182.5px,#eef63e 0 183.7px,#e39228 0 184.9px,#e9b630 0 186.0px,#ece139 0 187.2px,#eded3c 0 188.4px,#eef53e 0 189.6px,#ebd236 0 190.8px,#eef23d 0 191.9px,#eef63e 0 193.1px,#b92d2b 0 194.3px,#eef63e 0 195.5px,#edee3c 0 196.6px,#eef63e 0 197.8px,#ebcb35 0 199.0px,#eef63e 0 200.2px,#edec3c 0 201.4px,#e7a72d 0 202.5px,#eef63e 0 203.7px,#e9b931 0 204.9px,#ecdb38 0 206.1px,#e6a32c 0 207.2px,#ecdf39 0 208.4px,#eef63e 0 210.8px,#e9ba31 0 211.9px,#eef63e 0 213.1px,#b22946 0 214.3px,#eef13d 0 215.5px,#da6821 0 216.7px,#b62a2f 0 217.8px,#7013fc 0 219.0px,#d86120 0 220.2px,#d4561f 0 221.4px,#ece039 0 222.5px,#eef63e 0 223.7px,#ebc934 0 224.9px,#d86120 0 226.1px,#6912fb 0 227.3px,#6012f0 0 228.4px,#d55a1f 0 229.6px,#eac533 0 230.8px,#e7aa2e 0 232.0px,#d4561f 0 233.1px,#ce4a1d 0 234.3px,#7013fc 0 235.5px)"></div>
<div class="r" style="top:310.10px;height:8.77px;background:linear-gradient(90deg,#0c000e 0 3.5px,#100117 0 4.7px,#100118 0 5.9px,#0c000e 0 7.1px,#110119 0 8.2px,#0e0012 0 9.4px,#0c000e 0 10.6px,#0f0014 0 11.8px,#100118 0 13.0px,#0f0014 0 15.3px,#0d0011 0 16.5px,#0c000e 0 17.7px,#0f0014 0 18.8px,#0c000e 0 20.0px,#110119 0 21.2px,#0e0012 0 22.4px,#13011d 0 23.6px,#0c000f 0 24.7px,#14011e 0 25.9px,#0e0013 0 28.3px,#110119 0 29.4px,#13011d 0 30.6px,#110118 0 31.8px,#100116 0 33.0px,#160223 0 34.1px,#12011b 0 35.3px,#0e0013 0 36.5px,#110118 0 37.7px,#150222 0 38.9px,#12011b 0 40.0px,#13011e 0 41.2px,#160225 0 42.4px,#100117 0 43.6px,#13011c 0 44.7px,#100117 0 45.9px,#12011b 0 47.1px,#13011e 0 48.3px,#0f0014 0 49.5px,#13011c 0 51.8px,#150121 0 53.0px,#110119 0 54.2px,#100116 0 55.3px,#14011f 0 56.5px,#100117 0 57.7px,#13011e 0 58.9px,#140120 0 60.1px,#110119 0 61.2px,#13011d 0 62.4px,#110118 0 63.6px,#0d000f 0 64.8px,#100117 0 65.9px,#0f0014 0 67.1px,#14011f 0 68.3px,#110119 0 69.5px,#14011e 0 70.7px,#14011f 0 71.8px,#170225 0 73.0px,#13011e 0 75.4px,#160223 0 76.5px,#190229 0 77.7px,#140120 0 78.9px,#160223 0 80.1px,#140120 0 81.2px,#13011e 0 82.4px,#110119 0 83.6px,#150121 0 87.1px,#1b0330 0 88.3px,#150121 0 89.5px,#160225 0 90.7px,#150121 0 91.8px,#19022a 0 93.0px,#150222 0 94.2px,#1c0331 0 95.4px,#150223 0 96.6px,#180228 0 97.7px,#19022b 0 98.9px,#160223 0 100.1px,#19022a 0 101.3px,#170225 0 102.4px,#150121 0 103.6px,#150222 0 104.8px,#180227 0 106.0px,#1d0334 0 107.2px,#160224 0 108.3px,#19022a 0 109.5px,#150222 0 110.7px,#180228 0 111.9px,#140120 0 113.0px,#160223 0 114.2px,#180227 0 115.4px,#160224 0 116.6px,#170226 0 117.8px,#1c0331 0 118.9px,#180228 0 120.1px,#170225 0 121.3px,#150222 0 122.5px,#170226 0 123.6px,#1d0334 0 124.8px,#19022a 0 127.2px,#1c0332 0 128.3px,#1d0333 0 129.5px,#1d0335 0 130.7px,#19022a 0 131.9px,#170226 0 133.1px,#160223 0 134.2px,#180228 0 135.4px,#19022b 0 136.6px,#1e0335 0 137.8px,#1c0332 0 138.9px,#19022b 0 140.1px,#1f0438 0 141.3px,#170227 0 142.5px,#180228 0 144.8px,#180229 0 146.0px,#1b0330 0 147.2px,#1a022c 0 148.4px,#19022b 0 149.5px,#21043d 0 150.7px,#2f0863 0 151.9px,#190229 0 153.1px,#1f0438 0 154.3px,#1e0437 0 155.4px,#1f0439 0 156.6px,#21043c 0 157.8px,#21043d 0 159.0px,#20043c 0 160.1px,#1f0437 0 161.3px,#160223 0 162.5px,#150222 0 163.7px,#1e0436 0 164.8px,#1d0335 0 166.0px,#230542 0 167.2px,#290650 0 168.4px,#1e0335 0 169.6px,#290653 0 170.7px,#170227 0 171.9px,#19022a 0 173.1px,#280650 0 174.3px,#14011e 0 175.4px,#1b032e 0 176.6px,#260549 0 177.8px,#1e0336 0 179.0px,#22043e 0 180.2px,#1e0437 0 181.3px,#160224 0 182.5px,#1e0335 0 183.7px,#290652 0 186.0px,#290651 0 187.2px,#2c0759 0 188.4px,#0f0115 0 189.6px,#1f0439 0 190.8px,#13011c 0 191.9px,#2b0756 0 193.1px,#14011e 0 194.3px,#240544 0 195.5px,#1f0439 0 196.6px,#230543 0 197.8px,#290651 0 199.0px,#310867 0 200.2px,#32096a 0 201.4px,#2f0862 0 202.5px,#290653 0 203.7px,#250547 0 204.9px,#27064b 0 206.1px,#440d9e 0 207.2px,#21043e 0 208.4px,#1c0331 0 209.6px,#32096a 0 210.8px,#32096b 0 211.9px,#0c000e 0 213.1px,#240544 0 214.3px,#13011e 0 215.5px,#280650 0 216.7px,#370a79 0 217.8px,#1c0331 0 219.0px,#33096d 0 221.4px,#2e0860 0 222.5px,#410d94 0 223.7px,#2c075b 0 224.9px,#2f0862 0 226.1px,#0c000f 0 227.3px,#0e0012 0 228.4px,#3d0c89 0 229.6px,#2c0759 0 230.8px,#1d0334 0 232.0px,#32096a 0 233.1px,#2f0863 0 234.3px,#22043e 0 235.5px)"></div>
<div class="r" style="top:318.57px;height:8.77px;background:linear-gradient(90deg,#170225 0 1.2px,#21043c 0 2.4px,#1b032e 0 3.5px,#190229 0 4.7px,#22043e 0 5.9px,#19022a 0 7.1px,#180227 0 8.2px,#1d0333 0 9.4px,#1c0331 0 10.6px,#20043b 0 11.8px,#160224 0 13.0px,#1c0331 0 14.1px,#160223 0 15.3px,#1c0332 0 16.5px,#180228 0 17.7px,#19022a 0 18.8px,#180228 0 20.0px,#1d0335 0 21.2px,#20043b 0 22.4px,#1a032d 0 23.6px,#19022b 0 24.7px,#190229 0 25.9px,#1c0332 0 27.1px,#170226 0 28.3px,#27064b 0 29.4px,#19022b 0 30.6px,#20043c 0 31.8px,#1b032e 0 33.0px,#160224 0 34.1px,#160223 0 35.3px,#190229 0 36.5px,#180227 0 37.7px,#19022b 0 38.9px,#170225 0 40.0px,#220540 0 41.2px,#22043e 0 42.4px,#150121 0 43.6px,#1c0330 0 44.7px,#1e0436 0 45.9px,#190229 0 47.1px,#19022a 0 48.3px,#1e0335 0 49.5px,#1c0330 0 50.6px,#160224 0 51.8px,#1e0436 0 53.0px,#180228 0 54.2px,#20043b 0 55.3px,#170225 0 56.5px,#13011e 0 57.7px,#1a022c 0 58.9px,#1e0336 0 60.1px,#1b0330 0 61.2px,#1a022c 0 62.4px,#170225 0 63.6px,#1d0333 0 64.8px,#140120 0 65.9px,#1c0331 0 67.1px,#160223 0 68.3px,#170226 0 69.5px,#160223 0 70.7px,#160225 0 71.8px,#1e0437 0 73.0px,#160223 0 74.2px,#1a022c 0 75.4px,#170225 0 76.5px,#1d0333 0 77.7px,#150222 0 78.9px,#19022a 0 80.1px,#1c0331 0 81.2px,#21043d 0 82.4px,#160223 0 83.6px,#160224 0 84.8px,#180229 0 86.0px,#1e0336 0 87.1px,#160223 0 88.3px,#1b0330 0 89.5px,#170225 0 90.7px,#160223 0 91.8px,#150121 0 93.0px,#19022b 0 94.2px,#1d0335 0 95.4px,#19022b 0 96.6px,#13011d 0 97.7px,#170225 0 98.9px,#1a032d 0 100.1px,#21043c 0 101.3px,#1b0330 0 102.4px,#1c0331 0 103.6px,#160224 0 104.8px,#150222 0 106.0px,#1e0437 0 107.2px,#20043a 0 108.3px,#1a032d 0 109.5px,#1c0330 0 110.7px,#14011f 0 111.9px,#20043a 0 113.0px,#13011d 0 114.2px,#12011a 0 115.4px,#0c000e 0 116.6px,#360a76 0 117.8px,#170226 0 118.9px,#19022a 0 120.1px,#11011a 0 121.3px,#150121 0 122.5px,#170226 0 123.6px,#1a032d 0 124.8px,#180229 0 126.0px,#240545 0 127.2px,#100116 0 128.3px,#1b0330 0 129.5px,#290652 0 130.7px,#22043f 0 131.9px,#13011e 0 133.1px,#19022b 0 134.2px,#2d075c 0 135.4px,#160225 0 136.6px,#150223 0 137.8px,#0f0115 0 138.9px,#170226 0 140.1px,#1f0439 0 141.3px,#150222 0 142.5px,#140120 0 143.7px,#1d0335 0 144.8px,#0f0115 0 146.0px,#20043b 0 147.2px,#100117 0 148.4px,#21043d 0 149.5px,#170227 0 150.7px,#22043f 0 151.9px,#2c075a 0 153.1px,#13011d 0 154.3px,#11011a 0 155.4px,#1e0437 0 156.6px,#150222 0 157.8px,#1d0334 0 160.1px,#170226 0 161.3px,#0f0014 0 162.5px,#160224 0 163.7px,#14011f 0 164.8px,#11011a 0 166.0px,#160223 0 167.2px,#0d0011 0 168.4px,#0c000e 0 169.6px,#19022a 0 170.7px,#230542 0 171.9px,#1f0438 0 173.1px,#0c000e 0 174.3px,#1a022c 0 175.4px,#160225 0 176.6px,#13011d 0 177.8px,#160224 0 179.0px,#0c000e 0 180.2px,#12011b 0 181.3px,#110119 0 182.5px,#100117 0 183.7px,#19022a 0 184.9px,#12011b 0 186.0px,#12011a 0 187.2px,#0c000e 0 189.6px,#1a032d 0 190.8px,#170226 0 191.9px,#1e0335 0 193.1px,#0d0011 0 194.3px,#170226 0 195.5px,#100118 0 196.6px,#160223 0 197.8px,#2c075b 0 199.0px,#19022b 0 200.2px,#150121 0 201.4px,#0c000e 0 202.5px,#1b032e 0 203.7px,#13011c 0 204.9px,#1a032d 0 206.1px,#0c000e 0 207.2px,#160224 0 208.4px,#0c000e 0 210.8px,#20043b 0 211.9px,#0f0115 0 213.1px,#0c000e 0 214.3px,#1f0437 0 215.5px,#280650 0 216.7px,#110119 0 217.8px,#2c075a 0 219.0px,#0c000e 0 220.2px,#20043c 0 221.4px,#260649 0 222.5px,#300866 0 223.7px,#0c000e 0 224.9px,#390b7d 0 226.1px,#27064d 0 227.3px,#470ea7 0 228.4px,#19022a 0 229.6px,#13011e 0 230.8px,#160223 0 232.0px,#13011d 0 233.1px,#180228 0 234.3px,#0e0012 0 235.5px)"></div>
<div class="r" style="top:327.03px;height:8.77px;background:linear-gradient(90deg,#26064a 0 1.2px,#290653 0 2.4px,#2e0860 0 3.5px,#2d075d 0 4.7px,#250548 0 5.9px,#2d085e 0 7.1px,#2e0860 0 8.2px,#2c075b 0 9.4px,#2e085f 0 10.6px,#2d085e 0 11.8px,#26064a 0 13.0px,#2b0757 0 14.1px,#2b0756 0 15.3px,#28064e 0 16.5px,#2b0758 0 17.7px,#290651 0 18.8px,#2b0758 0 20.0px,#290651 0 21.2px,#2f0861 0 22.4px,#32096b 0 23.6px,#290653 0 24.7px,#2b0758 0 27.1px,#2d075c 0 28.3px,#2b0756 0 29.4px,#240544 0 30.6px,#2c075b 0 31.8px,#2b0756 0 33.0px,#28064e 0 34.1px,#2a0756 0 35.3px,#290653 0 36.5px,#2c0759 0 37.7px,#2a0754 0 38.9px,#2a0755 0 40.0px,#2b0758 0 41.2px,#2c0759 0 42.4px,#2b0757 0 43.6px,#2e0861 0 44.7px,#2b0759 0 45.9px,#280650 0 47.1px,#300865 0 48.3px,#2b0757 0 49.5px,#300864 0 50.6px,#27064d 0 51.8px,#2c075b 0 53.0px,#300865 0 54.2px,#2e0861 0 55.3px,#2b0757 0 56.5px,#290651 0 58.9px,#2a0754 0 60.1px,#27064d 0 61.2px,#28064f 0 62.4px,#27064d 0 64.8px,#2b0757 0 65.9px,#250546 0 67.1px,#2b0757 0 68.3px,#2c075b 0 69.5px,#27064d 0 71.8px,#2a0755 0 74.2px,#2d075d 0 75.4px,#240544 0 76.5px,#2a0754 0 77.7px,#2e0861 0 78.9px,#2a0755 0 80.1px,#2f0864 0 81.2px,#310867 0 82.4px,#280650 0 83.6px,#2f0861 0 84.8px,#2b0759 0 86.0px,#2a0754 0 87.1px,#290652 0 89.5px,#27064c 0 90.7px,#290652 0 91.8px,#2d075c 0 93.0px,#2e085f 0 94.2px,#280650 0 95.4px,#2b0758 0 97.7px,#22043f 0 98.9px,#2c075a 0 100.1px,#260549 0 101.3px,#260649 0 102.4px,#2c075a 0 103.6px,#2f0862 0 104.8px,#260649 0 106.0px,#27064b 0 107.2px,#26064b 0 108.3px,#28064e 0 109.5px,#28064f 0 110.7px,#27064b 0 111.9px,#240544 0 113.0px,#2f0862 0 114.2px,#28064e 0 115.4px,#27064c 0 116.6px,#2c075a 0 117.8px,#28064f 0 118.9px,#2c075b 0 120.1px,#2a0755 0 121.3px,#2d075d 0 122.5px,#27064c 0 123.6px,#290653 0 124.8px,#250546 0 126.0px,#250547 0 127.2px,#290651 0 128.3px,#250546 0 129.5px,#2e085f 0 130.7px,#27064d 0 131.9px,#230543 0 133.1px,#2b0757 0 134.2px,#2a0755 0 135.4px,#2a0653 0 136.6px,#27064c 0 137.8px,#1e0436 0 138.9px,#240543 0 140.1px,#430d9b 0 141.3px,#2a0755 0 143.7px,#290653 0 144.8px,#27064c 0 146.0px,#2a0653 0 147.2px,#28064e 0 148.4px,#2c075b 0 149.5px,#250546 0 150.7px,#19022a 0 151.9px,#230542 0 153.1px,#26064a 0 154.3px,#150222 0 155.4px,#300864 0 156.6px,#2a0755 0 157.8px,#420d97 0 159.0px,#1f0439 0 160.1px,#2b0756 0 161.3px,#33096e 0 162.5px,#460ea3 0 163.7px,#2f0863 0 164.8px,#2b0757 0 166.0px,#390b7f 0 167.2px,#2d075d 0 168.4px,#3c0b86 0 169.6px,#2d075d 0 170.7px,#180229 0 171.9px,#280650 0 173.1px,#1f0438 0 174.3px,#430d9a 0 175.4px,#27064d 0 176.6px,#4a0eb1 0 177.8px,#180229 0 179.0px,#19022a 0 180.2px,#490eac 0 181.3px,#340970 0 182.5px,#250547 0 183.7px,#260549 0 184.9px,#470ea7 0 186.0px,#300865 0 187.2px,#27064c 0 188.4px,#160224 0 189.6px,#26064a 0 190.8px,#0e0013 0 191.9px,#390b7d 0 193.1px,#290652 0 194.3px,#14011f 0 195.5px,#430d9c 0 196.6px,#240544 0 197.8px,#19022a 0 199.0px,#33096e 0 200.2px,#3f0c8e 0 201.4px,#370a77 0 202.5px,#1c0332 0 203.7px,#1b032e 0 204.9px,#480eaa 0 206.1px,#2e085e 0 207.2px,#100116 0 208.4px,#2f0862 0 209.6px,#2b0758 0 210.8px,#150121 0 211.9px,#140120 0 213.1px,#0c000e 0 215.5px,#0f0014 0 216.7px,#0e0012 0 217.8px,#390b7e 0 219.0px,#33096e 0 220.2px,#410d94 0 221.4px,#250545 0 222.5px,#450da1 0 223.7px,#380a7c 0 224.9px,#2f0864 0 226.1px,#0d0010 0 227.3px,#470ea6 0 228.4px,#1f0438 0 229.6px,#240543 0 230.8px,#160224 0 232.0px,#450da0 0 233.1px,#170226 0 234.3px,#0c000e 0 235.5px)"></div>
<div class="r" style="top:335.50px;height:8.77px;background:linear-gradient(90deg,#240545 0 1.2px,#250548 0 2.4px,#280650 0 3.5px,#290651 0 4.7px,#240545 0 5.9px,#2b0758 0 7.1px,#2c075b 0 8.2px,#2b0756 0 9.4px,#2a0755 0 10.6px,#260649 0 11.8px,#2a0755 0 13.0px,#230541 0 14.1px,#22043f 0 15.3px,#260649 0 16.5px,#26064a 0 17.7px,#220540 0 18.8px,#2b0756 0 20.0px,#20043a 0 21.2px,#1e0335 0 22.4px,#230543 0 23.6px,#2a0754 0 24.7px,#27064c 0 25.9px,#260548 0 27.1px,#250546 0 28.3px,#260649 0 29.4px,#250547 0 30.6px,#240545 0 31.8px,#230543 0 33.0px,#1e0336 0 34.1px,#27064c 0 35.3px,#22043f 0 36.5px,#250546 0 38.9px,#26064b 0 40.0px,#20043b 0 41.2px,#260548 0 43.6px,#220540 0 45.9px,#230542 0 47.1px,#1f0437 0 48.3px,#21043c 0 49.5px,#1e0336 0 50.6px,#260649 0 51.8px,#1f0438 0 53.0px,#1e0336 0 54.2px,#220540 0 55.3px,#230543 0 56.5px,#20043b 0 57.7px,#1e0335 0 58.9px,#230541 0 60.1px,#240544 0 61.2px,#1b032f 0 62.4px,#240544 0 63.6px,#1a032d 0 64.8px,#230541 0 65.9px,#1f0438 0 67.1px,#1f0439 0 68.3px,#230541 0 69.5px,#250547 0 70.7px,#27064c 0 71.8px,#250546 0 73.0px,#220540 0 74.2px,#1b032e 0 75.4px,#1e0336 0 76.5px,#20043a 0 77.7px,#1d0334 0 78.9px,#21043d 0 80.1px,#1e0436 0 81.2px,#250547 0 82.4px,#1e0336 0 83.6px,#1a022d 0 84.8px,#1d0333 0 86.0px,#1c0331 0 87.1px,#21043c 0 88.3px,#230542 0 89.5px,#22043e 0 90.7px,#21043e 0 91.8px,#1b032f 0 93.0px,#1a022c 0 94.2px,#1b032e 0 95.4px,#1d0335 0 96.6px,#1c0331 0 97.7px,#1e0436 0 98.9px,#21043c 0 100.1px,#1d0334 0 101.3px,#230541 0 102.4px,#1a022c 0 103.6px,#1f0438 0 104.8px,#1c0332 0 106.0px,#20043b 0 107.2px,#1c0331 0 108.3px,#1a032d 0 109.5px,#1b0330 0 110.7px,#19022a 0 111.9px,#180228 0 113.0px,#1e0437 0 114.2px,#19022b 0 115.4px,#20043a 0 116.6px,#240545 0 117.8px,#1a022c 0 118.9px,#1f0438 0 120.1px,#1b0330 0 121.3px,#150222 0 122.5px,#1c0330 0 123.6px,#1f0438 0 124.8px,#0f0014 0 126.0px,#180228 0 127.2px,#19022b 0 128.3px,#14011f 0 129.5px,#1c0331 0 130.7px,#180227 0 131.9px,#1c0332 0 133.1px,#160224 0 135.4px,#170226 0 136.6px,#20043c 0 137.8px,#160224 0 138.9px,#19022a 0 140.1px,#20043a 0 141.3px,#1c0332 0 142.5px,#2c0759 0 143.7px,#12011b 0 144.8px,#150121 0 146.0px,#180227 0 147.2px,#1a022c 0 148.4px,#150121 0 149.5px,#1a032d 0 150.7px,#1c0332 0 151.9px,#1d0333 0 153.1px,#0c000e 0 154.3px,#1d0333 0 155.4px,#230542 0 156.6px,#110118 0 157.8px,#360a77 0 159.0px,#290651 0 160.1px,#100117 0 161.3px,#28064f 0 162.5px,#32096b 0 163.7px,#0e0012 0 166.0px,#110119 0 167.2px,#12011b 0 168.4px,#33096d 0 169.6px,#0d0010 0 170.7px,#310969 0 171.9px,#0c000e 0 173.1px,#1b032f 0 174.3px,#11011a 0 175.4px,#1b032f 0 176.6px,#27064c 0 177.8px,#0e0012 0 179.0px,#160223 0 180.2px,#0e0013 0 181.3px,#240543 0 182.5px,#21043d 0 183.7px,#110118 0 184.9px,#12011c 0 186.0px,#0f0014 0 187.2px,#19022b 0 188.4px,#150121 0 189.6px,#21043e 0 190.8px,#0c000e 0 191.9px,#150120 0 193.1px,#0c000e 0 194.3px,#12011c 0 195.5px,#170227 0 196.6px,#2b0757 0 197.8px,#160224 0 199.0px,#0c000e 0 200.2px,#110119 0 201.4px,#1a022c 0 202.5px,#220540 0 203.7px,#13011c 0 204.9px,#150121 0 206.1px,#0c000e 0 207.2px,#14011f 0 208.4px,#170227 0 209.6px,#180229 0 210.8px,#150121 0 211.9px,#1f0439 0 213.1px,#0c000e 0 214.3px,#2a0754 0 215.5px,#170225 0 216.7px,#290651 0 217.8px,#250547 0 219.0px,#240545 0 220.2px,#160224 0 221.4px,#13011d 0 222.5px,#0c000e 0 223.7px,#1b032e 0 224.9px,#150222 0 226.1px,#3a0b82 0 227.3px,#32096b 0 228.4px,#0d0011 0 229.6px,#0c000e 0 230.8px,#290651 0 232.0px,#0c000e 0 233.1px,#1d0334 0 234.3px,#11011a 0 235.5px)"></div>
<div class="r" style="top:343.97px;height:8.77px;background:linear-gradient(90deg,#0c000e 0 1.2px,#12011b 0 2.4px,#0c000e 0 4.7px,#11011a 0 5.9px,#0e0013 0 8.2px,#0c000f 0 9.4px,#0c000e 0 10.6px,#100117 0 11.8px,#0e0013 0 13.0px,#0f0115 0 14.1px,#110118 0 15.3px,#0c000e 0 16.5px,#0c000f 0 17.7px,#0d0011 0 18.8px,#0f0116 0 20.0px,#110118 0 21.2px,#0d000f 0 22.4px,#0f0014 0 25.9px,#13011d 0 27.1px,#0e0011 0 28.3px,#100116 0 29.4px,#0c000e 0 30.6px,#0f0115 0 31.8px,#100116 0 33.0px,#11011a 0 34.1px,#0e0013 0 36.5px,#0d0010 0 37.7px,#0f0014 0 38.9px,#160223 0 40.0px,#0c000e 0 42.4px,#100117 0 43.6px,#0e0012 0 44.7px,#13011e 0 45.9px,#0d0010 0 47.1px,#140120 0 48.3px,#0f0115 0 49.5px,#0d000f 0 50.6px,#0c000e 0 51.8px,#0e0013 0 53.0px,#0f0115 0 54.2px,#12011a 0 55.3px,#0e0012 0 56.5px,#180228 0 57.7px,#13011d 0 58.9px,#110118 0 60.1px,#100116 0 61.2px,#180227 0 62.4px,#0f0115 0 63.6px,#13011d 0 64.8px,#150121 0 65.9px,#0f0115 0 67.1px,#13011d 0 68.3px,#100117 0 69.5px,#150121 0 70.7px,#150222 0 71.8px,#13011d 0 73.0px,#12011b 0 74.2px,#0f0014 0 75.4px,#180227 0 76.5px,#160223 0 77.7px,#14011f 0 78.9px,#160223 0 80.1px,#12011b 0 81.2px,#0f0116 0 82.4px,#140120 0 83.6px,#100117 0 84.8px,#110119 0 86.0px,#140120 0 87.1px,#0f0014 0 88.3px,#13011c 0 89.5px,#12011b 0 90.7px,#100116 0 93.0px,#12011c 0 94.2px,#12011b 0 95.4px,#13011e 0 96.6px,#0f0115 0 97.7px,#13011e 0 98.9px,#100117 0 100.1px,#110119 0 101.3px,#160223 0 102.4px,#12011a 0 103.6px,#12011b 0 104.8px,#11011a 0 106.0px,#13011e 0 107.2px,#150223 0 108.3px,#13011d 0 109.5px,#150222 0 110.7px,#110118 0 111.9px,#150121 0 113.0px,#14011e 0 114.2px,#14011f 0 115.4px,#12011a 0 116.6px,#12011c 0 117.8px,#150121 0 118.9px,#110119 0 120.1px,#160224 0 121.3px,#13011e 0 122.5px,#150222 0 123.6px,#12011a 0 124.8px,#110118 0 126.0px,#160224 0 128.3px,#150121 0 129.5px,#160225 0 130.7px,#150121 0 131.9px,#170225 0 133.1px,#150222 0 134.2px,#13011d 0 135.4px,#180228 0 136.6px,#13011d 0 137.8px,#1c0332 0 138.9px,#150222 0 140.1px,#13011e 0 141.3px,#150222 0 142.5px,#160223 0 143.7px,#160224 0 144.8px,#170226 0 146.0px,#150121 0 147.2px,#110119 0 148.4px,#140120 0 149.5px,#170226 0 150.7px,#19022b 0 151.9px,#12011a 0 153.1px,#170225 0 154.3px,#1a022c 0 155.4px,#13011e 0 156.6px,#1c0332 0 157.8px,#150121 0 159.0px,#170225 0 160.1px,#160223 0 161.3px,#1d0334 0 162.5px,#1a022d 0 163.7px,#180227 0 164.8px,#160224 0 166.0px,#13011e 0 167.2px,#170226 0 168.4px,#150223 0 169.6px,#170226 0 170.7px,#14011f 0 171.9px,#1b032e 0 173.1px,#1e0335 0 174.3px,#1a032d 0 175.4px,#470ea6 0 176.6px,#150222 0 177.8px,#3f0c8e 0 179.0px,#20043c 0 180.2px,#1b032f 0 181.3px,#170226 0 182.5px,#180228 0 183.7px,#170225 0 184.9px,#21043e 0 186.0px,#250548 0 187.2px,#1a022c 0 188.4px,#170226 0 189.6px,#0d000f 0 190.8px,#2d085e 0 191.9px,#13011e 0 193.1px,#21043c 0 194.3px,#3a0b81 0 195.5px,#360a75 0 196.6px,#27064c 0 197.8px,#2c075b 0 199.0px,#3d0c8a 0 200.2px,#0c000e 0 201.4px,#410d95 0 202.5px,#2a0754 0 203.7px,#2b0757 0 204.9px,#380a7a 0 206.1px,#300864 0 207.2px,#2c075b 0 208.4px,#2b0757 0 209.6px,#170225 0 210.8px,#170226 0 211.9px,#390b7e 0 213.1px,#4b0fb2 0 214.3px,#150222 0 215.5px,#100117 0 216.7px,#290651 0 217.8px,#160224 0 219.0px,#0f0115 0 220.2px,#3e0c8c 0 221.4px,#1d0334 0 222.5px,#250547 0 223.7px,#460ea5 0 224.9px,#180229 0 226.1px,#27064d 0 227.3px,#32096b 0 228.4px,#420d99 0 229.6px,#2e0860 0 230.8px,#0c000e 0 232.0px,#3e0c8d 0 233.1px,#350a74 0 234.3px,#3b0b84 0 235.5px)"></div>
<div class="r" style="top:352.43px;height:8.77px;background:linear-gradient(90deg,#7513fd 0 1.2px,#7013fc 0 2.4px,#6f13fc 0 3.5px,#7913fe 0 4.7px,#7113fc 0 5.9px,#7413fd 0 7.1px,#7013fc 0 9.4px,#7613fd 0 10.6px,#7313fd 0 11.8px,#7213fd 0 13.0px,#7313fd 0 14.1px,#7413fd 0 15.3px,#7513fd 0 16.5px,#7313fd 0 17.7px,#7413fd 0 18.8px,#7313fd 0 20.0px,#7213fc 0 21.2px,#7513fd 0 22.4px,#6a12fb 0 23.6px,#7413fd 0 24.7px,#7113fc 0 25.9px,#7213fc 0 27.1px,#7013fc 0 28.3px,#6f13fc 0 29.4px,#7313fd 0 30.6px,#6d13fc 0 31.8px,#6e13fc 0 34.1px,#7613fd 0 35.3px,#7113fc 0 37.7px,#6c13fb 0 38.9px,#7113fc 0 40.0px,#7313fd 0 41.2px,#6d13fc 0 42.4px,#7113fc 0 44.7px,#7213fd 0 45.9px,#7313fd 0 47.1px,#7713fd 0 48.3px,#7013fc 0 50.6px,#6e13fc 0 51.8px,#7313fd 0 53.0px,#7013fc 0 54.2px,#7113fc 0 55.3px,#7213fd 0 56.5px,#6f13fc 0 58.9px,#7013fc 0 62.4px,#6f13fc 0 64.8px,#7313fd 0 65.9px,#6d13fc 0 67.1px,#7013fc 0 68.3px,#6f13fc 0 69.5px,#7313fd 0 70.7px,#6d13fc 0 71.8px,#6e13fc 0 73.0px,#6d13fc 0 74.2px,#7213fd 0 75.4px,#7213fc 0 76.5px,#7113fc 0 77.7px,#7013fc 0 78.9px,#7513fd 0 80.1px,#5e11e9 0 81.2px,#6912fb 0 82.4px,#6a12fb 0 83.6px,#6c13fb 0 84.8px,#6c13fc 0 86.0px,#6812fb 0 87.1px,#6c13fb 0 88.3px,#6612fa 0 89.5px,#6c13fb 0 90.7px,#6d13fc 0 91.8px,#6c13fb 0 93.0px,#260649 0 94.2px,#6812fb 0 95.4px,#7313fd 0 96.6px,#6a12fb 0 97.7px,#6912fb 0 98.9px,#6f13fc 0 100.1px,#6812fb 0 101.3px,#6d13fc 0 102.4px,#6612fa 0 103.6px,#6012f0 0 104.8px,#6812fb 0 106.0px,#7713fd 0 107.2px,#6e13fc 0 108.3px,#7613fd 0 109.5px,#6412fa 0 110.7px,#7013fc 0 111.9px,#6912fb 0 113.0px,#6712fa 0 114.2px,#6b12fb 0 115.4px,#5310cb 0 116.6px,#3f0c8f 0 117.8px,#6112f2 0 120.1px,#6612fa 0 121.3px,#6b12fb 0 122.5px,#7613fd 0 123.6px,#5010c1 0 124.8px,#6712fb 0 126.0px,#7613fd 0 127.2px,#6c13fb 0 128.3px,#6912fb 0 129.5px,#6512fa 0 130.7px,#6612fa 0 131.9px,#6112f1 0 133.1px,#350a72 0 134.2px,#5a11dd 0 135.4px,#5110c5 0 136.6px,#7513fd 0 137.8px,#5c11e4 0 138.9px,#5510d1 0 140.1px,#6712fb 0 141.3px,#6412f9 0 142.5px,#6112f3 0 143.7px,#7b14fe 0 144.8px,#6612fa 0 146.0px,#6812fb 0 147.2px,#6e13fc 0 148.4px,#7613fd 0 149.5px,#6412fa 0 150.7px,#2b0758 0 151.9px,#7213fd 0 153.1px,#6812fb 0 154.3px,#6012ee 0 155.4px,#7013fc 0 156.6px,#5110c4 0 157.8px,#7013fc 0 160.1px,#4f0fbe 0 161.3px,#5911dc 0 162.5px,#6012ef 0 163.7px,#5410cd 0 164.8px,#3f0c8f 0 166.0px,#1f0439 0 167.2px,#5711d6 0 168.4px,#6512fa 0 169.6px,#5210c7 0 170.7px,#5d11e7 0 171.9px,#6112f2 0 173.1px,#5610d2 0 174.3px,#2e0860 0 175.4px,#7013fc 0 176.6px,#5210c8 0 177.8px,#2e0860 0 179.0px,#420d98 0 180.2px,#5711d5 0 181.3px,#360a77 0 182.5px,#6712fb 0 183.7px,#7a14fe 0 184.9px,#5610d4 0 186.0px,#6b12fb 0 187.2px,#6a12fb 0 188.4px,#220540 0 189.6px,#7c14fe 0 190.8px,#6912fb 0 191.9px,#2e085f 0 193.1px,#5b11e1 0 194.3px,#ae2760 0 195.5px,#4f0fbe 0 196.6px,#7013fc 0 197.8px,#5010c1 0 199.0px,#6a12fb 0 200.2px,#460ea5 0 201.4px,#390b7e 0 202.5px,#150222 0 203.7px,#7b14fe 0 206.1px,#b1284e 0 207.2px,#6112f0 0 208.4px,#af275a 0 209.6px,#6712fb 0 210.8px,#7113fc 0 211.9px,#1b0330 0 213.1px,#19022a 0 214.3px,#3a0b82 0 215.5px,#410d95 0 216.7px,#b72b2e 0 217.8px,#6112f1 0 219.0px,#7413fd 0 220.2px,#ac266d 0 221.4px,#12011a 0 222.5px,#26064b 0 223.7px,#5711d5 0 224.9px,#8314ff 0 226.1px,#2e085f 0 227.3px,#240545 0 228.4px,#ad2666 0 229.6px,#7313fd 0 230.8px,#290652 0 232.0px,#5310cb 0 233.1px,#b52a37 0 234.3px,#19022b 0 235.5px)"></div>
<div class="r" style="top:360.90px;height:8.77px;background:linear-gradient(90deg,#6f13fc 0 1.2px,#6512fa 0 2.4px,#6e13fc 0 3.5px,#6712fb 0 4.7px,#6612fa 0 5.9px,#6b13fb 0 7.1px,#6812fb 0 8.2px,#6b12fb 0 9.4px,#6912fb 0 10.6px,#6712fb 0 11.8px,#6d13fc 0 13.0px,#6912fb 0 14.1px,#6712fb 0 16.5px,#6412f9 0 17.7px,#6512fa 0 18.8px,#6b12fb 0 20.0px,#6a12fb 0 21.2px,#6912fb 0 22.4px,#6e13fc 0 23.6px,#6a12fb 0 25.9px,#6c13fb 0 27.1px,#6b12fb 0 28.3px,#6e13fc 0 29.4px,#6812fb 0 30.6px,#6a12fb 0 33.0px,#6912fb 0 34.1px,#6a12fb 0 35.3px,#6d13fc 0 36.5px,#6f13fc 0 37.7px,#6a12fb 0 40.0px,#6b12fb 0 41.2px,#6e13fc 0 42.4px,#6c13fb 0 43.6px,#7013fc 0 45.9px,#6e13fc 0 47.1px,#6812fb 0 48.3px,#6912fb 0 50.6px,#6812fb 0 51.8px,#6d13fc 0 53.0px,#6812fb 0 54.2px,#6c13fb 0 55.3px,#6912fb 0 56.5px,#6712fb 0 57.7px,#6e13fc 0 58.9px,#6512fa 0 60.1px,#6f13fc 0 61.2px,#6512fa 0 62.4px,#6c13fb 0 63.6px,#6b12fb 0 65.9px,#6a12fb 0 67.1px,#6812fb 0 68.3px,#6912fb 0 69.5px,#6f13fc 0 70.7px,#6d13fc 0 71.8px,#7213fc 0 73.0px,#6e13fc 0 74.2px,#6c13fb 0 75.4px,#6b12fb 0 76.5px,#6a12fb 0 77.7px,#6f13fc 0 78.9px,#6912fb 0 81.2px,#6812fb 0 82.4px,#6c13fb 0 83.6px,#7513fd 0 84.8px,#6912fb 0 86.0px,#6412fa 0 87.1px,#6812fb 0 88.3px,#6d13fc 0 89.5px,#6912fb 0 90.7px,#6812fb 0 91.8px,#6c13fb 0 93.0px,#6a12fb 0 94.2px,#6712fb 0 95.4px,#6b13fb 0 96.6px,#6712fa 0 97.7px,#6a12fb 0 98.9px,#7013fc 0 100.1px,#6312f7 0 101.3px,#6f13fc 0 102.4px,#6412f9 0 103.6px,#6b12fb 0 104.8px,#6312f8 0 106.0px,#6912fb 0 107.2px,#6712fb 0 108.3px,#6812fb 0 109.5px,#6712fb 0 110.7px,#6f13fc 0 111.9px,#6d13fc 0 113.0px,#6512fa 0 114.2px,#6412fa 0 115.4px,#6912fb 0 116.6px,#6512fa 0 117.8px,#7013fc 0 118.9px,#6f13fc 0 120.1px,#6c13fb 0 121.3px,#6412f9 0 122.5px,#6612fa 0 123.6px,#6d13fc 0 124.8px,#6712fb 0 126.0px,#6b12fb 0 127.2px,#6912fb 0 128.3px,#6e13fc 0 129.5px,#6812fb 0 131.9px,#6612fa 0 133.1px,#6b12fb 0 134.2px,#6712fb 0 135.4px,#7213fc 0 136.6px,#6412f9 0 137.8px,#6a12fb 0 138.9px,#7213fc 0 140.1px,#4e0fbb 0 141.3px,#6312f8 0 142.5px,#6612fa 0 143.7px,#6b12fb 0 144.8px,#7113fc 0 146.0px,#6c13fb 0 147.2px,#6f13fc 0 148.4px,#6312f7 0 150.7px,#6212f5 0 151.9px,#6c13fb 0 153.1px,#6712fb 0 154.3px,#6512fa 0 155.4px,#7113fc 0 156.6px,#6b13fb 0 157.8px,#7c14fe 0 159.0px,#8615ff 0 160.1px,#7313fd 0 161.3px,#230541 0 162.5px,#6712fb 0 163.7px,#6512fa 0 164.8px,#32096c 0 166.0px,#6512fa 0 167.2px,#6312f8 0 168.4px,#6812fb 0 169.6px,#7013fc 0 170.7px,#6b12fb 0 171.9px,#7913fe 0 173.1px,#6c13fb 0 174.3px,#6212f6 0 175.4px,#5310cb 0 176.6px,#8c16ff 0 177.8px,#2a0755 0 179.0px,#6412f9 0 180.2px,#8615ff 0 181.3px,#7c14fe 0 182.5px,#7313fd 0 183.7px,#7613fd 0 184.9px,#6412fa 0 186.0px,#6c13fb 0 187.2px,#5f11ed 0 188.4px,#5e11ea 0 189.6px,#5a11df 0 190.8px,#8715ff 0 191.9px,#21043c 0 193.1px,#8d16ff 0 194.3px,#9317ff 0 195.5px,#7713fd 0 196.6px,#6512fa 0 197.8px,#6312f8 0 199.0px,#6912fb 0 200.2px,#6612fa 0 201.4px,#9217ff 0 202.5px,#490eac 0 203.7px,#a31eef 0 204.9px,#6812fb 0 206.1px,#9517ff 0 207.2px,#7713fd 0 208.4px,#1f0439 0 209.6px,#6a12fb 0 210.8px,#8114ff 0 211.9px,#8515ff 0 213.1px,#6e13fc 0 214.3px,#4c0fb7 0 215.5px,#6012ee 0 216.7px,#9717ff 0 217.8px,#2f0863 0 219.0px,#7113fc 0 220.2px,#5f11ec 0 221.4px,#2b0758 0 222.5px,#21043d 0 223.7px,#5510d1 0 224.9px,#8315ff 0 226.1px,#490ead 0 227.3px,#7c14fe 0 228.4px,#2e085f 0 229.6px,#4a0eb1 0 230.8px,#6312f6 0 232.0px,#6c13fb 0 233.1px,#9016ff 0 234.3px,#6012f0 0 235.5px)"></div>
<div class="r" style="top:369.37px;height:8.77px;background:linear-gradient(90deg,#9f1bf7 0 1.2px,#9d19fb 0 2.4px,#9f1bf6 0 3.5px,#9e1af8 0 4.7px,#9d1afa 0 5.9px,#9d19fb 0 7.1px,#9b18ff 0 8.2px,#9f1bf7 0 9.4px,#9e1af9 0 10.6px,#9b18fe 0 11.8px,#9c18fe 0 13.0px,#9717ff 0 14.1px,#9d19fb 0 15.3px,#9b18fe 0 16.5px,#9b18ff 0 17.7px,#9918ff 0 20.0px,#9818ff 0 21.2px,#9717ff 0 23.6px,#9617ff 0 24.7px,#9c19fd 0 25.9px,#9c19fc 0 27.1px,#9016ff 0 28.3px,#9617ff 0 29.4px,#9317ff 0 31.8px,#9717ff 0 33.0px,#8a15ff 0 34.1px,#9717ff 0 35.3px,#8e16ff 0 36.5px,#9417ff 0 37.7px,#9217ff 0 38.9px,#9116ff 0 40.0px,#9317ff 0 41.2px,#8f16ff 0 42.4px,#9818ff 0 43.6px,#8c16ff 0 45.9px,#9116ff 0 47.1px,#9117ff 0 48.3px,#9517ff 0 49.5px,#9016ff 0 50.6px,#8c16ff 0 51.8px,#8e16ff 0 53.0px,#8d16ff 0 54.2px,#8e16ff 0 55.3px,#9116ff 0 56.5px,#8e16ff 0 57.7px,#8c16ff 0 58.9px,#9016ff 0 60.1px,#8b16ff 0 61.2px,#8d16ff 0 62.4px,#8e16ff 0 63.6px,#8b16ff 0 64.8px,#9016ff 0 65.9px,#8c16ff 0 67.1px,#9217ff 0 68.3px,#8b16ff 0 69.5px,#8a15ff 0 70.7px,#8715ff 0 71.8px,#8b16ff 0 73.0px,#8d16ff 0 74.2px,#8515ff 0 75.4px,#8415ff 0 76.5px,#8615ff 0 77.7px,#8915ff 0 80.1px,#8615ff 0 81.2px,#8715ff 0 82.4px,#8815ff 0 83.6px,#8915ff 0 84.8px,#8415ff 0 86.0px,#8214ff 0 87.1px,#8615ff 0 88.3px,#8c16ff 0 89.5px,#8515ff 0 91.8px,#8615ff 0 93.0px,#8014ff 0 94.2px,#8815ff 0 95.4px,#8214ff 0 96.6px,#7f14ff 0 97.7px,#8415ff 0 100.1px,#8715ff 0 101.3px,#8515ff 0 102.4px,#8214ff 0 103.6px,#8615ff 0 106.0px,#8915ff 0 107.2px,#8014ff 0 108.3px,#8314ff 0 109.5px,#7f14ff 0 110.7px,#8214ff 0 111.9px,#8615ff 0 113.0px,#8415ff 0 114.2px,#8014ff 0 115.4px,#7813fe 0 116.6px,#7e14ff 0 117.8px,#7f14ff 0 118.9px,#8114ff 0 120.1px,#8415ff 0 121.3px,#8315ff 0 122.5px,#8114ff 0 123.6px,#8314ff 0 124.8px,#7d14fe 0 127.2px,#8415ff 0 128.3px,#8114ff 0 129.5px,#8214ff 0 131.9px,#8114ff 0 133.1px,#7f14ff 0 134.2px,#8214ff 0 135.4px,#7f14ff 0 136.6px,#8214ff 0 138.9px,#7f14ff 0 140.1px,#8515ff 0 141.3px,#7f14ff 0 142.5px,#8415ff 0 143.7px,#7b14fe 0 144.8px,#8214ff 0 146.0px,#7b14fe 0 148.4px,#7a14fe 0 149.5px,#7e14ff 0 150.7px,#7f14ff 0 151.9px,#7d14fe 0 153.1px,#8615ff 0 154.3px,#8114ff 0 155.4px,#7b14fe 0 156.6px,#7e14ff 0 157.8px,#7d14ff 0 159.0px,#7f14ff 0 160.1px,#7e14ff 0 161.3px,#7914fe 0 162.5px,#8415ff 0 163.7px,#8214ff 0 164.8px,#8014ff 0 166.0px,#8214ff 0 167.2px,#7f14ff 0 168.4px,#7b14fe 0 169.6px,#7a14fe 0 170.7px,#8014ff 0 171.9px,#7b14fe 0 173.1px,#7c14fe 0 174.3px,#7a14fe 0 175.4px,#8014ff 0 176.6px,#7c14fe 0 177.8px,#7e14ff 0 179.0px,#7c14fe 0 180.2px,#7914fe 0 181.3px,#7f14ff 0 182.5px,#7d14fe 0 183.7px,#7a14fe 0 184.9px,#8014ff 0 186.0px,#8114ff 0 187.2px,#8314ff 0 188.4px,#7f14ff 0 189.6px,#7e14ff 0 190.8px,#8014ff 0 191.9px,#7a14fe 0 193.1px,#7c14fe 0 194.3px,#7d14fe 0 195.5px,#7713fd 0 196.6px,#7e14ff 0 197.8px,#7f14ff 0 199.0px,#7c14fe 0 200.2px,#8014ff 0 201.4px,#7913fe 0 202.5px,#7f14ff 0 203.7px,#8014ff 0 204.9px,#7a14fe 0 206.1px,#7c14fe 0 208.4px,#7813fe 0 209.6px,#7914fe 0 210.8px,#7d14ff 0 211.9px,#7313fd 0 213.1px,#7b14fe 0 214.3px,#7e14ff 0 215.5px,#8e16ff 0 216.7px,#8114ff 0 217.8px,#7813fe 0 219.0px,#7113fc 0 220.2px,#7413fd 0 221.4px,#7b14fe 0 222.5px,#7d14ff 0 223.7px,#8014ff 0 224.9px,#6d13fc 0 226.1px,#7c14fe 0 227.3px,#6212f5 0 228.4px,#9c19fc 0 229.6px,#8a15ff 0 230.8px,#7013fc 0 232.0px,#7f14ff 0 233.1px,#7e14ff 0 234.3px,#8d16ff 0 235.5px)"></div>
<div class="r" style="top:377.83px;height:8.77px;background:linear-gradient(90deg,#7013fc 0 1.2px,#7713fd 0 2.4px,#7a14fe 0 3.5px,#7413fd 0 4.7px,#6e13fc 0 5.9px,#7113fc 0 7.1px,#7513fd 0 8.2px,#6d13fc 0 9.4px,#7113fc 0 10.6px,#7013fc 0 11.8px,#7213fc 0 13.0px,#7a14fe 0 14.1px,#7413fd 0 15.3px,#7914fe 0 16.5px,#7513fd 0 17.7px,#7413fd 0 21.2px,#7914fe 0 22.4px,#7813fe 0 23.6px,#7713fd 0 24.7px,#7813fe 0 25.9px,#7113fc 0 27.1px,#7313fd 0 28.3px,#7013fc 0 29.4px,#7313fd 0 30.6px,#7913fe 0 31.8px,#7213fd 0 34.1px,#7413fd 0 35.3px,#7113fc 0 36.5px,#7613fd 0 37.7px,#7813fe 0 38.9px,#7a14fe 0 40.0px,#7713fd 0 41.2px,#7813fe 0 42.4px,#7a14fe 0 43.6px,#7513fd 0 45.9px,#7813fe 0 47.1px,#7713fd 0 48.3px,#7613fd 0 49.5px,#7713fd 0 50.6px,#7513fd 0 51.8px,#7413fd 0 53.0px,#7813fe 0 54.2px,#7613fd 0 55.3px,#7513fd 0 56.5px,#7a14fe 0 57.7px,#7813fe 0 58.9px,#7c14fe 0 60.1px,#7613fd 0 61.2px,#7c14fe 0 62.4px,#7f14ff 0 63.6px,#7713fd 0 65.9px,#7613fd 0 68.3px,#7813fe 0 69.5px,#7a14fe 0 70.7px,#7713fd 0 71.8px,#7b14fe 0 73.0px,#7613fd 0 74.2px,#7813fe 0 75.4px,#7c14fe 0 76.5px,#7e14ff 0 77.7px,#7f14ff 0 80.1px,#7e14ff 0 81.2px,#7513fd 0 82.4px,#7813fe 0 84.8px,#7a14fe 0 86.0px,#7c14fe 0 87.1px,#7f14ff 0 88.3px,#7914fe 0 89.5px,#7313fd 0 90.7px,#7813fe 0 91.8px,#7e14ff 0 93.0px,#8014ff 0 94.2px,#7b14fe 0 95.4px,#8314ff 0 96.6px,#8114ff 0 97.7px,#8615ff 0 98.9px,#7a14fe 0 100.1px,#8314ff 0 102.4px,#8515ff 0 103.6px,#8415ff 0 106.0px,#8615ff 0 107.2px,#8314ff 0 108.3px,#8114ff 0 109.5px,#8b16ff 0 110.7px,#8815ff 0 111.9px,#8715ff 0 113.0px,#8f16ff 0 114.2px,#8b16ff 0 115.4px,#8c16ff 0 116.6px,#9016ff 0 117.8px,#8d16ff 0 118.9px,#9016ff 0 120.1px,#8d16ff 0 121.3px,#9417ff 0 122.5px,#9217ff 0 123.6px,#9717ff 0 124.8px,#9517ff 0 126.0px,#9818ff 0 127.2px,#9317ff 0 128.3px,#9417ff 0 129.5px,#9918ff 0 131.9px,#9517ff 0 133.1px,#9818ff 0 134.2px,#9617ff 0 135.4px,#9818ff 0 136.6px,#9417ff 0 137.8px,#a723be 0 138.9px,#9617ff 0 140.1px,#9a18ff 0 141.3px,#9517ff 0 142.5px,#9918ff 0 143.7px,#9818ff 0 144.8px,#9417ff 0 146.0px,#9c19fc 0 147.2px,#a51feb 0 148.4px,#9b18ff 0 149.5px,#9417ff 0 150.7px,#9c18fe 0 151.9px,#9717ff 0 153.1px,#9b18fe 0 154.3px,#9e1afa 0 155.4px,#9d19fc 0 156.6px,#a824a0 0 157.8px,#9c19fd 0 159.0px,#9918ff 0 160.1px,#8e16ff 0 161.3px,#b02853 0 162.5px,#8d16ff 0 163.7px,#9116ff 0 164.8px,#9d19fc 0 166.0px,#9918ff 0 167.2px,#9517ff 0 168.4px,#9e1afa 0 169.6px,#9d1afa 0 170.7px,#8a15ff 0 171.9px,#9d19fb 0 173.1px,#ab2580 0 174.3px,#9818ff 0 175.4px,#9d19fb 0 176.6px,#9f1bf8 0 177.8px,#9b18ff 0 179.0px,#a9258f 0 180.2px,#a01bf5 0 181.3px,#9a18ff 0 182.5px,#8815ff 0 183.7px,#9c19fd 0 184.9px,#9918ff 0 186.0px,#9f1bf8 0 187.2px,#a41feb 0 188.4px,#a621dc 0 189.6px,#9a18ff 0 190.8px,#9e1afa 0 191.9px,#a21df1 0 193.1px,#8415ff 0 194.3px,#8715ff 0 195.5px,#a92593 0 196.6px,#a01cf5 0 197.8px,#a21df0 0 199.0px,#9c18fe 0 200.2px,#a01cf5 0 201.4px,#a8249d 0 202.5px,#9c19fe 0 203.7px,#9e1af8 0 204.9px,#9f1bf6 0 206.1px,#a11df1 0 207.2px,#a01cf5 0 208.4px,#9d19fb 0 209.6px,#a21df1 0 211.9px,#a11cf2 0 213.1px,#aa258b 0 214.3px,#9d19fb 0 215.5px,#9717ff 0 216.7px,#9d19fc 0 217.8px,#9c19fc 0 219.0px,#7413fd 0 220.2px,#9317ff 0 221.4px,#a21df1 0 222.5px,#9c19fd 0 223.7px,#b62a2f 0 224.9px,#a41fec 0 226.1px,#9d19fb 0 227.3px,#9e1af8 0 228.4px,#ae2764 0 229.6px,#8d16ff 0 230.8px,#8615ff 0 232.0px,#9f1bf6 0 233.1px,#a620e1 0 234.3px,#a01bf5 0 235.5px)"></div>
<div class="r" style="top:386.30px;height:8.77px;background:linear-gradient(90deg,#ae275f 0 1.2px,#ae2761 0 2.4px,#ae2764 0 3.5px,#ac2672 0 4.7px,#ad2669 0 5.9px,#ac266c 0 7.1px,#ac2670 0 8.2px,#ad2668 0 9.4px,#ad2669 0 10.6px,#ac2670 0 11.8px,#ad2667 0 13.0px,#ac266e 0 14.1px,#ac2672 0 15.3px,#ad266a 0 16.5px,#ac266c 0 17.7px,#ae2760 0 18.8px,#ac266b 0 20.0px,#ac2670 0 21.2px,#ac2673 0 22.4px,#ab267a 0 23.6px,#aa2582 0 24.7px,#ab2679 0 25.9px,#ab267c 0 27.1px,#ab2678 0 28.3px,#ac2674 0 29.4px,#ab267c 0 30.6px,#ab2677 0 31.8px,#ad266b 0 33.0px,#ab257f 0 34.1px,#aa2581 0 35.3px,#ab2676 0 36.5px,#ab2678 0 37.7px,#ab2675 0 38.9px,#aa2588 0 40.0px,#a9258f 0 41.2px,#ab2679 0 42.4px,#ab267c 0 43.6px,#aa2586 0 44.7px,#a92599 0 45.9px,#ab267a 0 47.1px,#ab257e 0 48.3px,#aa2582 0 49.5px,#a92599 0 50.6px,#aa258b 0 51.8px,#a92593 0 53.0px,#a9258e 0 54.2px,#aa2585 0 55.3px,#a92592 0 56.5px,#a8259a 0 57.7px,#a8259c 0 58.9px,#a92592 0 60.1px,#a824a0 0 62.4px,#a724a6 0 63.6px,#a724ac 0 64.8px,#a724b0 0 65.9px,#a723b7 0 67.1px,#a724a7 0 68.3px,#a724b2 0 69.5px,#a723bc 0 70.7px,#a724ae 0 71.8px,#a723c0 0 73.0px,#a723be 0 74.2px,#a722c7 0 75.4px,#a622d0 0 76.5px,#a621d6 0 77.7px,#a621d7 0 78.9px,#a622ce 0 80.1px,#a620e1 0 81.2px,#a621df 0 82.4px,#a620e7 0 83.6px,#a620e5 0 84.8px,#a620e9 0 86.0px,#a41eed 0 87.1px,#a51feb 0 88.3px,#a31eee 0 89.5px,#a51feb 0 90.7px,#a41fec 0 91.8px,#a41eed 0 93.0px,#a41fec 0 94.2px,#a41feb 0 95.4px,#a51fea 0 98.9px,#a41feb 0 100.1px,#a41eed 0 101.3px,#a41feb 0 102.4px,#a31eee 0 104.8px,#a41eec 0 106.0px,#a41fec 0 107.2px,#a21df0 0 108.3px,#a41feb 0 109.5px,#a41eed 0 110.7px,#a31eed 0 113.0px,#a41eed 0 114.2px,#a520e9 0 115.4px,#a21df1 0 116.6px,#a41feb 0 117.8px,#a21df1 0 118.9px,#a41fec 0 120.1px,#a31eef 0 121.3px,#a11df2 0 122.5px,#a51fea 0 123.6px,#a11df2 0 124.8px,#a21df0 0 126.0px,#a21df1 0 127.2px,#a31eee 0 128.3px,#a11df1 0 129.5px,#a41eed 0 130.7px,#a51feb 0 131.9px,#a51fea 0 133.1px,#a51feb 0 134.2px,#a21df0 0 135.4px,#a31eef 0 136.6px,#a31eed 0 137.8px,#a31eee 0 138.9px,#a21def 0 140.1px,#a01cf5 0 141.3px,#a21df0 0 142.5px,#a41eed 0 143.7px,#a31eef 0 144.8px,#a620e8 0 146.0px,#9e1bf8 0 147.2px,#a11cf3 0 148.4px,#a11cf2 0 149.5px,#a41fec 0 150.7px,#a51feb 0 151.9px,#a11df2 0 153.1px,#a31eef 0 154.3px,#a41eed 0 155.4px,#a31eee 0 157.8px,#a21df1 0 159.0px,#a11df2 0 160.1px,#a11cf3 0 162.5px,#a41eed 0 163.7px,#a21df0 0 166.0px,#a11cf2 0 167.2px,#a31eef 0 168.4px,#a41eec 0 169.6px,#a11cf3 0 170.7px,#a41feb 0 171.9px,#a31eee 0 173.1px,#9f1bf7 0 174.3px,#a31eef 0 176.6px,#a41fec 0 177.8px,#a21df0 0 179.0px,#9f1bf6 0 180.2px,#a01cf4 0 182.5px,#a31eee 0 183.7px,#a11cf3 0 186.0px,#a31eef 0 187.2px,#a31eee 0 188.4px,#a01cf4 0 189.6px,#a21df0 0 190.8px,#a41eed 0 191.9px,#a31eee 0 193.1px,#a41fec 0 195.5px,#a31eee 0 196.6px,#a11df2 0 197.8px,#a51fea 0 199.0px,#a31eee 0 200.2px,#a21df0 0 201.4px,#a21df1 0 202.5px,#a31eef 0 203.7px,#a11df2 0 204.9px,#a21df0 0 206.1px,#a41eed 0 207.2px,#a31eef 0 208.4px,#a01cf4 0 209.6px,#a21df0 0 210.8px,#a11df1 0 211.9px,#a11cf3 0 215.5px,#a21df0 0 216.7px,#a41eed 0 217.8px,#a21df1 0 219.0px,#a41eed 0 220.2px,#a11cf3 0 221.4px,#a21df1 0 222.5px,#a41eec 0 223.7px,#a21df0 0 227.3px,#a11cf2 0 228.4px,#a51fea 0 229.6px,#a21df1 0 230.8px,#a31eee 0 232.0px,#a21df0 0 233.1px,#a31eee 0 234.3px,#a41eed 0 235.5px)"></div>
<div class="r" style="top:394.77px;height:8.77px;background:linear-gradient(90deg,#7213fd 0 1.2px,#7513fd 0 2.4px,#7313fd 0 3.5px,#7713fd 0 4.7px,#7913fe 0 5.9px,#7a14fe 0 7.1px,#7713fd 0 8.2px,#7b14fe 0 10.6px,#7913fe 0 11.8px,#7413fd 0 13.0px,#7613fd 0 14.1px,#7713fd 0 15.3px,#7a14fe 0 16.5px,#7713fd 0 17.7px,#7813fe 0 18.8px,#7113fc 0 20.0px,#6d13fc 0 21.2px,#7713fd 0 22.4px,#7613fd 0 23.6px,#7213fd 0 24.7px,#7413fd 0 25.9px,#7713fd 0 28.3px,#7914fe 0 29.4px,#7713fd 0 30.6px,#7313fd 0 31.8px,#7613fd 0 33.0px,#7b14fe 0 34.1px,#7a14fe 0 35.3px,#7113fc 0 36.5px,#7513fd 0 37.7px,#7813fe 0 38.9px,#7313fd 0 40.0px,#7513fd 0 41.2px,#7713fd 0 42.4px,#7313fd 0 43.6px,#7413fd 0 44.7px,#7013fc 0 45.9px,#6e13fc 0 47.1px,#7013fc 0 48.3px,#7313fd 0 49.5px,#7013fc 0 50.6px,#7113fc 0 51.8px,#7813fe 0 53.0px,#6e13fc 0 54.2px,#7313fd 0 55.3px,#6e13fc 0 56.5px,#7213fc 0 57.7px,#7213fd 0 58.9px,#7413fd 0 60.1px,#6c13fb 0 61.2px,#6d13fc 0 62.4px,#6f13fc 0 63.6px,#6e13fc 0 64.8px,#6412fa 0 65.9px,#6f13fc 0 67.1px,#6912fb 0 68.3px,#6d13fc 0 69.5px,#6912fb 0 70.7px,#6e13fc 0 71.8px,#6c13fc 0 73.0px,#7513fd 0 74.2px,#6f13fc 0 75.4px,#6b12fb 0 76.5px,#6f13fc 0 77.7px,#6612fa 0 78.9px,#6f13fc 0 81.2px,#6912fb 0 82.4px,#6a12fb 0 83.6px,#6412fa 0 84.8px,#6c13fb 0 86.0px,#6d13fc 0 87.1px,#6512fa 0 88.3px,#6c13fb 0 89.5px,#6612fa 0 90.7px,#6e13fc 0 91.8px,#6212f5 0 93.0px,#6812fb 0 94.2px,#6c13fb 0 95.4px,#6412fa 0 96.6px,#6612fa 0 97.7px,#6812fb 0 98.9px,#6712fb 0 100.1px,#6512fa 0 103.6px,#6612fa 0 104.8px,#6512fa 0 106.0px,#6912fb 0 107.2px,#6712fa 0 108.3px,#6712fb 0 110.7px,#6212f4 0 111.9px,#6212f5 0 113.0px,#6b13fb 0 114.2px,#6012ee 0 115.4px,#6312f6 0 116.6px,#6612fa 0 117.8px,#6312f9 0 118.9px,#6312f8 0 120.1px,#6912fb 0 121.3px,#6112f3 0 122.5px,#6712fb 0 123.6px,#6012f0 0 124.8px,#6012ef 0 126.0px,#6312f6 0 127.2px,#6412fa 0 128.3px,#6b13fb 0 129.5px,#6412fa 0 130.7px,#6412f9 0 131.9px,#6512fa 0 133.1px,#6312f7 0 134.2px,#6112f3 0 135.4px,#6212f4 0 136.6px,#6412fa 0 137.8px,#6212f4 0 138.9px,#5f11ed 0 140.1px,#6112f2 0 141.3px,#5f11eb 0 142.5px,#6612fa 0 143.7px,#5f11eb 0 144.8px,#6412f9 0 146.0px,#6212f3 0 147.2px,#6512fa 0 148.4px,#6712fb 0 149.5px,#6212f4 0 150.7px,#6312f6 0 151.9px,#6412fa 0 153.1px,#5d11e7 0 154.3px,#6612fa 0 155.4px,#6312f7 0 156.6px,#6412fa 0 157.8px,#6312f9 0 159.0px,#6312f7 0 160.1px,#5f11eb 0 161.3px,#6312f7 0 162.5px,#6112f2 0 163.7px,#6b12fb 0 164.8px,#5f11ed 0 166.0px,#5010c1 0 167.2px,#5d11e6 0 168.4px,#6312f7 0 169.6px,#6712fb 0 170.7px,#6112f0 0 171.9px,#300864 0 173.1px,#5b11e0 0 174.3px,#5b11e2 0 175.4px,#4c0fb7 0 176.6px,#6712fb 0 177.8px,#6012ee 0 179.0px,#6312f8 0 180.2px,#af275d 0 181.3px,#5c11e4 0 182.5px,#6212f4 0 183.7px,#5711d5 0 184.9px,#5a11de 0 186.0px,#5d11e6 0 187.2px,#260548 0 188.4px,#5711d6 0 189.6px,#28064f 0 190.8px,#5a11e0 0 191.9px,#350972 0 193.1px,#6f13fc 0 194.3px,#6e13fc 0 195.5px,#5410cd 0 196.6px,#5d11e8 0 197.8px,#1f0437 0 199.0px,#20043b 0 200.2px,#7413fd 0 201.4px,#5d11e8 0 202.5px,#6612fa 0 203.7px,#b1284d 0 204.9px,#6312f8 0 206.1px,#4f0fbf 0 207.2px,#ae2764 0 208.4px,#6812fb 0 209.6px,#400c93 0 210.8px,#5e11eb 0 211.9px,#4c0fb7 0 213.1px,#5510cf 0 214.3px,#32096b 0 215.5px,#6412fa 0 216.7px,#220540 0 217.8px,#5410ce 0 219.0px,#460ea3 0 220.2px,#34096f 0 221.4px,#4c0fb6 0 222.5px,#4b0fb3 0 223.7px,#300866 0 224.9px,#7013fc 0 226.1px,#5911dc 0 227.3px,#490ead 0 228.4px,#5e11ea 0 229.6px,#5510d0 0 230.8px,#27064e 0 232.0px,#b92d2a 0 233.1px,#ae2760 0 234.3px,#5e11e8 0 235.5px)"></div>
<div class="r" style="top:403.23px;height:8.77px;background:linear-gradient(90deg,#9f1bf7 0 1.2px,#9f1bf6 0 2.4px,#a01bf5 0 3.5px,#9f1bf6 0 4.7px,#9f1bf8 0 5.9px,#9e1afa 0 7.1px,#9e1af9 0 8.2px,#9e1afa 0 9.4px,#9f1bf6 0 10.6px,#9c18fe 0 11.8px,#9d19fc 0 14.1px,#9c19fd 0 15.3px,#9e1af9 0 16.5px,#9c19fd 0 17.7px,#9b18fe 0 20.0px,#9d19fb 0 21.2px,#9c19fc 0 22.4px,#9a18ff 0 23.6px,#9c18fe 0 24.7px,#9b18ff 0 25.9px,#9d19fb 0 27.1px,#9717ff 0 28.3px,#9317ff 0 29.4px,#9817ff 0 30.6px,#9617ff 0 31.8px,#9517ff 0 33.0px,#9717ff 0 34.1px,#9818ff 0 35.3px,#9717ff 0 36.5px,#9617ff 0 37.7px,#9317ff 0 38.9px,#9a18ff 0 40.0px,#9317ff 0 41.2px,#9116ff 0 42.4px,#9317ff 0 43.6px,#9417ff 0 44.7px,#8d16ff 0 45.9px,#9417ff 0 47.1px,#9317ff 0 48.3px,#9117ff 0 49.5px,#9016ff 0 50.6px,#9517ff 0 51.8px,#9617ff 0 53.0px,#8b16ff 0 54.2px,#8d16ff 0 55.3px,#8c16ff 0 56.5px,#8d16ff 0 57.7px,#8a15ff 0 58.9px,#8815ff 0 60.1px,#8a16ff 0 61.2px,#8a15ff 0 62.4px,#8e16ff 0 63.6px,#8d16ff 0 64.8px,#8c16ff 0 65.9px,#8b16ff 0 67.1px,#8e16ff 0 68.3px,#8615ff 0 69.5px,#8715ff 0 70.7px,#8915ff 0 71.8px,#8415ff 0 73.0px,#8815ff 0 74.2px,#8314ff 0 75.4px,#8415ff 0 76.5px,#8314ff 0 77.7px,#8715ff 0 78.9px,#8114ff 0 80.1px,#8415ff 0 81.2px,#8515ff 0 82.4px,#8415ff 0 83.6px,#8214ff 0 84.8px,#7e14ff 0 86.0px,#8314ff 0 87.1px,#7d14ff 0 88.3px,#8114ff 0 89.5px,#7b14fe 0 90.7px,#7c14fe 0 91.8px,#7513fd 0 93.0px,#7313fd 0 94.2px,#6c13fc 0 95.4px,#6d13fc 0 96.6px,#6e13fc 0 97.7px,#6812fb 0 98.9px,#6612fa 0 100.1px,#6012f0 0 101.3px,#6412f9 0 102.4px,#5c11e4 0 103.6px,#6012ef 0 104.8px,#5a11de 0 106.0px,#5410cd 0 107.2px,#5811d7 0 108.3px,#5510d0 0 109.5px,#5110c6 0 110.7px,#4e0fbd 0 111.9px,#5010c2 0 113.0px,#4d0fba 0 114.2px,#4b0fb2 0 115.4px,#4c0fb7 0 116.6px,#470ea7 0 117.8px,#450da1 0 118.9px,#420d98 0 120.1px,#450da0 0 121.3px,#470ea6 0 122.5px,#460ea5 0 124.8px,#440d9f 0 126.0px,#460ea4 0 127.2px,#400c92 0 128.3px,#440d9d 0 129.5px,#4a0eb0 0 130.7px,#460ea3 0 131.9px,#440d9f 0 133.1px,#450da2 0 134.2px,#480eaa 0 135.4px,#430d9c 0 136.6px,#440d9f 0 137.8px,#450da2 0 138.9px,#430d9b 0 140.1px,#450da0 0 141.3px,#410d95 0 142.5px,#480eab 0 143.7px,#420d98 0 144.8px,#430d9b 0 146.0px,#460ea5 0 147.2px,#480ea9 0 148.4px,#440d9e 0 149.5px,#430d9b 0 150.7px,#440d9d 0 151.9px,#3b0b83 0 153.1px,#3f0c8f 0 154.3px,#430d9b 0 155.4px,#410d96 0 156.6px,#440d9e 0 157.8px,#440d9f 0 159.0px,#400c93 0 160.1px,#410d95 0 161.3px,#440d9e 0 162.5px,#450da2 0 163.7px,#450da1 0 164.8px,#390b7f 0 166.0px,#450da2 0 167.2px,#470ea6 0 168.4px,#32096b 0 169.6px,#1a022c 0 170.7px,#3c0c87 0 171.9px,#410d95 0 173.1px,#420d97 0 174.3px,#3e0c8b 0 175.4px,#380a7b 0 176.6px,#2a0754 0 177.8px,#370a78 0 179.0px,#3f0c8f 0 180.2px,#2c075b 0 181.3px,#3c0b86 0 182.5px,#250548 0 183.7px,#2d075d 0 184.9px,#450da1 0 186.0px,#240545 0 187.2px,#470ea6 0 188.4px,#3f0c8f 0 189.6px,#470ea7 0 190.8px,#400c92 0 191.9px,#410d96 0 193.1px,#310968 0 194.3px,#370a79 0 195.5px,#2d085e 0 196.6px,#22043f 0 197.8px,#300864 0 199.0px,#0e0011 0 200.2px,#170226 0 201.4px,#2d075d 0 202.5px,#450da1 0 203.7px,#420d98 0 204.9px,#2f0863 0 206.1px,#2a0754 0 207.2px,#250545 0 208.4px,#1e0336 0 209.6px,#390b7f 0 210.8px,#340970 0 211.9px,#13011d 0 213.1px,#100116 0 214.3px,#370a77 0 215.5px,#2e0861 0 216.7px,#150222 0 217.8px,#300866 0 219.0px,#2a0755 0 220.2px,#250547 0 221.4px,#2c075a 0 222.5px,#300864 0 223.7px,#2f0861 0 224.9px,#2b0757 0 226.1px,#33096c 0 227.3px,#3f0c8f 0 228.4px,#490ead 0 229.6px,#4c0fb6 0 230.8px,#2f0864 0 232.0px,#2e085e 0 233.1px,#4b0fb2 0 234.3px,#440d9d 0 235.5px)"></div>
<div class="r" style="top:411.70px;height:8.77px;background:linear-gradient(90deg,#7713fd 0 1.2px,#7313fd 0 2.4px,#6f13fc 0 3.5px,#7113fc 0 5.9px,#7813fe 0 7.1px,#7313fd 0 8.2px,#7413fd 0 9.4px,#7213fc 0 10.6px,#6d13fc 0 11.8px,#7013fc 0 13.0px,#7313fd 0 14.1px,#7513fd 0 15.3px,#7713fd 0 16.5px,#7413fd 0 17.7px,#7513fd 0 18.8px,#6f13fc 0 20.0px,#7313fd 0 21.2px,#7213fd 0 22.4px,#6c13fb 0 23.6px,#7013fc 0 24.7px,#6f13fc 0 25.9px,#7413fd 0 27.1px,#6f13fc 0 28.3px,#6912fb 0 29.4px,#6e13fc 0 30.6px,#7513fd 0 31.8px,#6912fb 0 33.0px,#6d13fc 0 34.1px,#6e13fc 0 35.3px,#6d13fc 0 36.5px,#6e13fc 0 37.7px,#6812fb 0 38.9px,#6a12fb 0 41.2px,#6c13fb 0 42.4px,#6812fb 0 43.6px,#6512fa 0 44.7px,#6d13fc 0 45.9px,#6e13fc 0 47.1px,#6c13fb 0 48.3px,#6a12fb 0 49.5px,#6c13fb 0 50.6px,#6812fb 0 51.8px,#6a12fb 0 53.0px,#6512fa 0 54.2px,#6312f9 0 55.3px,#6612fa 0 56.5px,#6812fb 0 58.9px,#6912fb 0 60.1px,#6312f7 0 61.2px,#6812fb 0 62.4px,#6a12fb 0 63.6px,#6512fa 0 64.8px,#6312f9 0 65.9px,#6312f7 0 67.1px,#6612fa 0 68.3px,#6212f4 0 69.5px,#6812fb 0 70.7px,#6512fa 0 71.8px,#6312f7 0 73.0px,#6512fa 0 74.2px,#6612fa 0 75.4px,#6312f6 0 76.5px,#6112f1 0 77.7px,#6212f4 0 78.9px,#6112f2 0 80.1px,#6412f9 0 82.4px,#6612fa 0 83.6px,#6212f5 0 84.8px,#6312f7 0 86.0px,#5e11e9 0 87.1px,#5e11ea 0 89.5px,#5a11df 0 90.7px,#6112f3 0 91.8px,#5c11e3 0 93.0px,#6512fa 0 94.2px,#5d11e6 0 95.4px,#6012ee 0 97.7px,#6212f6 0 98.9px,#5e11ea 0 100.1px,#6012ef 0 101.3px,#5e11ea 0 102.4px,#6012ee 0 103.6px,#5e11ea 0 104.8px,#5b11e2 0 106.0px,#5d11e7 0 107.2px,#5d11e6 0 108.3px,#5f11ed 0 109.5px,#5b11e0 0 110.7px,#6212f4 0 111.9px,#5b11e2 0 113.0px,#5e11e9 0 115.4px,#5e11e8 0 116.6px,#5a11df 0 117.8px,#5e11e9 0 118.9px,#5911dc 0 120.1px,#5c11e3 0 121.3px,#5b11e2 0 122.5px,#5a11dd 0 123.6px,#5e11ea 0 124.8px,#5711d7 0 126.0px,#5e11e9 0 127.2px,#5a11df 0 128.3px,#5811d9 0 129.5px,#5c11e3 0 131.9px,#5911da 0 133.1px,#5b11e0 0 134.2px,#5e11ea 0 135.4px,#5a11df 0 136.6px,#5a11dd 0 137.8px,#6012f0 0 138.9px,#5a11dd 0 140.1px,#32096b 0 141.3px,#5a11dd 0 142.5px,#5911dc 0 143.7px,#5811d8 0 144.8px,#5c11e4 0 146.0px,#5b11e1 0 147.2px,#5711d5 0 148.4px,#5510d2 0 149.5px,#5c11e3 0 150.7px,#7c14fe 0 151.9px,#5911dc 0 153.1px,#2d075d 0 154.3px,#5911dc 0 155.4px,#5f11eb 0 156.6px,#5610d4 0 157.8px,#1b032f 0 159.0px,#5b11e2 0 160.1px,#9417ff 0 161.3px,#5510cf 0 162.5px,#5911da 0 163.7px,#5f11eb 0 164.8px,#5d11e8 0 166.0px,#5610d3 0 167.2px,#5711d5 0 168.4px,#5110c5 0 169.6px,#5811d9 0 170.7px,#5711d7 0 171.9px,#5911dc 0 173.1px,#5711d6 0 174.3px,#6212f4 0 175.4px,#5210c7 0 176.6px,#5410ce 0 177.8px,#5110c4 0 179.0px,#4b0fb4 0 180.2px,#5310cb 0 181.3px,#5911dd 0 182.5px,#390b7d 0 183.7px,#4f0fbe 0 184.9px,#0c000e 0 186.0px,#8014ff 0 187.2px,#460ea3 0 188.4px,#5c11e5 0 189.6px,#5310cb 0 190.8px,#5e11ea 0 191.9px,#5a11df 0 193.1px,#4d0fb8 0 194.3px,#5b11e1 0 195.5px,#4f0fbf 0 196.6px,#6312f8 0 197.8px,#5d11e6 0 199.0px,#3f0c8f 0 200.2px,#6312f9 0 201.4px,#8615ff 0 202.5px,#4f0fbe 0 203.7px,#400c93 0 204.9px,#1f0439 0 206.1px,#5510d0 0 207.2px,#1c0331 0 208.4px,#5610d2 0 209.6px,#8014ff 0 210.8px,#310867 0 213.1px,#27064c 0 214.3px,#6312f6 0 215.5px,#20043c 0 216.7px,#7713fd 0 217.8px,#1f0438 0 219.0px,#150223 0 220.2px,#5310cc 0 221.4px,#5f11eb 0 222.5px,#380a7b 0 223.7px,#410d94 0 224.9px,#230542 0 226.1px,#5d11e7 0 227.3px,#7813fe 0 228.4px,#250548 0 229.6px,#4a0eb1 0 230.8px,#5010c1 0 232.0px,#7413fd 0 233.1px,#6c13fb 0 234.3px,#2d075d 0 235.5px)"></div>
<div class="r" style="top:420.17px;height:8.77px;background:linear-gradient(90deg,#450da0 0 1.2px,#460ea5 0 2.4px,#4a0eb0 0 3.5px,#490eac 0 4.7px,#450da1 0 5.9px,#480ea9 0 8.2px,#4b0fb4 0 9.4px,#4e0fbb 0 10.6px,#480ea9 0 11.8px,#4b0fb3 0 13.0px,#4c0fb5 0 15.3px,#460ea3 0 16.5px,#480eaa 0 17.7px,#490eac 0 18.8px,#490ead 0 20.0px,#480eab 0 21.2px,#4e0fbb 0 22.4px,#4d0fb9 0 23.6px,#4c0fb6 0 24.7px,#470ea6 0 25.9px,#4f0fc0 0 27.1px,#490ead 0 28.3px,#4f0fc0 0 29.4px,#4d0fb9 0 30.6px,#5010c2 0 31.8px,#4e0fbb 0 33.0px,#5010c1 0 34.1px,#4e0fbb 0 35.3px,#5110c6 0 36.5px,#5210c7 0 37.7px,#5010c3 0 38.9px,#5410cf 0 40.0px,#4f0fc0 0 41.2px,#4a0eaf 0 42.4px,#5711d6 0 43.6px,#5711d7 0 44.7px,#5410cd 0 45.9px,#5110c4 0 47.1px,#5210c9 0 48.3px,#4d0fba 0 49.5px,#5010c3 0 50.6px,#5210c9 0 51.8px,#5410cd 0 53.0px,#5310cb 0 54.2px,#5610d3 0 56.5px,#5510d2 0 57.7px,#5310cc 0 58.9px,#5610d2 0 60.1px,#5811d9 0 61.2px,#5610d3 0 62.4px,#5911dc 0 63.6px,#5610d4 0 64.8px,#5911da 0 65.9px,#5510d0 0 67.1px,#5510d1 0 68.3px,#5711d6 0 69.5px,#5c11e4 0 70.7px,#5610d4 0 71.8px,#5911da 0 73.0px,#5a11df 0 74.2px,#5b11e2 0 75.4px,#5b11e1 0 76.5px,#5a11df 0 78.9px,#5d11e5 0 80.1px,#5f11eb 0 81.2px,#5e11ea 0 82.4px,#5a11de 0 83.6px,#5911db 0 84.8px,#5c11e3 0 86.0px,#5f11eb 0 87.1px,#6012ee 0 88.3px,#5d11e7 0 89.5px,#5c11e4 0 90.7px,#5e11e8 0 91.8px,#6212f4 0 93.0px,#6112f3 0 94.2px,#6b12fb 0 95.4px,#6312f7 0 96.6px,#6012f0 0 97.7px,#7113fc 0 98.9px,#6e13fc 0 100.1px,#6712fb 0 101.3px,#6912fb 0 102.4px,#6a12fb 0 103.6px,#7413fd 0 104.8px,#7213fd 0 106.0px,#7613fd 0 107.2px,#7213fc 0 108.3px,#7713fd 0 109.5px,#7f14ff 0 110.7px,#7713fd 0 111.9px,#7a14fe 0 113.0px,#8415ff 0 114.2px,#8014ff 0 115.4px,#8214ff 0 116.6px,#8114ff 0 117.8px,#8415ff 0 118.9px,#8014ff 0 120.1px,#8c16ff 0 121.3px,#8615ff 0 122.5px,#8715ff 0 123.6px,#8315ff 0 124.8px,#8214ff 0 126.0px,#8515ff 0 127.2px,#8214ff 0 128.3px,#8415ff 0 129.5px,#8314ff 0 130.7px,#8715ff 0 131.9px,#8315ff 0 133.1px,#8915ff 0 134.2px,#8a15ff 0 135.4px,#8415ff 0 136.6px,#8515ff 0 137.8px,#8615ff 0 138.9px,#8214ff 0 140.1px,#8815ff 0 141.3px,#8915ff 0 142.5px,#8014ff 0 143.7px,#8915ff 0 144.8px,#8615ff 0 146.0px,#8415ff 0 147.2px,#8515ff 0 148.4px,#8415ff 0 149.5px,#8915ff 0 150.7px,#8515ff 0 151.9px,#8c16ff 0 153.1px,#8715ff 0 154.3px,#8b16ff 0 155.4px,#8415ff 0 156.6px,#8615ff 0 157.8px,#8c16ff 0 159.0px,#8615ff 0 160.1px,#8515ff 0 161.3px,#8d16ff 0 162.5px,#8314ff 0 163.7px,#8a16ff 0 164.8px,#8615ff 0 166.0px,#8d16ff 0 167.2px,#8915ff 0 168.4px,#8715ff 0 169.6px,#8e16ff 0 170.7px,#8615ff 0 171.9px,#9117ff 0 173.1px,#8a15ff 0 174.3px,#8815ff 0 176.6px,#8a15ff 0 177.8px,#8815ff 0 179.0px,#8a16ff 0 180.2px,#8915ff 0 181.3px,#8715ff 0 182.5px,#8b16ff 0 183.7px,#8815ff 0 184.9px,#8314ff 0 186.0px,#8915ff 0 187.2px,#8314ff 0 188.4px,#8715ff 0 189.6px,#8615ff 0 190.8px,#8815ff 0 191.9px,#8a15ff 0 193.1px,#8c16ff 0 194.3px,#8815ff 0 195.5px,#8915ff 0 196.6px,#8815ff 0 197.8px,#8a16ff 0 199.0px,#8c16ff 0 200.2px,#8e16ff 0 201.4px,#8615ff 0 202.5px,#8c16ff 0 203.7px,#8915ff 0 206.1px,#8214ff 0 207.2px,#8d16ff 0 208.4px,#8615ff 0 209.6px,#8815ff 0 210.8px,#8915ff 0 211.9px,#9016ff 0 213.1px,#8615ff 0 215.5px,#8515ff 0 216.7px,#8915ff 0 217.8px,#8815ff 0 219.0px,#8c16ff 0 220.2px,#8b16ff 0 221.4px,#8815ff 0 222.5px,#8b16ff 0 223.7px,#8a16ff 0 224.9px,#8c16ff 0 226.1px,#8b16ff 0 227.3px,#8c16ff 0 229.6px,#8d16ff 0 230.8px,#8515ff 0 232.0px,#8c16ff 0 234.3px,#8a15ff 0 235.5px)"></div>
<div class="r" style="top:428.63px;height:8.77px;background:linear-gradient(90deg,#ecdc38 0 1.2px,#ecd838 0 2.4px,#ebd336 0 3.5px,#ecd637 0 4.7px,#ecdb38 0 5.9px,#ecdc38 0 7.1px,#ecda38 0 8.2px,#ecd637 0 9.4px,#ecda38 0 10.6px,#ecdb38 0 11.8px,#ecda38 0 13.0px,#ecd938 0 15.3px,#ecd737 0 16.5px,#ecda38 0 17.7px,#ecd838 0 18.8px,#ecdb38 0 20.0px,#ecd838 0 21.2px,#ebd036 0 22.4px,#ecd837 0 23.6px,#ecdb38 0 24.7px,#ecd838 0 25.9px,#ecdd39 0 27.1px,#ecd537 0 28.3px,#ecdc39 0 29.4px,#ecd938 0 30.6px,#ecdd39 0 31.8px,#ecdc38 0 33.0px,#ebd336 0 34.1px,#ecd537 0 35.3px,#ecda38 0 36.5px,#ecdb38 0 38.9px,#ecd437 0 40.0px,#ecd938 0 41.2px,#ecd637 0 42.4px,#ecdd39 0 43.6px,#ecdb38 0 44.7px,#ecd537 0 45.9px,#ecde39 0 47.1px,#ecd737 0 49.5px,#ecd838 0 50.6px,#ebd036 0 51.8px,#ecdb38 0 53.0px,#ecd938 0 54.2px,#ecd637 0 55.3px,#ecdc38 0 56.5px,#ebd336 0 57.7px,#ecdc38 0 58.9px,#ecd537 0 60.1px,#ecdb38 0 61.2px,#ebd236 0 63.6px,#ecda38 0 64.8px,#ebd236 0 65.9px,#ecd637 0 67.1px,#ecd437 0 68.3px,#ecd737 0 69.5px,#ecda38 0 70.7px,#ecd537 0 71.8px,#ecdb38 0 73.0px,#ecd838 0 74.2px,#ecd737 0 75.4px,#ecda38 0 76.5px,#ecd437 0 77.7px,#ecda38 0 78.9px,#ecd437 0 80.1px,#ecd537 0 81.2px,#ecda38 0 82.4px,#ecd437 0 83.6px,#ebce35 0 84.8px,#ecd637 0 86.0px,#ebd236 0 87.1px,#ecd337 0 88.3px,#ecd938 0 89.5px,#ebce35 0 90.7px,#ecd737 0 93.0px,#ecdb38 0 94.2px,#ebd136 0 95.4px,#ebce35 0 96.6px,#ecd537 0 97.7px,#ecd737 0 98.9px,#ebd136 0 100.1px,#ecd637 0 101.3px,#ebce35 0 102.4px,#ecd537 0 103.6px,#ebce35 0 104.8px,#ebcf36 0 106.0px,#ebd336 0 107.2px,#ecd337 0 108.3px,#ecd537 0 110.7px,#ebd336 0 111.9px,#ecda38 0 113.0px,#ebd236 0 114.2px,#ebcd35 0 115.4px,#ecd737 0 116.6px,#ecd637 0 117.8px,#ecd337 0 120.1px,#ebd036 0 121.3px,#ecd537 0 122.5px,#ecd637 0 123.6px,#ecd737 0 124.8px,#ebce35 0 126.0px,#ebd136 0 127.2px,#ebcd35 0 128.3px,#ebd336 0 130.7px,#ecd437 0 131.9px,#ecd337 0 134.2px,#ebd336 0 135.4px,#ebd036 0 137.8px,#ecd537 0 138.9px,#ebca35 0 140.1px,#ebce35 0 141.3px,#ebc834 0 142.5px,#ebd236 0 143.7px,#ebd336 0 144.8px,#ecd437 0 146.0px,#ebd136 0 147.2px,#ebd036 0 148.4px,#ecd437 0 149.5px,#ebd336 0 150.7px,#ebd036 0 151.9px,#ebce35 0 153.1px,#ecd637 0 154.3px,#ebd036 0 155.4px,#ebd136 0 156.6px,#e28b26 0 157.8px,#ebd036 0 159.0px,#ecd437 0 160.1px,#ebcf36 0 161.3px,#ebc934 0 162.5px,#ebcf36 0 164.8px,#ebcb35 0 166.0px,#ebd036 0 167.2px,#e59c2a 0 168.4px,#ebc734 0 169.6px,#ebd236 0 170.7px,#ecd537 0 171.9px,#ecd837 0 173.1px,#ebd236 0 174.3px,#ecd537 0 175.4px,#ecdc38 0 176.6px,#ecda38 0 177.8px,#ebd336 0 179.0px,#ecdd39 0 180.2px,#ebd136 0 181.3px,#eac333 0 182.5px,#ebc734 0 183.7px,#eabf32 0 184.9px,#ebd036 0 186.0px,#ecda38 0 187.2px,#ecd637 0 188.4px,#ebcb35 0 189.6px,#eac333 0 190.8px,#ebcc35 0 191.9px,#ebce35 0 193.1px,#ebd036 0 194.3px,#e59e2b 0 195.5px,#eac333 0 196.6px,#ebd136 0 197.8px,#edeb3c 0 199.0px,#ebcb35 0 200.2px,#ebcf36 0 201.4px,#e28a26 0 202.5px,#ebcc35 0 203.7px,#e59e2b 0 204.9px,#e59b2a 0 206.1px,#e28c27 0 207.2px,#e9b430 0 208.4px,#e9b630 0 209.6px,#e59b2a 0 210.8px,#ecd637 0 211.9px,#e9ba31 0 213.1px,#eac133 0 214.3px,#ebcc35 0 215.5px,#e59d2b 0 216.7px,#eabf32 0 217.8px,#e9b430 0 219.0px,#ecd537 0 220.2px,#e9b530 0 221.4px,#e49529 0 222.5px,#eac433 0 223.7px,#e07f24 0 224.9px,#e18725 0 226.1px,#ebc734 0 227.3px,#e4992a 0 228.4px,#e5992a 0 229.6px,#e8ad2e 0 230.8px,#e9b530 0 232.0px,#e28b26 0 233.1px,#e59b2a 0 234.3px,#e07d24 0 235.5px)"></div>
<div class="r" style="top:437.10px;height:8.77px;background:linear-gradient(90deg,#ede93b 0 1.2px,#eded3c 0 2.4px,#ede53a 0 3.5px,#edee3c 0 4.7px,#edea3b 0 5.9px,#ede63b 0 7.1px,#ede33a 0 8.2px,#edea3b 0 9.4px,#ede63b 0 10.6px,#ede83b 0 11.8px,#edec3c 0 13.0px,#eded3c 0 14.1px,#edea3b 0 15.3px,#ede43a 0 16.5px,#ede73b 0 17.7px,#ede83b 0 18.8px,#edef3c 0 20.0px,#edea3b 0 21.2px,#ede73b 0 22.4px,#ede33a 0 23.6px,#ede53a 0 24.7px,#edec3c 0 25.9px,#ede63b 0 27.1px,#edea3b 0 28.3px,#ede83b 0 29.4px,#eded3c 0 30.6px,#ede73b 0 31.8px,#ede63a 0 33.0px,#ede83b 0 34.1px,#edeb3c 0 35.3px,#ede83b 0 36.5px,#ede63b 0 37.7px,#ede73b 0 38.9px,#ede33a 0 40.0px,#ede83b 0 42.4px,#ede63b 0 43.6px,#ede43a 0 44.7px,#eded3c 0 45.9px,#ede63b 0 47.1px,#ede73b 0 48.3px,#edef3c 0 49.5px,#ede83b 0 50.6px,#ede73b 0 51.8px,#ede93b 0 53.0px,#edef3c 0 54.2px,#ede83b 0 55.3px,#ede93b 0 56.5px,#ede73b 0 60.1px,#ede53a 0 61.2px,#ede63b 0 62.4px,#ede83b 0 63.6px,#ede63b 0 64.8px,#edee3c 0 65.9px,#eded3c 0 67.1px,#ede33a 0 68.3px,#edea3b 0 70.7px,#ede63b 0 71.8px,#ede93b 0 73.0px,#edef3c 0 74.2px,#ede83b 0 75.4px,#edec3c 0 76.5px,#ede93b 0 78.9px,#ede63b 0 80.1px,#edeb3c 0 81.2px,#ede93b 0 82.4px,#ede63b 0 83.6px,#ede83b 0 84.8px,#ede93b 0 87.1px,#edea3b 0 88.3px,#ede63b 0 89.5px,#ede93b 0 90.7px,#edec3c 0 91.8px,#ede73b 0 93.0px,#edee3c 0 94.2px,#ede43a 0 95.4px,#ede33a 0 96.6px,#edeb3c 0 97.7px,#ede73b 0 98.9px,#ede63b 0 101.3px,#eded3c 0 102.4px,#edef3c 0 103.6px,#edeb3c 0 104.8px,#eded3c 0 106.0px,#ede83b 0 108.3px,#edea3b 0 110.7px,#eded3c 0 111.9px,#ede83b 0 113.0px,#ede73b 0 114.2px,#edea3b 0 115.4px,#edeb3c 0 116.6px,#ece039 0 117.8px,#edea3b 0 118.9px,#ede13a 0 120.1px,#edea3b 0 121.3px,#ede73b 0 122.5px,#ede83b 0 123.6px,#ede13a 0 124.8px,#ede83b 0 126.0px,#ede93b 0 127.2px,#ede13a 0 128.3px,#ede73b 0 129.5px,#eded3c 0 130.7px,#edec3c 0 131.9px,#ede73b 0 133.1px,#ede63b 0 134.2px,#ede83b 0 136.6px,#ede63b 0 137.8px,#ede83b 0 138.9px,#edeb3c 0 140.1px,#ede73b 0 141.3px,#ede63b 0 142.5px,#ede93b 0 143.7px,#edeb3c 0 147.2px,#ede93b 0 148.4px,#eef03d 0 149.5px,#ede73b 0 150.7px,#edea3b 0 151.9px,#ede53a 0 153.1px,#ede93b 0 154.3px,#ede33a 0 155.4px,#ede43a 0 156.6px,#e6a22c 0 157.8px,#edea3b 0 159.0px,#eded3c 0 160.1px,#ede33a 0 161.3px,#ede63a 0 162.5px,#ede33a 0 163.7px,#eef53e 0 164.8px,#ede23a 0 166.0px,#ede33a 0 167.2px,#edec3c 0 168.4px,#eef43e 0 169.6px,#edeb3c 0 170.7px,#ece139 0 171.9px,#ede43a 0 173.1px,#ede33a 0 174.3px,#ede63b 0 175.4px,#edec3c 0 176.6px,#ede53a 0 177.8px,#ede33a 0 179.0px,#edef3c 0 180.2px,#ede23a 0 181.3px,#ede93b 0 182.5px,#e8b330 0 183.7px,#eac032 0 184.9px,#ecdf39 0 186.0px,#eef33d 0 187.2px,#ede73b 0 188.4px,#ede43a 0 189.6px,#e8ad2e 0 190.8px,#eef63e 0 191.9px,#ede23a 0 193.1px,#ecde39 0 195.5px,#e28d27 0 196.6px,#ecd637 0 197.8px,#ebce35 0 199.0px,#ede93b 0 200.2px,#ecd337 0 201.4px,#eac333 0 202.5px,#eef63e 0 203.7px,#5f11ed 0 204.9px,#e38e27 0 206.1px,#edec3c 0 207.2px,#ecdf39 0 208.4px,#5e11ea 0 209.6px,#eef43d 0 210.8px,#ecde39 0 211.9px,#eabd32 0 213.1px,#e9b831 0 214.3px,#b62a30 0 215.5px,#eef03d 0 216.7px,#ede73b 0 217.8px,#ede23a 0 219.0px,#ebca35 0 220.2px,#4b0fb3 0 221.4px,#ae2760 0 222.5px,#eef53e 0 223.7px,#eabc32 0 224.9px,#6212f4 0 226.1px,#eef63e 0 227.3px,#ac266c 0 228.4px,#b72b2e 0 229.6px,#eef63e 0 230.8px,#e28c26 0 232.0px,#ede13a 0 233.1px,#eef63e 0 234.3px,#6812fb 0 235.5px)"></div>
<div class="r" style="top:445.57px;height:8.77px;background:linear-gradient(90deg,#eef63e 0 2.4px,#eef43e 0 3.5px,#eef63e 0 4.7px,#eef53e 0 5.9px,#eef43e 0 7.1px,#eef53e 0 8.2px,#eef33d 0 9.4px,#eef63e 0 10.6px,#eef43d 0 11.8px,#eef33d 0 13.0px,#eef23d 0 16.5px,#edee3c 0 17.7px,#eef23d 0 18.8px,#eef63e 0 24.7px,#eef03d 0 25.9px,#eef63e 0 28.3px,#eef43e 0 29.4px,#eef23d 0 30.6px,#eef53e 0 33.0px,#eded3c 0 34.1px,#eef43d 0 35.3px,#eef43e 0 37.7px,#edef3c 0 38.9px,#eef03d 0 40.0px,#eeef3d 0 41.2px,#eef43e 0 42.4px,#eef63e 0 43.6px,#eef43e 0 45.9px,#eded3c 0 47.1px,#eeef3d 0 48.3px,#eef33d 0 49.5px,#eef13d 0 50.6px,#eeef3d 0 53.0px,#eef03d 0 54.2px,#eef33d 0 55.3px,#eef23d 0 56.5px,#eef43e 0 57.7px,#eef13d 0 58.9px,#eef63e 0 60.1px,#ede73b 0 61.2px,#eeef3d 0 62.4px,#eef63e 0 63.6px,#edef3c 0 64.8px,#edec3c 0 65.9px,#eded3c 0 67.1px,#eef03d 0 68.3px,#eef23d 0 69.5px,#edec3c 0 70.7px,#eef13d 0 71.8px,#edeb3c 0 73.0px,#eeef3d 0 74.2px,#edee3c 0 75.4px,#eef13d 0 76.5px,#eef03d 0 77.7px,#eef33d 0 78.9px,#edec3c 0 80.1px,#ede13a 0 81.2px,#eef13d 0 82.4px,#eeef3d 0 83.6px,#eded3c 0 84.8px,#edeb3c 0 86.0px,#ede93b 0 87.1px,#eded3c 0 88.3px,#eeef3d 0 89.5px,#eef03d 0 90.7px,#edeb3c 0 91.8px,#ede83b 0 93.0px,#eeef3d 0 94.2px,#eef13d 0 95.4px,#edee3c 0 96.6px,#ede63b 0 97.7px,#eef13d 0 98.9px,#ede73b 0 100.1px,#edef3c 0 101.3px,#ede33a 0 102.4px,#ede83b 0 103.6px,#eded3c 0 104.8px,#edea3b 0 106.0px,#edec3c 0 107.2px,#eded3c 0 108.3px,#edef3c 0 109.5px,#edee3c 0 110.7px,#ede53a 0 111.9px,#ede93b 0 113.0px,#eef23d 0 114.2px,#edea3b 0 115.4px,#ede53a 0 116.6px,#edee3c 0 117.8px,#edea3b 0 120.1px,#eeef3d 0 121.3px,#edee3c 0 122.5px,#edeb3c 0 123.6px,#eeef3d 0 124.8px,#edea3c 0 126.0px,#edeb3c 0 127.2px,#eded3c 0 128.3px,#ede93b 0 129.5px,#edeb3c 0 130.7px,#edec3c 0 131.9px,#edeb3c 0 133.1px,#ede83b 0 134.2px,#eef13d 0 135.4px,#edea3b 0 136.6px,#eded3c 0 137.8px,#ede83b 0 138.9px,#edeb3c 0 140.1px,#ede73b 0 141.3px,#eeef3d 0 142.5px,#edea3b 0 144.8px,#eef43e 0 146.0px,#ede53a 0 147.2px,#edea3b 0 148.4px,#ede93b 0 149.5px,#edea3b 0 150.7px,#edeb3c 0 151.9px,#ede63b 0 153.1px,#ede73b 0 154.3px,#edeb3c 0 155.4px,#ede73b 0 156.6px,#edea3b 0 157.8px,#ede93b 0 159.0px,#eded3c 0 162.5px,#ede33a 0 163.7px,#edeb3c 0 164.8px,#ede93b 0 166.0px,#eded3c 0 167.2px,#edea3b 0 168.4px,#eded3c 0 169.6px,#ede43a 0 170.7px,#eeef3d 0 171.9px,#ede93b 0 174.3px,#ede73b 0 175.4px,#ede63b 0 176.6px,#edeb3c 0 177.8px,#ede73b 0 179.0px,#eded3c 0 180.2px,#edeb3c 0 181.3px,#eded3c 0 182.5px,#edeb3c 0 183.7px,#ede73b 0 184.9px,#ede93b 0 186.0px,#ede73b 0 187.2px,#ede63b 0 188.4px,#edee3c 0 189.6px,#ede53a 0 190.8px,#ede33a 0 191.9px,#ede73b 0 193.1px,#ece039 0 194.3px,#edea3b 0 195.5px,#eac433 0 196.6px,#ede23a 0 197.8px,#ecdd39 0 199.0px,#eabb31 0 200.2px,#ecdf39 0 201.4px,#eef63e 0 202.5px,#ecdc38 0 203.7px,#eef03d 0 206.1px,#ebcf36 0 207.2px,#ecd637 0 208.4px,#ecd737 0 209.6px,#edea3c 0 210.8px,#ecdf39 0 211.9px,#eef43e 0 213.1px,#ebc634 0 214.3px,#e9b630 0 215.5px,#e9b931 0 216.7px,#eef63e 0 217.8px,#ebcc35 0 219.0px,#ede63b 0 220.2px,#eef23d 0 221.4px,#ebd036 0 222.5px,#eded3c 0 223.7px,#eef23d 0 224.9px,#ecd938 0 226.1px,#eef53e 0 227.3px,#eef63e 0 228.4px,#eef33d 0 229.6px,#ebd336 0 230.8px,#ecde39 0 232.0px,#ebcb35 0 233.1px,#ede93b 0 234.3px,#eef33d 0 235.5px)"></div>
<div class="r" style="top:454.03px;height:8.77px;background:linear-gradient(90deg,#ecd637 0 1.2px,#ecdb38 0 2.4px,#ecd737 0 3.5px,#ecd938 0 4.7px,#ecd737 0 5.9px,#ecd537 0 7.1px,#ecdd39 0 8.2px,#ecdc38 0 9.4px,#ecd938 0 10.6px,#ecda38 0 11.8px,#ecd537 0 13.0px,#ecd637 0 14.1px,#ecd938 0 15.3px,#ecdd39 0 16.5px,#ecd737 0 17.7px,#ecd838 0 18.8px,#ecd437 0 20.0px,#ecda38 0 21.2px,#ecd637 0 23.6px,#ecd437 0 24.7px,#ecd938 0 25.9px,#ecdf39 0 27.1px,#ecdc39 0 28.3px,#ecd437 0 29.4px,#ecdf39 0 30.6px,#ecd837 0 31.8px,#ecdb38 0 33.0px,#ecda38 0 34.1px,#ede23a 0 35.3px,#ecd537 0 36.5px,#ecdb38 0 37.7px,#ecd938 0 38.9px,#ecd737 0 40.0px,#ecdb38 0 41.2px,#ecd537 0 42.4px,#ece039 0 43.6px,#ecdc38 0 44.7px,#ecd337 0 45.9px,#ecd938 0 47.1px,#ecd537 0 48.3px,#ecda38 0 49.5px,#ecd838 0 50.6px,#ecdf39 0 53.0px,#ecd537 0 54.2px,#ecd938 0 55.3px,#ecd537 0 56.5px,#ecdc38 0 57.7px,#ecda38 0 58.9px,#ecdd39 0 60.1px,#ecde39 0 61.2px,#ecd838 0 62.4px,#ecda38 0 63.6px,#ebd136 0 64.8px,#ecda38 0 65.9px,#ecd938 0 67.1px,#ecda38 0 68.3px,#ecd737 0 69.5px,#ede13a 0 70.7px,#ecd537 0 71.8px,#ecd737 0 74.2px,#ecdc39 0 75.4px,#ecda38 0 77.7px,#ecd437 0 78.9px,#ecdc38 0 80.1px,#ecd938 0 81.2px,#ecd537 0 82.4px,#ebcf36 0 83.6px,#ecdb38 0 84.8px,#ecd838 0 86.0px,#ebd036 0 87.1px,#ecdc38 0 89.5px,#ebd236 0 90.7px,#ecdb38 0 91.8px,#ecda38 0 93.0px,#ecd537 0 94.2px,#ecd637 0 95.4px,#ecd737 0 96.6px,#ecdc39 0 97.7px,#ecd637 0 98.9px,#ecd838 0 100.1px,#ecd737 0 101.3px,#ecd537 0 102.4px,#ecd938 0 103.6px,#ebd236 0 106.0px,#ebd136 0 107.2px,#ecda38 0 108.3px,#ecdf39 0 109.5px,#ecd938 0 110.7px,#ecd737 0 111.9px,#ecd838 0 113.0px,#ecd938 0 114.2px,#ecd737 0 115.4px,#ecd537 0 116.6px,#ecdc38 0 117.8px,#ecd837 0 118.9px,#ecd737 0 120.1px,#ecda38 0 121.3px,#ecdc38 0 122.5px,#ecd837 0 123.6px,#ecd938 0 124.8px,#ecd637 0 127.2px,#ecd938 0 128.3px,#ecda38 0 129.5px,#ecd838 0 130.7px,#ecda38 0 131.9px,#ecd537 0 133.1px,#ebd136 0 134.2px,#ebd236 0 135.4px,#ecda38 0 136.6px,#ebd136 0 137.8px,#ecd938 0 138.9px,#ecda38 0 140.1px,#ecd838 0 141.3px,#ecd537 0 142.5px,#ecd337 0 143.7px,#ecdb38 0 144.8px,#ebcf36 0 146.0px,#e69f2b 0 147.2px,#ecd838 0 148.4px,#ecd938 0 149.5px,#ecdc38 0 150.7px,#ecd537 0 151.9px,#ecdd39 0 153.1px,#ecda38 0 154.3px,#ecdb38 0 155.4px,#ebd136 0 156.6px,#ece139 0 157.8px,#d75e20 0 159.0px,#e59a2a 0 160.1px,#ebc934 0 161.3px,#eac533 0 162.5px,#ecdf39 0 163.7px,#ecdd39 0 164.8px,#ecde39 0 166.0px,#d96420 0 167.2px,#eef43e 0 168.4px,#ecdf39 0 169.6px,#e8ae2f 0 170.7px,#ecda38 0 171.9px,#e7a72d 0 173.1px,#ecdc38 0 174.3px,#ebc734 0 175.4px,#ede53a 0 176.6px,#ecd537 0 177.8px,#d86220 0 179.0px,#ecd737 0 180.2px,#d4581f 0 181.3px,#ecdb38 0 182.5px,#d55b1f 0 183.7px,#edec3c 0 184.9px,#ecd838 0 186.0px,#edeb3c 0 187.2px,#ecda38 0 188.4px,#ecd737 0 189.6px,#ede43a 0 190.8px,#ecd337 0 191.9px,#eef63e 0 193.1px,#ebd236 0 194.3px,#e7a62d 0 195.5px,#e7a92d 0 196.6px,#ecd537 0 197.8px,#ecd737 0 200.2px,#ebd036 0 201.4px,#ecd537 0 202.5px,#ede43a 0 203.7px,#d76020 0 204.9px,#ebc934 0 206.1px,#db6a21 0 207.2px,#d96420 0 208.4px,#ede23a 0 209.6px,#eac032 0 210.8px,#e9b730 0 211.9px,#ebd336 0 213.1px,#eac133 0 214.3px,#e6a52d 0 215.5px,#e59e2b 0 216.7px,#e6a22c 0 217.8px,#eabc31 0 219.0px,#da6821 0 220.2px,#e7a62d 0 221.4px,#ede63b 0 222.5px,#eac032 0 223.7px,#e39027 0 224.9px,#ebc634 0 226.1px,#ede13a 0 227.3px,#e7ab2e 0 228.4px,#ecd737 0 229.6px,#e9b731 0 230.8px,#ede43a 0 232.0px,#e9b630 0 233.1px,#ecd337 0 234.3px,#e9ba31 0 235.5px)"></div>
<div class="r" style="top:462.50px;height:8.77px;background:linear-gradient(90deg,#eef23d 0 1.2px,#eef63e 0 2.4px,#eef13d 0 3.5px,#eef63e 0 5.9px,#edef3c 0 7.1px,#eef53e 0 8.2px,#eef63e 0 11.8px,#eef13d 0 13.0px,#eef53e 0 14.1px,#eef23d 0 15.3px,#eef63e 0 16.5px,#eef43e 0 17.7px,#eef33d 0 18.8px,#eef53e 0 20.0px,#eeef3d 0 21.2px,#eef43e 0 22.4px,#eef23d 0 23.6px,#eef43e 0 24.7px,#eef53e 0 27.1px,#eef63e 0 29.4px,#eef03d 0 30.6px,#edeb3c 0 31.8px,#eef63e 0 35.3px,#eef43e 0 36.5px,#eef63e 0 37.7px,#eef13d 0 38.9px,#eef03d 0 40.0px,#eef63e 0 41.2px,#eef23d 0 42.4px,#eef63e 0 43.6px,#eef53e 0 44.7px,#eef63e 0 45.9px,#eef43e 0 47.1px,#eef63e 0 49.5px,#eef13d 0 50.6px,#edeb3c 0 51.8px,#eef63e 0 53.0px,#edec3c 0 54.2px,#eef53e 0 55.3px,#eef43e 0 56.5px,#eef63e 0 57.7px,#eef53e 0 58.9px,#eef63e 0 60.1px,#eef33d 0 61.2px,#eded3c 0 62.4px,#eef63e 0 64.8px,#eef43e 0 65.9px,#eef63e 0 67.1px,#eef43d 0 68.3px,#edef3c 0 69.5px,#eef03d 0 70.7px,#eef43e 0 71.8px,#eef63e 0 73.0px,#eef53e 0 74.2px,#ede83b 0 75.4px,#eef13d 0 76.5px,#eded3c 0 77.7px,#eeef3d 0 78.9px,#edec3c 0 80.1px,#eef33d 0 82.4px,#eef23d 0 83.6px,#eef33d 0 84.8px,#eef13d 0 86.0px,#eef33d 0 87.1px,#eef63e 0 88.3px,#eef23d 0 89.5px,#eeef3d 0 90.7px,#eef63e 0 91.8px,#edef3c 0 93.0px,#eef63e 0 94.2px,#eef33d 0 95.4px,#eef53e 0 96.6px,#eef13d 0 97.7px,#eef63e 0 98.9px,#eef13d 0 100.1px,#edef3c 0 101.3px,#eef13d 0 103.6px,#eef23d 0 104.8px,#eef43d 0 106.0px,#eef43e 0 107.2px,#eef33d 0 108.3px,#eef23d 0 109.5px,#eef03d 0 110.7px,#edec3c 0 111.9px,#eef03d 0 113.0px,#eef53e 0 114.2px,#eef23d 0 115.4px,#eef43e 0 116.6px,#eef23d 0 117.8px,#eef53e 0 118.9px,#edec3c 0 121.3px,#ede83b 0 122.5px,#edec3c 0 123.6px,#eef03d 0 124.8px,#edeb3c 0 126.0px,#eef63e 0 127.2px,#eef03d 0 128.3px,#edee3c 0 129.5px,#eef33d 0 131.9px,#eef53e 0 133.1px,#eeef3d 0 135.4px,#eef23d 0 136.6px,#eef53e 0 137.8px,#eef33d 0 138.9px,#eef13d 0 140.1px,#eded3c 0 141.3px,#edeb3c 0 142.5px,#eef33d 0 143.7px,#edef3c 0 144.8px,#eef13d 0 146.0px,#edec3c 0 147.2px,#eef63e 0 148.4px,#eef13d 0 149.5px,#eded3c 0 150.7px,#eeef3d 0 151.9px,#eded3c 0 153.1px,#a51feb 0 154.3px,#edeb3c 0 155.4px,#eef53e 0 156.6px,#eef13d 0 157.8px,#eef23d 0 159.0px,#eef53e 0 160.1px,#eef43e 0 161.3px,#ede93b 0 162.5px,#ecde39 0 163.7px,#edee3c 0 164.8px,#eef13d 0 166.0px,#edeb3c 0 167.2px,#eded3c 0 168.4px,#eef43e 0 169.6px,#eef53e 0 170.7px,#eef33d 0 171.9px,#ecd637 0 173.1px,#eef13d 0 174.3px,#a21df0 0 175.4px,#edeb3c 0 176.6px,#9317ff 0 177.8px,#9417ff 0 180.2px,#eef23d 0 181.3px,#e39328 0 182.5px,#e59e2b 0 183.7px,#e4992a 0 184.9px,#8114ff 0 186.0px,#ecd938 0 187.2px,#ecd838 0 188.4px,#edec3c 0 189.6px,#9217ff 0 190.8px,#edea3b 0 191.9px,#cc471d 0 193.1px,#c2371e 0 194.3px,#c4391d 0 195.5px,#8c16ff 0 196.6px,#9b18ff 0 197.8px,#9e1afa 0 199.0px,#ede73b 0 200.2px,#eef63e 0 201.4px,#a620e5 0 202.5px,#9f1bf7 0 203.7px,#8915ff 0 204.9px,#eef63e 0 207.2px,#edef3c 0 208.4px,#eef63e 0 209.6px,#9f1bf8 0 210.8px,#9517ff 0 211.9px,#9417ff 0 213.1px,#8e16ff 0 214.3px,#eeef3d 0 215.5px,#ede93b 0 216.7px,#c9411c 0 217.8px,#eef63e 0 220.2px,#e6a32c 0 221.4px,#eef43e 0 222.5px,#eef63e 0 223.7px,#a621d4 0 224.9px,#e08124 0 226.1px,#e39328 0 227.3px,#e7a62d 0 228.4px,#9a18ff 0 229.6px,#a31eed 0 230.8px,#e9b630 0 232.0px,#ecd437 0 233.1px,#ecd637 0 234.3px,#d96420 0 235.5px)"></div>
<div class="r" style="top:470.97px;height:8.77px;background:linear-gradient(90deg,#eef63e 0 1.2px,#eeef3d 0 2.4px,#eef13d 0 3.5px,#eef63e 0 4.7px,#eef23d 0 5.9px,#eef13d 0 7.1px,#eef33d 0 8.2px,#edee3c 0 9.4px,#eef13d 0 10.6px,#eded3c 0 11.8px,#eef23d 0 13.0px,#eef63e 0 16.5px,#edee3c 0 17.7px,#eef43e 0 18.8px,#eef23d 0 20.0px,#eef53e 0 21.2px,#eef43d 0 22.4px,#eef13d 0 23.6px,#eef43e 0 24.7px,#eef23d 0 25.9px,#eef53e 0 27.1px,#eef43e 0 28.3px,#eef33d 0 29.4px,#edeb3c 0 30.6px,#eef53e 0 31.8px,#eef13d 0 33.0px,#edef3c 0 34.1px,#eef63e 0 36.5px,#eef13d 0 37.7px,#eef33d 0 40.0px,#edef3c 0 41.2px,#eef13d 0 42.4px,#eef23d 0 43.6px,#eef63e 0 44.7px,#eef03d 0 45.9px,#eef13d 0 47.1px,#eef63e 0 48.3px,#edee3c 0 49.5px,#eef63e 0 51.8px,#edee3c 0 53.0px,#eef63e 0 54.2px,#edee3c 0 55.3px,#eef23d 0 56.5px,#eef63e 0 57.7px,#eeef3d 0 58.9px,#eef23d 0 61.2px,#edee3c 0 62.4px,#eeef3d 0 63.6px,#eef13d 0 64.8px,#eef03d 0 65.9px,#eef63e 0 68.3px,#eef33d 0 69.5px,#eef23d 0 70.7px,#eded3c 0 71.8px,#eef33d 0 73.0px,#eef13d 0 74.2px,#eded3c 0 75.4px,#edeb3c 0 76.5px,#eef53e 0 77.7px,#eef03d 0 78.9px,#eef63e 0 80.1px,#eef53e 0 81.2px,#eef43e 0 82.4px,#edeb3c 0 83.6px,#eded3c 0 84.8px,#eef33d 0 86.0px,#eef13d 0 87.1px,#eef63e 0 88.3px,#edec3c 0 89.5px,#eef13d 0 90.7px,#eef23d 0 91.8px,#eef13d 0 93.0px,#eef63e 0 96.6px,#edef3c 0 97.7px,#ede93b 0 98.9px,#eef53e 0 100.1px,#edee3c 0 101.3px,#eef43e 0 102.4px,#eef13d 0 103.6px,#eef23d 0 104.8px,#eef63e 0 107.2px,#edef3c 0 108.3px,#edec3c 0 109.5px,#eef63e 0 110.7px,#edee3c 0 111.9px,#eef23d 0 113.0px,#eded3c 0 114.2px,#eef13d 0 115.4px,#eef03d 0 116.6px,#eef43d 0 117.8px,#eef63e 0 118.9px,#eef33d 0 120.1px,#eef13d 0 121.3px,#eef23d 0 122.5px,#eded3c 0 123.6px,#eeef3d 0 124.8px,#eef63e 0 126.0px,#eef03d 0 127.2px,#eded3c 0 128.3px,#eef03d 0 131.9px,#eef33d 0 133.1px,#eeef3d 0 134.2px,#eef13d 0 135.4px,#edee3c 0 136.6px,#eef53e 0 137.8px,#eef23d 0 138.9px,#eef63e 0 140.1px,#eef33d 0 141.3px,#eded3c 0 142.5px,#edec3c 0 143.7px,#eeef3d 0 144.8px,#eef23d 0 146.0px,#eef13d 0 147.2px,#eef03d 0 148.4px,#eef33d 0 150.7px,#eef43e 0 151.9px,#eef63e 0 153.1px,#eded3c 0 154.3px,#edef3c 0 155.4px,#eef33d 0 156.6px,#eeef3d 0 157.8px,#edec3c 0 159.0px,#eef53e 0 160.1px,#edee3c 0 161.3px,#edec3c 0 162.5px,#eef33d 0 163.7px,#eef63e 0 164.8px,#eef13d 0 166.0px,#ede93b 0 167.2px,#eef23d 0 168.4px,#eef53e 0 169.6px,#eef63e 0 171.9px,#eef33d 0 173.1px,#8c16ff 0 174.3px,#eeef3d 0 175.4px,#eac233 0 176.6px,#eef53e 0 177.8px,#eef63e 0 181.3px,#ecde39 0 182.5px,#eef63e 0 183.7px,#edea3c 0 184.9px,#eef23d 0 186.0px,#9918ff 0 187.2px,#8f16ff 0 188.4px,#ede43a 0 189.6px,#eef33d 0 190.8px,#e8af2f 0 191.9px,#e7a72d 0 193.1px,#eef43e 0 194.3px,#eded3c 0 195.5px,#ecdd39 0 196.6px,#ede93b 0 197.8px,#eef63e 0 199.0px,#9818ff 0 200.2px,#eef43e 0 201.4px,#ede63b 0 202.5px,#eef23d 0 203.7px,#9918ff 0 204.9px,#e28826 0 206.1px,#eef43d 0 207.2px,#e18525 0 208.4px,#df7923 0 209.6px,#eef63e 0 213.1px,#e38f27 0 214.3px,#e28c27 0 215.5px,#eded3c 0 216.7px,#ebc734 0 217.8px,#eef63e 0 221.4px,#a11cf3 0 222.5px,#edeb3c 0 223.7px,#8b16ff 0 224.9px,#9717ff 0 226.1px,#e07d24 0 227.3px,#eef63e 0 228.4px,#8d16ff 0 229.6px,#eef63e 0 230.8px,#a21def 0 232.0px,#a31eee 0 233.1px,#ebcd35 0 234.3px,#ede63b 0 235.5px)"></div>
<div class="r" style="top:479.43px;height:8.77px;background:linear-gradient(90deg,#ecda38 0 1.2px,#ecdc38 0 2.4px,#ece039 0 3.5px,#ecdf39 0 4.7px,#ede43a 0 5.9px,#ecde39 0 7.1px,#ece039 0 8.2px,#ecdb38 0 9.4px,#ecde39 0 10.6px,#ede53a 0 11.8px,#ece139 0 13.0px,#ece039 0 15.3px,#ecd838 0 16.5px,#ede33a 0 17.7px,#ede23a 0 18.8px,#ecdf39 0 20.0px,#ece039 0 22.4px,#ecde39 0 23.6px,#ede23a 0 24.7px,#ecdc39 0 25.9px,#ecde39 0 27.1px,#ece039 0 29.4px,#ecdf39 0 30.6px,#ecdc38 0 31.8px,#ecdd39 0 33.0px,#ece139 0 34.1px,#ecde39 0 35.3px,#ece139 0 36.5px,#ecdc38 0 37.7px,#ecdf39 0 40.0px,#ecde39 0 41.2px,#ede23a 0 42.4px,#ecdd39 0 43.6px,#ecdf39 0 44.7px,#ecde39 0 45.9px,#ecdf39 0 47.1px,#ecdc38 0 48.3px,#ece039 0 49.5px,#ecda38 0 50.6px,#ecde39 0 51.8px,#ece039 0 53.0px,#ecde39 0 54.2px,#ece039 0 55.3px,#ecde39 0 56.5px,#ecdd39 0 57.7px,#ecdf39 0 58.9px,#ecde39 0 60.1px,#ecdc38 0 61.2px,#ecda38 0 62.4px,#ecdb38 0 63.6px,#ecdd39 0 64.8px,#ece039 0 65.9px,#ecd838 0 67.1px,#ecde39 0 68.3px,#ede33a 0 69.5px,#ecda38 0 70.7px,#ecdc38 0 74.2px,#ecde39 0 75.4px,#ecdb38 0 76.5px,#ecdf39 0 77.7px,#ecd737 0 78.9px,#ece139 0 80.1px,#ecdf39 0 81.2px,#ede33a 0 82.4px,#ecda38 0 83.6px,#ecdd39 0 84.8px,#ede23a 0 86.0px,#ede73b 0 87.1px,#ede43a 0 88.3px,#ecdc38 0 89.5px,#ecde39 0 90.7px,#ecdb38 0 91.8px,#ecd838 0 93.0px,#ecda38 0 94.2px,#ecde39 0 95.4px,#ecd938 0 96.6px,#ecdc38 0 97.7px,#ecdd39 0 98.9px,#ecdc38 0 100.1px,#ecdf39 0 101.3px,#ecd437 0 102.4px,#ecdd39 0 103.6px,#ecdf39 0 104.8px,#ece039 0 106.0px,#ecdc39 0 107.2px,#ecdc38 0 108.3px,#ecdd39 0 109.5px,#ecda38 0 110.7px,#ecdd39 0 111.9px,#ecde39 0 113.0px,#ecdb38 0 114.2px,#ede23a 0 115.4px,#ecdd39 0 116.6px,#ece039 0 117.8px,#ecd737 0 118.9px,#ecdc38 0 120.1px,#ede33a 0 121.3px,#ecdc38 0 122.5px,#ecdd39 0 123.6px,#ede23a 0 124.8px,#ecdc38 0 126.0px,#ecdb38 0 127.2px,#ecdd39 0 128.3px,#ecda38 0 129.5px,#ecdb38 0 131.9px,#ecd938 0 133.1px,#ece039 0 134.2px,#ecdc38 0 135.4px,#ecde39 0 137.8px,#ece039 0 140.1px,#ecdb38 0 142.5px,#ecde39 0 143.7px,#ecd938 0 144.8px,#ecdf39 0 147.2px,#ecd737 0 148.4px,#ede63b 0 149.5px,#ecdc38 0 150.7px,#ede23a 0 151.9px,#ecd737 0 153.1px,#e49529 0 154.3px,#ecde39 0 155.4px,#ede13a 0 156.6px,#ecdf39 0 157.8px,#ecde39 0 159.0px,#ecdc38 0 160.1px,#ecdf39 0 161.3px,#ece039 0 162.5px,#ecd838 0 163.7px,#ecd637 0 164.8px,#ecdc38 0 166.0px,#ecdf39 0 167.2px,#ede63b 0 168.4px,#ede23a 0 169.6px,#ecdd39 0 170.7px,#ede53a 0 171.9px,#ecd838 0 173.1px,#ecdb38 0 174.3px,#edeb3c 0 175.4px,#ecdc38 0 176.6px,#ecd637 0 177.8px,#ecd938 0 179.0px,#ebce35 0 180.2px,#ecd737 0 181.3px,#ebd236 0 182.5px,#db6c21 0 183.7px,#e18725 0 184.9px,#ede83b 0 186.0px,#ede53a 0 187.2px,#dc6d21 0 188.4px,#e08024 0 189.6px,#ecd437 0 190.8px,#a621d9 0 191.9px,#edec3c 0 193.1px,#ecde39 0 194.3px,#ebcf36 0 195.5px,#ecdd39 0 196.6px,#ebd036 0 197.8px,#c0341e 0 199.0px,#ecd437 0 200.2px,#9d1afa 0 201.4px,#ede13a 0 202.5px,#ecdb38 0 203.7px,#df7c23 0 204.9px,#e59f2b 0 206.1px,#da6721 0 207.2px,#e07c24 0 208.4px,#ebc534 0 209.6px,#ecd637 0 210.8px,#ede73b 0 211.9px,#ece139 0 213.1px,#9d1afa 0 214.3px,#e59e2b 0 215.5px,#e8ae2f 0 216.7px,#a621d5 0 217.8px,#eded3c 0 219.0px,#a31def 0 220.2px,#eef63e 0 221.4px,#e18525 0 222.5px,#c43a1d 0 223.7px,#eabc32 0 224.9px,#a723b9 0 226.1px,#ede43a 0 227.3px,#ecd838 0 228.4px,#eef43e 0 229.6px,#e38f27 0 230.8px,#a620e9 0 232.0px,#ca421c 0 233.1px,#ece139 0 234.3px,#e9b530 0 235.5px)"></div></div>
<svg width="685" height="518" viewBox="0 0 685 518">
<defs><linearGradient id="cm" x1="0" y1="0" x2="0" y2="1"><stop offset="0.000" stop-color="#eef63e"/><stop offset="0.025" stop-color="#ede83b"/><stop offset="0.050" stop-color="#ecda38"/><stop offset="0.075" stop-color="#ebcc35"/><stop offset="0.100" stop-color="#eabe32"/><stop offset="0.125" stop-color="#e8b02f"/><stop offset="0.150" stop-color="#e6a22c"/><stop offset="0.175" stop-color="#e49629"/><stop offset="0.200" stop-color="#e28a26"/><stop offset="0.225" stop-color="#e07f24"/><stop offset="0.250" stop-color="#de7422"/><stop offset="0.275" stop-color="#db6b21"/><stop offset="0.300" stop-color="#d86220"/><stop offset="0.325" stop-color="#d55a1f"/><stop offset="0.350" stop-color="#d2521e"/><stop offset="0.375" stop-color="#ce4a1d"/><stop offset="0.400" stop-color="#ca421c"/><stop offset="0.425" stop-color="#c53b1d"/><stop offset="0.450" stop-color="#c0341e"/><stop offset="0.475" stop-color="#bb2f27"/><stop offset="0.500" stop-color="#b62a30"/><stop offset="0.525" stop-color="#b1284f"/><stop offset="0.550" stop-color="#ac266e"/><stop offset="0.575" stop-color="#aa258d"/><stop offset="0.600" stop-color="#a724ac"/><stop offset="0.625" stop-color="#a622ca"/><stop offset="0.650" stop-color="#a620e8"/><stop offset="0.675" stop-color="#a01cf4"/><stop offset="0.700" stop-color="#9b18ff"/><stop offset="0.725" stop-color="#8e16ff"/><stop offset="0.750" stop-color="#8014ff"/><stop offset="0.775" stop-color="#7213fc"/><stop offset="0.800" stop-color="#6412fa"/><stop offset="0.825" stop-color="#5b11e1"/><stop offset="0.850" stop-color="#5210c8"/><stop offset="0.875" stop-color="#480eaa"/><stop offset="0.900" stop-color="#3e0c8c"/><stop offset="0.925" stop-color="#310868"/><stop offset="0.950" stop-color="#240544"/><stop offset="0.975" stop-color="#160224"/><stop offset="1.000" stop-color="#0c000e"/></linearGradient></defs>
<rect x="50.20" y="23.50" width="56.70" height="182.80" fill="#c3dfef"/>
<rect x="106.90" y="23.50" width="102.10" height="182.80" fill="#e2f6d4"/>
<rect x="209.00" y="23.50" width="36.00" height="182.80" fill="#d9c9ea"/>
<rect x="245.00" y="23.50" width="73.90" height="182.80" fill="#c3dfef"/>
<line x1="42.90" x2="319.50" y1="206.30" y2="206.30" stroke="#c3cbd2" stroke-width="0.6" stroke-dasharray="1 1.4"/>
<line x1="42.90" x2="319.50" y1="170.10" y2="170.10" stroke="#c3cbd2" stroke-width="0.6" stroke-dasharray="1 1.4"/>
<line x1="42.90" x2="319.50" y1="133.90" y2="133.90" stroke="#c3cbd2" stroke-width="0.6" stroke-dasharray="1 1.4"/>
<line x1="42.90" x2="319.50" y1="97.70" y2="97.70" stroke="#c3cbd2" stroke-width="0.6" stroke-dasharray="1 1.4"/>
<line x1="42.90" x2="319.50" y1="61.50" y2="61.50" stroke="#c3cbd2" stroke-width="0.6" stroke-dasharray="1 1.4"/>
<line x1="42.90" x2="319.50" y1="25.30" y2="25.30" stroke="#c3cbd2" stroke-width="0.6" stroke-dasharray="1 1.4"/>
<rect x="55.75" y="65.48" width="3.20" height="140.82" fill="#bd3a5a" stroke="#8c2f47" stroke-width="0.6"/>
<rect x="62.55" y="49.19" width="3.40" height="157.11" fill="#bd3a5a" stroke="#8c2f47" stroke-width="0.6"/>
<rect x="69.35" y="42.13" width="3.20" height="164.17" fill="#bd3a5a" stroke="#8c2f47" stroke-width="0.6"/>
<rect x="76.25" y="37.43" width="3.10" height="168.87" fill="#bd3a5a" stroke="#8c2f47" stroke-width="0.6"/>
<rect x="83.35" y="32.72" width="3.00" height="173.58" fill="#bd3a5a" stroke="#8c2f47" stroke-width="0.6"/>
<rect x="93.45" y="32.00" width="3.10" height="174.30" fill="#bd3a5a" stroke="#8c2f47" stroke-width="0.6"/>
<rect x="111.45" y="56.43" width="3.10" height="149.87" fill="#e25a3b" stroke="#b04630" stroke-width="0.6"/>
<rect x="118.45" y="93.54" width="3.20" height="112.76" fill="#e25a3b" stroke="#b04630" stroke-width="0.6"/>
<rect x="125.25" y="113.27" width="3.20" height="93.03" fill="#e25a3b" stroke="#b04630" stroke-width="0.6"/>
<rect x="132.15" y="118.15" width="3.20" height="88.15" fill="#e25a3b" stroke="#b04630" stroke-width="0.6"/>
<rect x="138.85" y="141.86" width="3.10" height="64.44" fill="#e25a3b" stroke="#b04630" stroke-width="0.6"/>
<rect x="145.65" y="150.19" width="3.00" height="56.11" fill="#e25a3b" stroke="#b04630" stroke-width="0.6"/>
<rect x="152.45" y="152.00" width="3.00" height="54.30" fill="#e25a3b" stroke="#b04630" stroke-width="0.6"/>
<rect x="159.05" y="163.22" width="3.20" height="43.08" fill="#e25a3b" stroke="#b04630" stroke-width="0.6"/>
<rect x="165.35" y="166.84" width="3.20" height="39.46" fill="#e25a3b" stroke="#b04630" stroke-width="0.6"/>
<rect x="174.65" y="164.13" width="3.00" height="42.17" fill="#e25a3b" stroke="#b04630" stroke-width="0.6"/>
<rect x="181.25" y="171.19" width="3.20" height="35.11" fill="#e25a3b" stroke="#b04630" stroke-width="0.6"/>
<rect x="188.45" y="173.36" width="3.30" height="32.94" fill="#e25a3b" stroke="#b04630" stroke-width="0.6"/>
<rect x="198.15" y="171.73" width="3.30" height="34.57" fill="#e25a3b" stroke="#b04630" stroke-width="0.6"/>
<rect x="210.45" y="190.01" width="3.20" height="16.29" fill="#dc3450" stroke="#a52a40" stroke-width="0.6"/>
<rect x="217.65" y="190.37" width="3.20" height="15.93" fill="#dc3450" stroke="#a52a40" stroke-width="0.6"/>
<rect x="225.45" y="194.72" width="2.90" height="11.58" fill="#dc3450" stroke="#a52a40" stroke-width="0.6"/>
<rect x="232.05" y="196.34" width="3.00" height="9.96" fill="#dc3450" stroke="#a52a40" stroke-width="0.6"/>
<rect x="252.05" y="184.94" width="3.00" height="21.36" fill="#bd3a5a" stroke="#8c2f47" stroke-width="0.6"/>
<rect x="259.05" y="160.33" width="3.00" height="45.97" fill="#bd3a5a" stroke="#8c2f47" stroke-width="0.6"/>
<rect x="265.45" y="144.22" width="3.20" height="62.08" fill="#bd3a5a" stroke="#8c2f47" stroke-width="0.6"/>
<rect x="273.05" y="129.38" width="3.20" height="76.93" fill="#bd3a5a" stroke="#8c2f47" stroke-width="0.6"/>
<rect x="280.95" y="116.16" width="3.20" height="90.14" fill="#bd3a5a" stroke="#8c2f47" stroke-width="0.6"/>
<rect x="289.35" y="98.61" width="3.20" height="107.69" fill="#bd3a5a" stroke="#8c2f47" stroke-width="0.6"/>
<rect x="296.15" y="76.52" width="3.10" height="129.78" fill="#bd3a5a" stroke="#8c2f47" stroke-width="0.6"/>
<rect x="303.45" y="68.38" width="3.00" height="137.92" fill="#bd3a5a" stroke="#8c2f47" stroke-width="0.6"/>
<polyline points="57.35,65.48 64.25,49.19 70.95,42.13 77.80,37.43 84.85,32.72 95.00,32.00 113.00,56.43 120.05,93.54 126.85,113.27 133.75,118.15 140.40,141.86 147.15,150.19 153.95,152.00 160.65,163.22 166.95,166.84 176.15,164.13 182.85,171.19 190.10,173.36 199.80,171.73 212.05,190.01 219.25,190.37 226.90,194.72 233.55,196.34 253.55,184.94 260.55,160.33 267.05,144.22 274.65,129.38 282.55,116.16 290.95,98.61 297.70,76.52 304.95,68.38" fill="none" stroke="#3535ff" stroke-width="1.0" stroke-linejoin="round"/>
<rect x="308" y="27.5" width="8" height="7.0" rx="1.5" fill="none" stroke="#d2dde6" stroke-width="0.8"/>
<line x1="42.90" x2="319.50" y1="23.50" y2="23.50" stroke="#8a8a8a" stroke-width="1"/>
<line x1="319.50" x2="319.50" y1="23.50" y2="206.30" stroke="#8a8a8a" stroke-width="1"/>
<line x1="42.90" x2="42.90" y1="23.50" y2="206.30" stroke="#cdcdcd" stroke-width="1.4"/>
<line x1="42.90" x2="319.50" y1="206.30" y2="206.30" stroke="#96a0a8" stroke-width="1"/>
<line x1="41.30" x2="42.90" y1="206.30" y2="206.30" stroke="#666" stroke-width="0.8"/>
<text x="39.10" y="209.90" font-size="10.2" textLength="14.60" lengthAdjust="spacingAndGlyphs" text-anchor="end" fill="#222" >0.0</text>
<line x1="41.30" x2="42.90" y1="170.10" y2="170.10" stroke="#666" stroke-width="0.8"/>
<text x="39.10" y="173.70" font-size="10.2" textLength="14.60" lengthAdjust="spacingAndGlyphs" text-anchor="end" fill="#222" >0.2</text>
<line x1="41.30" x2="42.90" y1="133.90" y2="133.90" stroke="#666" stroke-width="0.8"/>
<text x="39.10" y="137.50" font-size="10.2" textLength="14.60" lengthAdjust="spacingAndGlyphs" text-anchor="end" fill="#222" >0.4</text>
<line x1="41.30" x2="42.90" y1="97.70" y2="97.70" stroke="#666" stroke-width="0.8"/>
<text x="39.10" y="101.30" font-size="10.2" textLength="14.60" lengthAdjust="spacingAndGlyphs" text-anchor="end" fill="#222" >0.6</text>
<line x1="41.30" x2="42.90" y1="61.50" y2="61.50" stroke="#666" stroke-width="0.8"/>
<text x="39.10" y="65.10" font-size="10.2" textLength="14.60" lengthAdjust="spacingAndGlyphs" text-anchor="end" fill="#222" >0.8</text>
<line x1="41.30" x2="42.90" y1="25.30" y2="25.30" stroke="#666" stroke-width="0.8"/>
<text x="39.10" y="28.90" font-size="10.2" textLength="14.60" lengthAdjust="spacingAndGlyphs" text-anchor="end" fill="#222" >1.0</text>
<line x1="61.60" x2="61.60" y1="206.30" y2="207.90" stroke="#666" stroke-width="0.8"/>
<text x="61.60" y="216.70" font-size="10.3" textLength="12.00" lengthAdjust="spacingAndGlyphs" text-anchor="middle" fill="#222" >25</text>
<line x1="99.80" x2="99.80" y1="206.30" y2="207.90" stroke="#666" stroke-width="0.8"/>
<text x="99.80" y="216.70" font-size="10.3" textLength="12.00" lengthAdjust="spacingAndGlyphs" text-anchor="middle" fill="#222" >50</text>
<line x1="138.00" x2="138.00" y1="206.30" y2="207.90" stroke="#666" stroke-width="0.8"/>
<text x="138.00" y="216.70" font-size="10.3" textLength="12.00" lengthAdjust="spacingAndGlyphs" text-anchor="middle" fill="#222" >75</text>
<line x1="176.20" x2="176.20" y1="206.30" y2="207.90" stroke="#666" stroke-width="0.8"/>
<text x="176.20" y="216.70" font-size="10.3" textLength="18.30" lengthAdjust="spacingAndGlyphs" text-anchor="middle" fill="#222" >100</text>
<line x1="214.40" x2="214.40" y1="206.30" y2="207.90" stroke="#666" stroke-width="0.8"/>
<text x="214.40" y="216.70" font-size="10.3" textLength="18.30" lengthAdjust="spacingAndGlyphs" text-anchor="middle" fill="#222" >125</text>
<line x1="252.60" x2="252.60" y1="206.30" y2="207.90" stroke="#666" stroke-width="0.8"/>
<text x="252.60" y="216.70" font-size="10.3" textLength="18.30" lengthAdjust="spacingAndGlyphs" text-anchor="middle" fill="#222" >150</text>
<line x1="290.80" x2="290.80" y1="206.30" y2="207.90" stroke="#666" stroke-width="0.8"/>
<text x="290.80" y="216.70" font-size="10.3" textLength="18.30" lengthAdjust="spacingAndGlyphs" text-anchor="middle" fill="#222" >175</text>
<text x="53.30" y="32.90" font-size="10" textLength="32.60" lengthAdjust="spacingAndGlyphs" fill="#222" >900 °C</text>
<text x="145.40" y="110.00" font-size="10" textLength="32.80" lengthAdjust="spacingAndGlyphs" fill="#222" >850 °C</text>
<text x="210.20" y="166.40" font-size="10" textLength="32.80" lengthAdjust="spacingAndGlyphs" fill="#222" >800 °C</text>
<text x="269.00" y="67.20" font-size="10" textLength="33.30" lengthAdjust="spacingAndGlyphs" fill="#222" >900 °C</text>
<rect x="390.20" y="23.20" width="59.00" height="183.10" fill="#c3dfef"/>
<rect x="449.20" y="23.20" width="104.00" height="183.10" fill="#e2f6d4"/>
<rect x="553.20" y="23.20" width="26.30" height="183.10" fill="#d9c9ea"/>
<rect x="579.50" y="23.20" width="75.30" height="183.10" fill="#c3dfef"/>
<line x1="380.60" x2="657.50" y1="206.30" y2="206.30" stroke="#c3cbd2" stroke-width="0.6" stroke-dasharray="1 1.4"/>
<line x1="380.60" x2="657.50" y1="170.70" y2="170.70" stroke="#c3cbd2" stroke-width="0.6" stroke-dasharray="1 1.4"/>
<line x1="380.60" x2="657.50" y1="135.10" y2="135.10" stroke="#c3cbd2" stroke-width="0.6" stroke-dasharray="1 1.4"/>
<line x1="380.60" x2="657.50" y1="99.50" y2="99.50" stroke="#c3cbd2" stroke-width="0.6" stroke-dasharray="1 1.4"/>
<line x1="380.60" x2="657.50" y1="63.90" y2="63.90" stroke="#c3cbd2" stroke-width="0.6" stroke-dasharray="1 1.4"/>
<line x1="380.60" x2="657.50" y1="28.30" y2="28.30" stroke="#c3cbd2" stroke-width="0.6" stroke-dasharray="1 1.4"/>
<rect x="394.05" y="44.14" width="3.50" height="162.16" fill="#bd3a5a" stroke="#8c2f47" stroke-width="0.6"/>
<rect x="405.35" y="41.83" width="3.60" height="164.47" fill="#bd3a5a" stroke="#8c2f47" stroke-width="0.6"/>
<rect x="412.95" y="38.98" width="3.50" height="167.32" fill="#bd3a5a" stroke="#8c2f47" stroke-width="0.6"/>
<rect x="421.55" y="33.11" width="3.50" height="173.19" fill="#bd3a5a" stroke="#8c2f47" stroke-width="0.6"/>
<rect x="428.75" y="33.11" width="3.50" height="173.19" fill="#bd3a5a" stroke="#8c2f47" stroke-width="0.6"/>
<rect x="436.75" y="32.39" width="3.50" height="173.91" fill="#bd3a5a" stroke="#8c2f47" stroke-width="0.6"/>
<rect x="444.65" y="34.17" width="3.20" height="172.13" fill="#bd3a5a" stroke="#8c2f47" stroke-width="0.6"/>
<rect x="449.65" y="178.18" width="3.10" height="28.12" fill="#e25a3b" stroke="#b04630" stroke-width="0.6"/>
<rect x="460.25" y="197.04" width="3.30" height="9.26" fill="#e25a3b" stroke="#b04630" stroke-width="0.6"/>
<rect x="471.35" y="196.15" width="3.30" height="10.15" fill="#e25a3b" stroke="#b04630" stroke-width="0.6"/>
<rect x="482.15" y="197.04" width="3.30" height="9.26" fill="#e25a3b" stroke="#b04630" stroke-width="0.6"/>
<rect x="495.25" y="198.65" width="3.40" height="7.65" fill="#e25a3b" stroke="#b04630" stroke-width="0.6"/>
<rect x="506.35" y="194.55" width="3.30" height="11.75" fill="#e25a3b" stroke="#b04630" stroke-width="0.6"/>
<rect x="517.15" y="196.33" width="3.20" height="9.97" fill="#e25a3b" stroke="#b04630" stroke-width="0.6"/>
<rect x="528.45" y="194.91" width="3.20" height="11.39" fill="#e25a3b" stroke="#b04630" stroke-width="0.6"/>
<rect x="539.55" y="197.22" width="3.10" height="9.08" fill="#e25a3b" stroke="#b04630" stroke-width="0.6"/>
<rect x="546.55" y="194.91" width="3.10" height="11.39" fill="#e25a3b" stroke="#b04630" stroke-width="0.6"/>
<rect x="553.75" y="203.99" width="3.20" height="2.31" fill="#dc3450" stroke="#a52a40" stroke-width="0.6"/>
<rect x="561.75" y="203.99" width="3.00" height="2.31" fill="#dc3450" stroke="#a52a40" stroke-width="0.6"/>
<rect x="569.35" y="203.27" width="3.00" height="3.03" fill="#dc3450" stroke="#a52a40" stroke-width="0.6"/>
<rect x="576.35" y="204.16" width="3.00" height="2.14" fill="#dc3450" stroke="#a52a40" stroke-width="0.6"/>
<rect x="580.55" y="51.26" width="3.30" height="155.04" fill="#bd3a5a" stroke="#8c2f47" stroke-width="0.6"/>
<rect x="591.65" y="43.43" width="3.20" height="162.87" fill="#bd3a5a" stroke="#8c2f47" stroke-width="0.6"/>
<rect x="603.85" y="41.83" width="3.60" height="164.47" fill="#bd3a5a" stroke="#8c2f47" stroke-width="0.6"/>
<rect x="614.35" y="39.16" width="3.70" height="167.14" fill="#bd3a5a" stroke="#8c2f47" stroke-width="0.6"/>
<rect x="628.15" y="34.89" width="3.50" height="171.41" fill="#bd3a5a" stroke="#8c2f47" stroke-width="0.6"/>
<rect x="640.65" y="34.89" width="3.70" height="171.41" fill="#bd3a5a" stroke="#8c2f47" stroke-width="0.6"/>
<polyline points="395.80,44.14 407.15,41.83 414.70,38.98 423.30,33.11 430.50,33.11 438.50,32.39 446.25,34.17 451.20,178.18 461.90,197.04 473.00,196.15 483.80,197.04 496.95,198.65 508.00,194.55 518.75,196.33 530.05,194.91 541.10,197.22 548.10,194.91 555.35,203.99 563.25,203.99 570.85,203.27 577.85,204.16 582.20,51.26 593.25,43.43 605.65,41.83 616.20,39.16 629.90,34.89 642.50,34.89" fill="none" stroke="#3535ff" stroke-width="1.0" stroke-linejoin="round"/>
<rect x="646.3" y="27.7" width="7.100000000000023" height="6.099999999999998" rx="1.5" fill="none" stroke="#d2dde6" stroke-width="0.8"/>
<line x1="380.60" x2="657.50" y1="23.20" y2="23.20" stroke="#8a8a8a" stroke-width="1"/>
<line x1="657.50" x2="657.50" y1="23.20" y2="206.30" stroke="#8a8a8a" stroke-width="1"/>
<line x1="380.60" x2="380.60" y1="23.20" y2="206.30" stroke="#cdcdcd" stroke-width="1.4"/>
<line x1="380.60" x2="657.50" y1="206.30" y2="206.30" stroke="#96a0a8" stroke-width="1"/>
<line x1="379.00" x2="380.60" y1="206.30" y2="206.30" stroke="#666" stroke-width="0.8"/>
<text x="376.80" y="209.90" font-size="10.2" textLength="14.60" lengthAdjust="spacingAndGlyphs" text-anchor="end" fill="#222" >0.0</text>
<line x1="379.00" x2="380.60" y1="170.70" y2="170.70" stroke="#666" stroke-width="0.8"/>
<text x="376.80" y="174.30" font-size="10.2" textLength="14.60" lengthAdjust="spacingAndGlyphs" text-anchor="end" fill="#222" >0.2</text>
<line x1="379.00" x2="380.60" y1="135.10" y2="135.10" stroke="#666" stroke-width="0.8"/>
<text x="376.80" y="138.70" font-size="10.2" textLength="14.60" lengthAdjust="spacingAndGlyphs" text-anchor="end" fill="#222" >0.4</text>
<line x1="379.00" x2="380.60" y1="99.50" y2="99.50" stroke="#666" stroke-width="0.8"/>
<text x="376.80" y="103.10" font-size="10.2" textLength="14.60" lengthAdjust="spacingAndGlyphs" text-anchor="end" fill="#222" >0.6</text>
<line x1="379.00" x2="380.60" y1="63.90" y2="63.90" stroke="#666" stroke-width="0.8"/>
<text x="376.80" y="67.50" font-size="10.2" textLength="14.60" lengthAdjust="spacingAndGlyphs" text-anchor="end" fill="#222" >0.8</text>
<line x1="379.00" x2="380.60" y1="28.30" y2="28.30" stroke="#666" stroke-width="0.8"/>
<text x="376.80" y="31.90" font-size="10.2" textLength="14.60" lengthAdjust="spacingAndGlyphs" text-anchor="end" fill="#222" >1.0</text>
<line x1="406.30" x2="406.30" y1="206.30" y2="207.90" stroke="#666" stroke-width="0.8"/>
<text x="406.30" y="216.70" font-size="10.3" textLength="12.00" lengthAdjust="spacingAndGlyphs" text-anchor="middle" fill="#222" >40</text>
<line x1="440.62" x2="440.62" y1="206.30" y2="207.90" stroke="#666" stroke-width="0.8"/>
<text x="440.62" y="216.70" font-size="10.3" textLength="12.00" lengthAdjust="spacingAndGlyphs" text-anchor="middle" fill="#222" >60</text>
<line x1="474.94" x2="474.94" y1="206.30" y2="207.90" stroke="#666" stroke-width="0.8"/>
<text x="474.94" y="216.70" font-size="10.3" textLength="12.00" lengthAdjust="spacingAndGlyphs" text-anchor="middle" fill="#222" >80</text>
<line x1="509.26" x2="509.26" y1="206.30" y2="207.90" stroke="#666" stroke-width="0.8"/>
<text x="509.26" y="216.70" font-size="10.3" textLength="18.30" lengthAdjust="spacingAndGlyphs" text-anchor="middle" fill="#222" >100</text>
<line x1="543.58" x2="543.58" y1="206.30" y2="207.90" stroke="#666" stroke-width="0.8"/>
<text x="543.58" y="216.70" font-size="10.3" textLength="18.30" lengthAdjust="spacingAndGlyphs" text-anchor="middle" fill="#222" >120</text>
<line x1="577.90" x2="577.90" y1="206.30" y2="207.90" stroke="#666" stroke-width="0.8"/>
<text x="577.90" y="216.70" font-size="10.3" textLength="18.30" lengthAdjust="spacingAndGlyphs" text-anchor="middle" fill="#222" >140</text>
<line x1="612.22" x2="612.22" y1="206.30" y2="207.90" stroke="#666" stroke-width="0.8"/>
<text x="612.22" y="216.70" font-size="10.3" textLength="18.30" lengthAdjust="spacingAndGlyphs" text-anchor="middle" fill="#222" >160</text>
<line x1="646.54" x2="646.54" y1="206.30" y2="207.90" stroke="#666" stroke-width="0.8"/>
<text x="646.54" y="216.70" font-size="10.3" textLength="18.30" lengthAdjust="spacingAndGlyphs" text-anchor="middle" fill="#222" >180</text>
<text x="391.90" y="32.80" font-size="10" textLength="32.80" lengthAdjust="spacingAndGlyphs" fill="#222" >900 °C</text>
<text x="487.70" y="182.70" font-size="10" textLength="32.60" lengthAdjust="spacingAndGlyphs" fill="#222" >850 °C</text>
<text x="545.60" y="188.90" font-size="10" textLength="32.10" lengthAdjust="spacingAndGlyphs" fill="#222" >800 °C</text>
<text x="585.50" y="34.00" font-size="10" textLength="32.50" lengthAdjust="spacingAndGlyphs" fill="#222" >900 °C</text>
<text x="155.30" y="227.70" font-size="10.2" textLength="52.10" lengthAdjust="spacingAndGlyphs" fill="#222" >Time (min)</text>
<text x="492.90" y="227.80" font-size="10.2" textLength="52.30" lengthAdjust="spacingAndGlyphs" fill="#222" >Time (min)</text>
<text x="21.20" y="152.60" font-size="10.2" textLength="75.60" lengthAdjust="spacingAndGlyphs" transform="rotate(-90 21.20 152.60)" fill="#222" >Fraction of CoO</text>
<text x="359.20" y="152.60" font-size="10.2" textLength="75.20" lengthAdjust="spacingAndGlyphs" transform="rotate(-90 359.20 152.60)" fill="#222" >Fraction of CoO</text>
<text x="0.50" y="9.40" font-size="13" textLength="14.20" lengthAdjust="spacingAndGlyphs" fill="#222" >(A)</text>
<text x="336.80" y="9.50" font-size="13" textLength="15.00" lengthAdjust="spacingAndGlyphs" fill="#222" >(B)</text>
<text x="-0.20" y="246.90" font-size="13" textLength="14.40" lengthAdjust="spacingAndGlyphs" fill="#222" >(C)</text>
<text x="336.90" y="246.90" font-size="13" textLength="15.00" lengthAdjust="spacingAndGlyphs" fill="#222" >(D)</text>
<path d="M41.50,259.00H277.30V487.20H41.50" fill="none" stroke="#444" stroke-width="0.6"/>
<line x1="41.50" x2="41.50" y1="259.00" y2="487.20" stroke="#999" stroke-width="0.7"/>
<line x1="39.50" x2="41.50" y1="450.39" y2="450.39" stroke="#444" stroke-width="0.7"/>
<line x1="39.50" x2="41.50" y1="413.59" y2="413.59" stroke="#444" stroke-width="0.7"/>
<line x1="39.50" x2="41.50" y1="376.78" y2="376.78" stroke="#444" stroke-width="0.7"/>
<line x1="39.50" x2="41.50" y1="339.97" y2="339.97" stroke="#444" stroke-width="0.7"/>
<line x1="39.50" x2="41.50" y1="303.17" y2="303.17" stroke="#444" stroke-width="0.7"/>
<line x1="39.50" x2="41.50" y1="266.36" y2="266.36" stroke="#444" stroke-width="0.7"/>
<line x1="41.50" x2="41.50" y1="487.20" y2="489.80" stroke="#444" stroke-width="0.7"/>
<text x="41.50" y="500.30" font-size="12" text-anchor="middle" fill="#222" >0</text>
<line x1="70.97" x2="70.97" y1="487.20" y2="488.80" stroke="#444" stroke-width="0.7"/>
<line x1="100.45" x2="100.45" y1="487.20" y2="489.80" stroke="#444" stroke-width="0.7"/>
<text x="100.45" y="500.30" font-size="12" text-anchor="middle" fill="#222" >1</text>
<line x1="129.93" x2="129.93" y1="487.20" y2="488.80" stroke="#444" stroke-width="0.7"/>
<line x1="159.40" x2="159.40" y1="487.20" y2="489.80" stroke="#444" stroke-width="0.7"/>
<text x="159.40" y="500.30" font-size="12" text-anchor="middle" fill="#222" >2</text>
<line x1="188.88" x2="188.88" y1="487.20" y2="488.80" stroke="#444" stroke-width="0.7"/>
<line x1="218.35" x2="218.35" y1="487.20" y2="489.80" stroke="#444" stroke-width="0.7"/>
<text x="218.35" y="500.30" font-size="12" text-anchor="middle" fill="#222" >3</text>
<line x1="247.83" x2="247.83" y1="487.20" y2="488.80" stroke="#444" stroke-width="0.7"/>
<line x1="277.30" x2="277.30" y1="487.20" y2="489.80" stroke="#444" stroke-width="0.7"/>
<text x="277.30" y="500.30" font-size="12" text-anchor="middle" fill="#222" >4</text>
<text x="110.60" y="515.00" font-size="12.2" textLength="124.70" lengthAdjust="spacingAndGlyphs" fill="#222" >Amount of Co (arb. u.)</text>
<rect x="291.80" y="259.00" width="11.80" height="228.40" fill="url(#cm)" stroke="#777" stroke-width="0.5"/>
<line x1="303.60" x2="306.10" y1="487.40" y2="487.40" stroke="#444" stroke-width="0.7"/>
<text x="309.60" y="493.20" font-size="12" textLength="18.00" lengthAdjust="spacingAndGlyphs" fill="#222" >0.0</text>
<line x1="303.60" x2="306.10" y1="441.72" y2="441.72" stroke="#444" stroke-width="0.7"/>
<text x="309.60" y="447.52" font-size="12" textLength="18.00" lengthAdjust="spacingAndGlyphs" fill="#222" >0.2</text>
<line x1="303.60" x2="306.10" y1="396.04" y2="396.04" stroke="#444" stroke-width="0.7"/>
<text x="309.60" y="401.84" font-size="12" textLength="18.00" lengthAdjust="spacingAndGlyphs" fill="#222" >0.4</text>
<line x1="303.60" x2="306.10" y1="350.36" y2="350.36" stroke="#444" stroke-width="0.7"/>
<text x="309.60" y="356.16" font-size="12" textLength="18.00" lengthAdjust="spacingAndGlyphs" fill="#222" >0.6</text>
<line x1="303.60" x2="306.10" y1="304.68" y2="304.68" stroke="#444" stroke-width="0.7"/>
<text x="309.60" y="310.48" font-size="12" textLength="18.00" lengthAdjust="spacingAndGlyphs" fill="#222" >0.8</text>
<line x1="303.60" x2="306.10" y1="259.00" y2="259.00" stroke="#444" stroke-width="0.7"/>
<text x="309.60" y="264.80" font-size="12" textLength="18.00" lengthAdjust="spacingAndGlyphs" fill="#222" >1.0</text>
<text x="342.80" y="415.00" font-size="12" textLength="85.90" lengthAdjust="spacingAndGlyphs" transform="rotate(-90 342.80 415.00)" fill="#222" >Fraction of CoO</text>
<path d="M24.30,266.80 L32.45,258.50 L40.60,266.80 L37.00,266.80 L37.00,310.60 L28.10,310.60 L28.10,266.80 Z" fill="#c7e3ee"/>
<path d="M24.30,318.80 L32.45,310.80 L40.60,318.80 L37.00,318.80 L37.00,353.90 L28.10,353.90 L28.10,318.80 Z" fill="#e8c2ef"/>
<path d="M24.30,362.90 L32.45,354.60 L40.60,362.90 L37.00,362.90 L37.00,436.80 L28.10,436.80 L28.10,362.90 Z" fill="#e2f5d9"/>
<path d="M24.30,446.30 L32.45,437.60 L40.60,446.30 L37.00,446.30 L37.00,484.90 L28.10,484.90 L28.10,446.30 Z" fill="#c7e3ee"/>
<text x="23.20" y="301.90" font-size="13.5" textLength="37.70" lengthAdjust="spacingAndGlyphs" transform="rotate(-90 23.20 301.90)" fill="#222" >900 °C</text>
<text x="23.20" y="350.90" font-size="13.5" textLength="37.30" lengthAdjust="spacingAndGlyphs" transform="rotate(-90 23.20 350.90)" fill="#222" >800 °C</text>
<text x="23.20" y="405.70" font-size="13.5" textLength="37.00" lengthAdjust="spacingAndGlyphs" transform="rotate(-90 23.20 405.70)" fill="#222" >850 °C</text>
<text x="23.50" y="481.20" font-size="13.5" textLength="37.10" lengthAdjust="spacingAndGlyphs" transform="rotate(-90 23.50 481.20)" fill="#222" >900 °C</text>
<path d="M41.8,355.8V362.6M41.8,368.1V375.7M41.8,380.5V387.9M41.8,393V400.3M41.8,406V413M109.8,357V364M109.8,369.3V376M109.8,381.7V388.8M109.8,394.2V401.2M109.8,407V413.5M48.2,356.4H54.9M60.5,356.4H67.2M73,356.4H79.8M85.3,356.4H92M98.1,356.4H104.9M46.6,412.8H53.6M59,412.8H66M71.4,412.8H78.5M84,412.8H91.1M96.5,412.8H103.5" fill="none" stroke="#4ccf6c" stroke-width="1.5"/>
<path d="M383.50,259.30H619.00V487.90H383.50" fill="none" stroke="#444" stroke-width="0.6"/>
<line x1="383.50" x2="383.50" y1="259.30" y2="487.90" stroke="#999" stroke-width="0.7"/>
<line x1="381.50" x2="383.50" y1="445.57" y2="445.57" stroke="#444" stroke-width="0.7"/>
<line x1="381.50" x2="383.50" y1="403.23" y2="403.23" stroke="#444" stroke-width="0.7"/>
<line x1="381.50" x2="383.50" y1="360.90" y2="360.90" stroke="#444" stroke-width="0.7"/>
<line x1="381.50" x2="383.50" y1="318.57" y2="318.57" stroke="#444" stroke-width="0.7"/>
<line x1="381.50" x2="383.50" y1="276.23" y2="276.23" stroke="#444" stroke-width="0.7"/>
<line x1="383.50" x2="383.50" y1="487.90" y2="490.50" stroke="#444" stroke-width="0.7"/>
<text x="383.50" y="500.30" font-size="12" text-anchor="middle" fill="#222" >0</text>
<line x1="412.94" x2="412.94" y1="487.90" y2="489.50" stroke="#444" stroke-width="0.7"/>
<line x1="442.38" x2="442.38" y1="487.90" y2="490.50" stroke="#444" stroke-width="0.7"/>
<text x="442.38" y="500.30" font-size="12" text-anchor="middle" fill="#222" >1</text>
<line x1="471.81" x2="471.81" y1="487.90" y2="489.50" stroke="#444" stroke-width="0.7"/>
<line x1="501.25" x2="501.25" y1="487.90" y2="490.50" stroke="#444" stroke-width="0.7"/>
<text x="501.25" y="500.30" font-size="12" text-anchor="middle" fill="#222" >2</text>
<line x1="530.69" x2="530.69" y1="487.90" y2="489.50" stroke="#444" stroke-width="0.7"/>
<line x1="560.12" x2="560.12" y1="487.90" y2="490.50" stroke="#444" stroke-width="0.7"/>
<text x="560.12" y="500.30" font-size="12" text-anchor="middle" fill="#222" >3</text>
<line x1="589.56" x2="589.56" y1="487.90" y2="489.50" stroke="#444" stroke-width="0.7"/>
<line x1="619.00" x2="619.00" y1="487.90" y2="490.50" stroke="#444" stroke-width="0.7"/>
<text x="619.00" y="500.30" font-size="12" text-anchor="middle" fill="#222" >4</text>
<text x="455.00" y="512.70" font-size="12.2" textLength="124.00" lengthAdjust="spacingAndGlyphs" fill="#222" >Amount of Co (arb. u.)</text>
<rect x="633.30" y="259.30" width="11.70" height="228.60" fill="url(#cm)" stroke="#777" stroke-width="0.5"/>
<line x1="645.00" x2="647.50" y1="487.90" y2="487.90" stroke="#444" stroke-width="0.7"/>
<text x="648.90" y="493.70" font-size="12" textLength="18.00" lengthAdjust="spacingAndGlyphs" fill="#222" >0.0</text>
<line x1="645.00" x2="647.50" y1="442.18" y2="442.18" stroke="#444" stroke-width="0.7"/>
<text x="648.90" y="447.98" font-size="12" textLength="18.00" lengthAdjust="spacingAndGlyphs" fill="#222" >0.2</text>
<line x1="645.00" x2="647.50" y1="396.46" y2="396.46" stroke="#444" stroke-width="0.7"/>
<text x="648.90" y="402.26" font-size="12" textLength="18.00" lengthAdjust="spacingAndGlyphs" fill="#222" >0.4</text>
<line x1="645.00" x2="647.50" y1="350.74" y2="350.74" stroke="#444" stroke-width="0.7"/>
<text x="648.90" y="356.54" font-size="12" textLength="18.00" lengthAdjust="spacingAndGlyphs" fill="#222" >0.6</text>
<line x1="645.00" x2="647.50" y1="305.02" y2="305.02" stroke="#444" stroke-width="0.7"/>
<text x="648.90" y="310.82" font-size="12" textLength="18.00" lengthAdjust="spacingAndGlyphs" fill="#222" >0.8</text>
<line x1="645.00" x2="647.50" y1="259.30" y2="259.30" stroke="#444" stroke-width="0.7"/>
<text x="648.90" y="265.10" font-size="12" textLength="18.00" lengthAdjust="spacingAndGlyphs" fill="#222" >1.0</text>
<text x="683.60" y="415.00" font-size="12" textLength="82.90" lengthAdjust="spacingAndGlyphs" transform="rotate(-90 683.60 415.00)" fill="#222" >Fraction of CoO</text>
<path d="M366.30,267.70 L374.35,259.00 L382.40,267.70 L378.60,267.70 L378.60,308.80 L370.00,308.80 L370.00,267.70 Z" fill="#c7e3ee"/>
<path d="M366.30,318.60 L374.35,310.00 L382.40,318.60 L378.60,318.60 L378.60,350.50 L370.00,350.50 L370.00,318.60 Z" fill="#e8c2ef"/>
<path d="M366.30,361.20 L374.35,352.20 L382.40,361.20 L378.60,361.20 L378.60,427.90 L370.00,427.90 L370.00,361.20 Z" fill="#e2f5d9"/>
<path d="M366.30,438.00 L374.35,429.20 L382.40,438.00 L378.60,438.00 L378.60,486.80 L370.00,486.80 L370.00,438.00 Z" fill="#c7e3ee"/>
<text x="365.20" y="304.10" font-size="13.5" textLength="36.90" lengthAdjust="spacingAndGlyphs" transform="rotate(-90 365.20 304.10)" fill="#222" >900 °C</text>
<text x="365.20" y="350.30" font-size="13.5" textLength="37.70" lengthAdjust="spacingAndGlyphs" transform="rotate(-90 365.20 350.30)" fill="#222" >800 °C</text>
<text x="365.20" y="412.00" font-size="13.5" textLength="37.60" lengthAdjust="spacingAndGlyphs" transform="rotate(-90 365.20 412.00)" fill="#222" >850 °C</text>
<text x="365.40" y="483.20" font-size="13.5" textLength="38.90" lengthAdjust="spacingAndGlyphs" transform="rotate(-90 365.40 483.20)" fill="#222" >900 °C</text>
<path d="M383.4,351.4V357M383.4,363.1V370.2M383.4,375.7V382.8M383.4,387.4V394.5M383.4,400.5V407.6M383.4,413.1V420.9M451.2,353.2V360.3M451.2,365.8V372.9M451.2,378.4V385.2M451.2,391.2V397.8M451.2,403.3V410.4M451.2,415.8V420.9M389.9,352.1H397M402.4,352.1H409.6M415,352.1H422.2M427.6,352.1H434.7M440,352.1H447M386,420.2H393.1M398.6,420.2H405.7M411.2,420.2H418.3M423.8,420.2H430.9M436.4,420.2H443M449,420.2H451.9" fill="none" stroke="#4ccf6c" stroke-width="1.5"/>
</svg></div></body></html>
